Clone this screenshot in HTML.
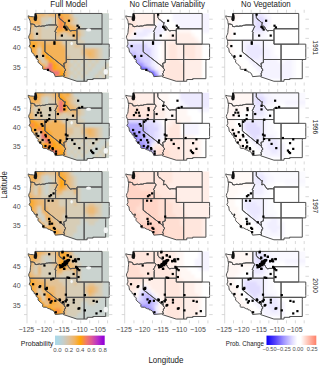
<!DOCTYPE html><html><head><meta charset="utf-8"><style>html,body{margin:0;padding:0;background:#fff;width:320px;height:367px;overflow:hidden;font-family:"Liberation Sans",sans-serif}</style></head><body><svg width="320" height="367" viewBox="0 0 320 367" style="position:absolute;left:0;top:0">
<defs><clipPath id="cp00"><path d="M35.06 13.45 L55.51 13.45 L55.51 23.35 L55.94 24.96 L48.56 24.96 L47.42 25.23 L46.34 25.27 L44.19 26.04 L42.58 25.96 L40.61 26.42 L39.54 26.04 L38.1 26.31 L36.85 26.69 L34.99 26.42 L34.88 25.54 L34.52 24.58 L33.45 24.31 L32.37 24 L30.58 23.97 L30.3 22.66 L30.22 21.51 L29.87 20.36 L29.15 18.82 L28.25 17.29 L27.97 15.83 L30.22 16.52 L33.45 16.83 L35.06 16.71 L35.06 13.45ZM30.58 23.97 L30.58 23.97 L32.37 24 L33.45 24.31 L34.52 24.58 L34.88 25.54 L34.99 26.42 L36.85 26.69 L38.1 26.31 L39.54 26.04 L40.61 26.42 L42.58 25.96 L44.19 26.04 L46.34 25.27 L47.42 25.23 L48.56 24.96 L55.94 24.96 L56.52 25.65 L57.55 26.5 L57.27 27.03 L56.77 27.76 L56.19 28.8 L56.05 29.41 L55.3 30.72 L54.83 31.49 L55.48 31.75 L55.84 32.45 L55.55 33.4 L55.55 40.31 L29.83 40.31 L29.15 38.78 L28.61 37.24 L29.15 35.32 L29.87 34.17 L30.22 32.64 L30.4 29.95 L30.76 26.88 L30.83 24.96 L30.58 23.97ZM29.83 40.31 L44.91 40.31 L44.91 51.82 L64.15 67.17 L64.36 67.94 L65.15 69.28 L65.94 69.97 L64.86 70.7 L64.5 71.39 L64.61 72.54 L63.82 73.31 L63.89 74.65 L64.72 75.42 L63.82 75.92 L55.23 76.65 L54.76 75.23 L53.86 73.31 L52.07 72.16 L50.64 71.97 L50.28 70.89 L49.21 71.01 L47.78 70.43 L46.34 69.47 L43.3 69.28 L42.58 68.7 L42.76 66.79 L41.69 65.44 L40.25 64.48 L38.1 62.18 L37.93 61.03 L38.46 60.26 L37.75 59.69 L36.31 58.73 L35.95 57.19 L35.95 56.43 L34.16 55.66 L34.16 54.51 L31.66 52.21 L31.3 49.9 L31.12 48.37 L29.33 46.83 L29.15 46.26 L30.22 44.15 L29.87 41.46 L29.83 40.31ZM44.91 40.31 L66.26 40.31 L66.26 62.6 L65.08 62.83 L63.75 63.37 L64.04 65.25 L64.36 66.59 L64.15 67.17 L44.91 51.82ZM55.51 13.45 L59.06 13.45 L59.06 17.37 L60.13 19.02 L60.35 19.51 L61.75 20.17 L63.03 21.39 L64.43 22.47 L65.22 22.43 L64.72 24.39 L64.97 25.46 L64.4 25.85 L64.61 26.65 L66.4 26.19 L67.12 26.5 L68.37 28.57 L69.98 30.72 L70.7 30.91 L72.31 30.53 L75.46 30.53 L76.97 30.8 L76.97 40.31 L55.55 40.31 L55.55 33.4 L55.84 32.45 L55.48 31.75 L54.83 31.49 L55.3 30.72 L56.05 29.41 L56.19 28.8 L56.77 27.76 L57.27 27.03 L57.55 26.5 L56.52 25.65 L55.94 24.96 L55.51 23.35ZM59.06 13.45 L102.04 13.45 L102.04 28.8 L76.97 28.8 L76.97 30.8 L75.46 30.53 L72.31 30.53 L70.7 30.91 L69.98 30.72 L68.37 28.57 L67.12 26.5 L66.4 26.19 L64.61 26.65 L64.4 25.85 L64.97 25.46 L64.72 24.39 L65.22 22.43 L64.43 22.47 L63.03 21.39 L61.75 20.17 L60.35 19.51 L60.13 19.02 L59.06 17.37 L59.06 13.45ZM76.97 28.8 L102.04 28.8 L102.04 44.15 L76.97 44.15ZM66.26 40.31 L76.97 40.31 L76.97 44.15 L84.13 44.15 L84.13 59.5 L66.26 59.5ZM84.13 44.15 L109.21 44.15 L109.21 59.5 L84.13 59.5ZM66.26 59.5 L84.13 59.5 L84.13 81.25 L76.9 81.25 L63.5 76.8 L63.82 75.92 L64.72 75.42 L63.89 74.65 L63.82 73.31 L64.61 72.54 L64.5 71.39 L64.86 70.7 L65.94 69.97 L65.15 69.28 L64.36 67.94 L64.15 67.17 L64.36 66.59 L64.04 65.25 L63.75 63.37 L65.08 62.83 L66.22 62.6ZM84.13 59.5 L105.8 59.5 L105.66 61.41 L105.66 78.68 L92.84 78.68 L93.16 79.53 L87.14 79.53 L87.14 81.25 L84.13 81.25ZM102.04 13.45 L108.85 13.45 L108.85 44.15 L102.04 44.15ZM105.66 59.5 L108.85 59.5 L108.85 78.68 L105.66 78.68Z"/></clipPath><clipPath id="cp01"><path d="M133.02 13.45 L154.14 13.45 L154.14 23.35 L154.58 24.96 L146.96 24.96 L145.78 25.23 L144.67 25.27 L142.45 26.04 L140.79 25.96 L138.75 26.42 L137.64 26.04 L136.16 26.31 L134.87 26.69 L132.95 26.42 L132.84 25.54 L132.47 24.58 L131.36 24.31 L130.25 24 L128.4 23.97 L128.1 22.66 L128.03 21.51 L127.66 20.36 L126.92 18.82 L125.99 17.29 L125.7 15.83 L128.03 16.52 L131.36 16.83 L133.02 16.71 L133.02 13.45ZM128.4 23.97 L128.4 23.97 L130.25 24 L131.36 24.31 L132.47 24.58 L132.84 25.54 L132.95 26.42 L134.87 26.69 L136.16 26.31 L137.64 26.04 L138.75 26.42 L140.79 25.96 L142.45 26.04 L144.67 25.27 L145.78 25.23 L146.96 24.96 L154.58 24.96 L155.17 25.65 L156.24 26.5 L155.95 27.03 L155.43 27.76 L154.84 28.8 L154.69 29.41 L153.91 30.72 L153.43 31.49 L154.1 31.75 L154.47 32.45 L154.17 33.4 L154.17 40.31 L127.62 40.31 L126.92 38.78 L126.36 37.24 L126.92 35.32 L127.66 34.17 L128.03 32.64 L128.21 29.95 L128.58 26.88 L128.66 24.96 L128.4 23.97ZM127.62 40.31 L143.19 40.31 L143.19 51.82 L163.05 67.17 L163.27 67.94 L164.08 69.28 L164.9 69.97 L163.79 70.7 L163.42 71.39 L163.53 72.54 L162.72 73.31 L162.79 74.65 L163.64 75.42 L162.72 75.92 L153.84 76.65 L153.36 75.23 L152.44 73.31 L150.59 72.16 L149.11 71.97 L148.74 70.89 L147.63 71.01 L146.15 70.43 L144.67 69.47 L141.53 69.28 L140.79 68.7 L140.97 66.79 L139.86 65.44 L138.38 64.48 L136.16 62.18 L135.98 61.03 L136.53 60.26 L135.79 59.69 L134.31 58.73 L133.94 57.19 L133.94 56.43 L132.1 55.66 L132.1 54.51 L129.51 52.21 L129.14 49.9 L128.95 48.37 L127.1 46.83 L126.92 46.26 L128.03 44.15 L127.66 41.46 L127.62 40.31ZM143.19 40.31 L165.23 40.31 L165.23 62.6 L164.01 62.83 L162.64 63.37 L162.94 65.25 L163.27 66.59 L163.05 67.17 L143.19 51.82ZM154.14 13.45 L157.8 13.45 L157.8 17.37 L158.91 19.02 L159.13 19.51 L160.57 20.17 L161.9 21.39 L163.34 22.47 L164.16 22.43 L163.64 24.39 L163.9 25.46 L163.31 25.85 L163.53 26.65 L165.38 26.19 L166.12 26.5 L167.41 28.57 L169.08 30.72 L169.82 30.91 L171.48 30.53 L174.73 30.53 L176.29 30.8 L176.29 40.31 L154.17 40.31 L154.17 33.4 L154.47 32.45 L154.1 31.75 L153.43 31.49 L153.91 30.72 L154.69 29.41 L154.84 28.8 L155.43 27.76 L155.95 27.03 L156.24 26.5 L155.17 25.65 L154.58 24.96 L154.14 23.35ZM157.8 13.45 L202.17 13.45 L202.17 28.8 L176.29 28.8 L176.29 30.8 L174.73 30.53 L171.48 30.53 L169.82 30.91 L169.08 30.72 L167.41 28.57 L166.12 26.5 L165.38 26.19 L163.53 26.65 L163.31 25.85 L163.9 25.46 L163.64 24.39 L164.16 22.43 L163.34 22.47 L161.9 21.39 L160.57 20.17 L159.13 19.51 L158.91 19.02 L157.8 17.37 L157.8 13.45ZM176.29 28.8 L202.17 28.8 L202.17 44.15 L176.29 44.15ZM165.23 40.31 L176.29 40.31 L176.29 44.15 L183.68 44.15 L183.68 59.5 L165.23 59.5ZM183.68 44.15 L209.57 44.15 L209.57 59.5 L183.68 59.5ZM165.23 59.5 L183.68 59.5 L183.68 81.25 L176.21 81.25 L162.38 76.8 L162.72 75.92 L163.64 75.42 L162.79 74.65 L162.72 73.31 L163.53 72.54 L163.42 71.39 L163.79 70.7 L164.9 69.97 L164.08 69.28 L163.27 67.94 L163.05 67.17 L163.27 66.59 L162.94 65.25 L162.64 63.37 L164.01 62.83 L165.19 62.6ZM183.68 59.5 L206.06 59.5 L205.91 61.41 L205.91 78.68 L192.67 78.68 L193 79.53 L186.79 79.53 L186.79 81.25 L183.68 81.25ZM202.17 13.45 L209.2 13.45 L209.2 44.15 L202.17 44.15Z"/></clipPath><clipPath id="cp02"><path d="M232.65 13.45 L252.82 13.45 L252.82 23.35 L253.25 24.96 L245.97 24.96 L244.84 25.23 L243.78 25.27 L241.66 26.04 L240.07 25.96 L238.13 26.42 L237.07 26.04 L235.65 26.31 L234.42 26.69 L232.58 26.42 L232.47 25.54 L232.12 24.58 L231.06 24.31 L230 24 L228.23 23.97 L227.95 22.66 L227.88 21.51 L227.53 20.36 L226.82 18.82 L225.94 17.29 L225.65 15.83 L227.88 16.52 L231.06 16.83 L232.65 16.71 L232.65 13.45ZM228.23 23.97 L228.23 23.97 L230 24 L231.06 24.31 L232.12 24.58 L232.47 25.54 L232.58 26.42 L234.42 26.69 L235.65 26.31 L237.07 26.04 L238.13 26.42 L240.07 25.96 L241.66 26.04 L243.78 25.27 L244.84 25.23 L245.97 24.96 L253.25 24.96 L253.81 25.65 L254.84 26.5 L254.55 27.03 L254.06 27.76 L253.49 28.8 L253.35 29.41 L252.61 30.72 L252.15 31.49 L252.79 31.75 L253.14 32.45 L252.86 33.4 L252.86 40.31 L227.49 40.31 L226.82 38.78 L226.29 37.24 L226.82 35.32 L227.53 34.17 L227.88 32.64 L228.06 29.95 L228.41 26.88 L228.48 24.96 L228.23 23.97ZM227.49 40.31 L242.36 40.31 L242.36 51.82 L261.34 67.17 L261.55 67.94 L262.33 69.28 L263.1 69.97 L262.04 70.7 L261.69 71.39 L261.8 72.54 L261.02 73.31 L261.09 74.65 L261.9 75.42 L261.02 75.92 L252.54 76.65 L252.08 75.23 L251.2 73.31 L249.43 72.16 L248.02 71.97 L247.66 70.89 L246.6 71.01 L245.19 70.43 L243.78 69.47 L240.78 69.28 L240.07 68.7 L240.25 66.79 L239.19 65.44 L237.77 64.48 L235.65 62.18 L235.48 61.03 L236.01 60.26 L235.3 59.69 L233.89 58.73 L233.53 57.19 L233.53 56.43 L231.77 55.66 L231.77 54.51 L229.29 52.21 L228.94 49.9 L228.76 48.37 L227 46.83 L226.82 46.26 L227.88 44.15 L227.53 41.46 L227.49 40.31ZM242.36 40.31 L263.42 40.31 L263.42 62.6 L262.26 62.83 L260.95 63.37 L261.23 65.25 L261.55 66.59 L261.34 67.17 L242.36 51.82ZM252.82 13.45 L256.32 13.45 L256.32 17.37 L257.38 19.02 L257.59 19.51 L258.97 20.17 L260.24 21.39 L261.62 22.47 L262.4 22.43 L261.9 24.39 L262.15 25.46 L261.58 25.85 L261.8 26.65 L263.56 26.19 L264.27 26.5 L265.51 28.57 L267.1 30.72 L267.8 30.91 L269.39 30.53 L272.5 30.53 L273.99 30.8 L273.99 40.31 L252.86 40.31 L252.86 33.4 L253.14 32.45 L252.79 31.75 L252.15 31.49 L252.61 30.72 L253.35 29.41 L253.49 28.8 L254.06 27.76 L254.55 27.03 L254.84 26.5 L253.81 25.65 L253.25 24.96 L252.82 23.35ZM256.32 13.45 L298.72 13.45 L298.72 28.8 L273.99 28.8 L273.99 30.8 L272.5 30.53 L269.39 30.53 L267.8 30.91 L267.1 30.72 L265.51 28.57 L264.27 26.5 L263.56 26.19 L261.8 26.65 L261.58 25.85 L262.15 25.46 L261.9 24.39 L262.4 22.43 L261.62 22.47 L260.24 21.39 L258.97 20.17 L257.59 19.51 L257.38 19.02 L256.32 17.37 L256.32 13.45ZM273.99 28.8 L298.72 28.8 L298.72 44.15 L273.99 44.15ZM263.42 40.31 L273.99 40.31 L273.99 44.15 L281.05 44.15 L281.05 59.5 L263.42 59.5ZM281.05 44.15 L305.78 44.15 L305.78 59.5 L281.05 59.5ZM263.42 59.5 L281.05 59.5 L281.05 81.25 L273.91 81.25 L260.7 76.8 L261.02 75.92 L261.9 75.42 L261.09 74.65 L261.02 73.31 L261.8 72.54 L261.69 71.39 L262.04 70.7 L263.1 69.97 L262.33 69.28 L261.55 67.94 L261.34 67.17 L261.55 66.59 L261.23 65.25 L260.95 63.37 L262.26 62.83 L263.39 62.6ZM281.05 59.5 L302.43 59.5 L302.28 61.41 L302.28 78.68 L289.64 78.68 L289.95 79.53 L284.02 79.53 L284.02 81.25 L281.05 81.25ZM298.72 13.45 L305.43 13.45 L305.43 44.15 L298.72 44.15Z"/></clipPath><clipPath id="cp10"><path d="M35.06 92.86 L55.51 92.86 L55.51 102.69 L55.94 104.29 L48.56 104.29 L47.42 104.56 L46.34 104.59 L44.19 105.36 L42.58 105.28 L40.61 105.74 L39.54 105.36 L38.1 105.62 L36.85 106 L34.99 105.74 L34.88 104.86 L34.52 103.91 L33.45 103.64 L32.37 103.34 L30.58 103.3 L30.3 102 L30.22 100.86 L29.87 99.72 L29.15 98.19 L28.25 96.67 L27.97 95.22 L30.22 95.91 L33.45 96.21 L35.06 96.1 L35.06 92.86ZM30.58 103.3 L30.58 103.3 L32.37 103.34 L33.45 103.64 L34.52 103.91 L34.88 104.86 L34.99 105.74 L36.85 106 L38.1 105.62 L39.54 105.36 L40.61 105.74 L42.58 105.28 L44.19 105.36 L46.34 104.59 L47.42 104.56 L48.56 104.29 L55.94 104.29 L56.52 104.98 L57.55 105.81 L57.27 106.35 L56.77 107.07 L56.19 108.1 L56.05 108.71 L55.3 110 L54.83 110.77 L55.48 111.03 L55.84 111.72 L55.55 112.67 L55.55 119.53 L29.83 119.53 L29.15 118.01 L28.61 116.48 L29.15 114.58 L29.87 113.43 L30.22 111.91 L30.4 109.24 L30.76 106.19 L30.83 104.29 L30.58 103.3ZM29.83 119.53 L44.91 119.53 L44.91 130.96 L64.15 146.2 L64.36 146.96 L65.15 148.3 L65.94 148.98 L64.86 149.71 L64.5 150.39 L64.61 151.53 L63.82 152.3 L63.89 153.63 L64.72 154.39 L63.82 154.89 L55.23 155.61 L54.76 154.2 L53.86 152.3 L52.07 151.15 L50.64 150.96 L50.28 149.9 L49.21 150.01 L47.78 149.44 L46.34 148.49 L43.3 148.3 L42.58 147.72 L42.76 145.82 L41.69 144.49 L40.25 143.53 L38.1 141.25 L37.93 140.1 L38.46 139.34 L37.75 138.77 L36.31 137.82 L35.95 136.29 L35.95 135.53 L34.16 134.77 L34.16 133.63 L31.66 131.34 L31.3 129.06 L31.12 127.53 L29.33 126.01 L29.15 125.44 L30.22 123.34 L29.87 120.67 L29.83 119.53ZM44.91 119.53 L66.26 119.53 L66.26 141.67 L65.08 141.89 L63.75 142.43 L64.04 144.29 L64.36 145.63 L64.15 146.2 L44.91 130.96ZM55.51 92.86 L59.06 92.86 L59.06 96.75 L60.13 98.38 L60.35 98.88 L61.75 99.53 L63.03 100.75 L64.43 101.81 L65.22 101.78 L64.72 103.72 L64.97 104.79 L64.4 105.17 L64.61 105.97 L66.4 105.51 L67.12 105.81 L68.37 107.87 L69.98 110 L70.7 110.2 L72.31 109.81 L75.46 109.81 L76.97 110.08 L76.97 119.53 L55.55 119.53 L55.55 112.67 L55.84 111.72 L55.48 111.03 L54.83 110.77 L55.3 110 L56.05 108.71 L56.19 108.1 L56.77 107.07 L57.27 106.35 L57.55 105.81 L56.52 104.98 L55.94 104.29 L55.51 102.69ZM59.06 92.86 L102.04 92.86 L102.04 108.1 L76.97 108.1 L76.97 110.08 L75.46 109.81 L72.31 109.81 L70.7 110.2 L69.98 110 L68.37 107.87 L67.12 105.81 L66.4 105.51 L64.61 105.97 L64.4 105.17 L64.97 104.79 L64.72 103.72 L65.22 101.78 L64.43 101.81 L63.03 100.75 L61.75 99.53 L60.35 98.88 L60.13 98.38 L59.06 96.75 L59.06 92.86ZM76.97 108.1 L102.04 108.1 L102.04 123.34 L76.97 123.34ZM66.26 119.53 L76.97 119.53 L76.97 123.34 L84.13 123.34 L84.13 138.58 L66.26 138.58ZM84.13 123.34 L109.21 123.34 L109.21 138.58 L84.13 138.58ZM66.26 138.58 L84.13 138.58 L84.13 160.18 L76.9 160.18 L63.5 155.76 L63.82 154.89 L64.72 154.39 L63.89 153.63 L63.82 152.3 L64.61 151.53 L64.5 150.39 L64.86 149.71 L65.94 148.98 L65.15 148.3 L64.36 146.96 L64.15 146.2 L64.36 145.63 L64.04 144.29 L63.75 142.43 L65.08 141.89 L66.22 141.67ZM84.13 138.58 L105.8 138.58 L105.66 140.48 L105.66 157.63 L92.84 157.63 L93.16 158.47 L87.14 158.47 L87.14 160.18 L84.13 160.18ZM102.04 92.86 L108.85 92.86 L108.85 123.34 L102.04 123.34ZM105.66 138.58 L108.85 138.58 L108.85 157.63 L105.66 157.63Z"/></clipPath><clipPath id="cp11"><path d="M133.02 92.86 L154.14 92.86 L154.14 102.69 L154.58 104.29 L146.96 104.29 L145.78 104.56 L144.67 104.59 L142.45 105.36 L140.79 105.28 L138.75 105.74 L137.64 105.36 L136.16 105.62 L134.87 106 L132.95 105.74 L132.84 104.86 L132.47 103.91 L131.36 103.64 L130.25 103.34 L128.4 103.3 L128.1 102 L128.03 100.86 L127.66 99.72 L126.92 98.19 L125.99 96.67 L125.7 95.22 L128.03 95.91 L131.36 96.21 L133.02 96.1 L133.02 92.86ZM128.4 103.3 L128.4 103.3 L130.25 103.34 L131.36 103.64 L132.47 103.91 L132.84 104.86 L132.95 105.74 L134.87 106 L136.16 105.62 L137.64 105.36 L138.75 105.74 L140.79 105.28 L142.45 105.36 L144.67 104.59 L145.78 104.56 L146.96 104.29 L154.58 104.29 L155.17 104.98 L156.24 105.81 L155.95 106.35 L155.43 107.07 L154.84 108.1 L154.69 108.71 L153.91 110 L153.43 110.77 L154.1 111.03 L154.47 111.72 L154.17 112.67 L154.17 119.53 L127.62 119.53 L126.92 118.01 L126.36 116.48 L126.92 114.58 L127.66 113.43 L128.03 111.91 L128.21 109.24 L128.58 106.19 L128.66 104.29 L128.4 103.3ZM127.62 119.53 L143.19 119.53 L143.19 130.96 L163.05 146.2 L163.27 146.96 L164.08 148.3 L164.9 148.98 L163.79 149.71 L163.42 150.39 L163.53 151.53 L162.72 152.3 L162.79 153.63 L163.64 154.39 L162.72 154.89 L153.84 155.61 L153.36 154.2 L152.44 152.3 L150.59 151.15 L149.11 150.96 L148.74 149.9 L147.63 150.01 L146.15 149.44 L144.67 148.49 L141.53 148.3 L140.79 147.72 L140.97 145.82 L139.86 144.49 L138.38 143.53 L136.16 141.25 L135.98 140.1 L136.53 139.34 L135.79 138.77 L134.31 137.82 L133.94 136.29 L133.94 135.53 L132.1 134.77 L132.1 133.63 L129.51 131.34 L129.14 129.06 L128.95 127.53 L127.1 126.01 L126.92 125.44 L128.03 123.34 L127.66 120.67 L127.62 119.53ZM143.19 119.53 L165.23 119.53 L165.23 141.67 L164.01 141.89 L162.64 142.43 L162.94 144.29 L163.27 145.63 L163.05 146.2 L143.19 130.96ZM154.14 92.86 L157.8 92.86 L157.8 96.75 L158.91 98.38 L159.13 98.88 L160.57 99.53 L161.9 100.75 L163.34 101.81 L164.16 101.78 L163.64 103.72 L163.9 104.79 L163.31 105.17 L163.53 105.97 L165.38 105.51 L166.12 105.81 L167.41 107.87 L169.08 110 L169.82 110.2 L171.48 109.81 L174.73 109.81 L176.29 110.08 L176.29 119.53 L154.17 119.53 L154.17 112.67 L154.47 111.72 L154.1 111.03 L153.43 110.77 L153.91 110 L154.69 108.71 L154.84 108.1 L155.43 107.07 L155.95 106.35 L156.24 105.81 L155.17 104.98 L154.58 104.29 L154.14 102.69ZM157.8 92.86 L202.17 92.86 L202.17 108.1 L176.29 108.1 L176.29 110.08 L174.73 109.81 L171.48 109.81 L169.82 110.2 L169.08 110 L167.41 107.87 L166.12 105.81 L165.38 105.51 L163.53 105.97 L163.31 105.17 L163.9 104.79 L163.64 103.72 L164.16 101.78 L163.34 101.81 L161.9 100.75 L160.57 99.53 L159.13 98.88 L158.91 98.38 L157.8 96.75 L157.8 92.86ZM176.29 108.1 L202.17 108.1 L202.17 123.34 L176.29 123.34ZM165.23 119.53 L176.29 119.53 L176.29 123.34 L183.68 123.34 L183.68 138.58 L165.23 138.58ZM183.68 123.34 L209.57 123.34 L209.57 138.58 L183.68 138.58ZM165.23 138.58 L183.68 138.58 L183.68 160.18 L176.21 160.18 L162.38 155.76 L162.72 154.89 L163.64 154.39 L162.79 153.63 L162.72 152.3 L163.53 151.53 L163.42 150.39 L163.79 149.71 L164.9 148.98 L164.08 148.3 L163.27 146.96 L163.05 146.2 L163.27 145.63 L162.94 144.29 L162.64 142.43 L164.01 141.89 L165.19 141.67ZM183.68 138.58 L206.06 138.58 L205.91 140.48 L205.91 157.63 L192.67 157.63 L193 158.47 L186.79 158.47 L186.79 160.18 L183.68 160.18ZM202.17 92.86 L209.2 92.86 L209.2 123.34 L202.17 123.34Z"/></clipPath><clipPath id="cp12"><path d="M232.65 92.86 L252.82 92.86 L252.82 102.69 L253.25 104.29 L245.97 104.29 L244.84 104.56 L243.78 104.59 L241.66 105.36 L240.07 105.28 L238.13 105.74 L237.07 105.36 L235.65 105.62 L234.42 106 L232.58 105.74 L232.47 104.86 L232.12 103.91 L231.06 103.64 L230 103.34 L228.23 103.3 L227.95 102 L227.88 100.86 L227.53 99.72 L226.82 98.19 L225.94 96.67 L225.65 95.22 L227.88 95.91 L231.06 96.21 L232.65 96.1 L232.65 92.86ZM228.23 103.3 L228.23 103.3 L230 103.34 L231.06 103.64 L232.12 103.91 L232.47 104.86 L232.58 105.74 L234.42 106 L235.65 105.62 L237.07 105.36 L238.13 105.74 L240.07 105.28 L241.66 105.36 L243.78 104.59 L244.84 104.56 L245.97 104.29 L253.25 104.29 L253.81 104.98 L254.84 105.81 L254.55 106.35 L254.06 107.07 L253.49 108.1 L253.35 108.71 L252.61 110 L252.15 110.77 L252.79 111.03 L253.14 111.72 L252.86 112.67 L252.86 119.53 L227.49 119.53 L226.82 118.01 L226.29 116.48 L226.82 114.58 L227.53 113.43 L227.88 111.91 L228.06 109.24 L228.41 106.19 L228.48 104.29 L228.23 103.3ZM227.49 119.53 L242.36 119.53 L242.36 130.96 L261.34 146.2 L261.55 146.96 L262.33 148.3 L263.1 148.98 L262.04 149.71 L261.69 150.39 L261.8 151.53 L261.02 152.3 L261.09 153.63 L261.9 154.39 L261.02 154.89 L252.54 155.61 L252.08 154.2 L251.2 152.3 L249.43 151.15 L248.02 150.96 L247.66 149.9 L246.6 150.01 L245.19 149.44 L243.78 148.49 L240.78 148.3 L240.07 147.72 L240.25 145.82 L239.19 144.49 L237.77 143.53 L235.65 141.25 L235.48 140.1 L236.01 139.34 L235.3 138.77 L233.89 137.82 L233.53 136.29 L233.53 135.53 L231.77 134.77 L231.77 133.63 L229.29 131.34 L228.94 129.06 L228.76 127.53 L227 126.01 L226.82 125.44 L227.88 123.34 L227.53 120.67 L227.49 119.53ZM242.36 119.53 L263.42 119.53 L263.42 141.67 L262.26 141.89 L260.95 142.43 L261.23 144.29 L261.55 145.63 L261.34 146.2 L242.36 130.96ZM252.82 92.86 L256.32 92.86 L256.32 96.75 L257.38 98.38 L257.59 98.88 L258.97 99.53 L260.24 100.75 L261.62 101.81 L262.4 101.78 L261.9 103.72 L262.15 104.79 L261.58 105.17 L261.8 105.97 L263.56 105.51 L264.27 105.81 L265.51 107.87 L267.1 110 L267.8 110.2 L269.39 109.81 L272.5 109.81 L273.99 110.08 L273.99 119.53 L252.86 119.53 L252.86 112.67 L253.14 111.72 L252.79 111.03 L252.15 110.77 L252.61 110 L253.35 108.71 L253.49 108.1 L254.06 107.07 L254.55 106.35 L254.84 105.81 L253.81 104.98 L253.25 104.29 L252.82 102.69ZM256.32 92.86 L298.72 92.86 L298.72 108.1 L273.99 108.1 L273.99 110.08 L272.5 109.81 L269.39 109.81 L267.8 110.2 L267.1 110 L265.51 107.87 L264.27 105.81 L263.56 105.51 L261.8 105.97 L261.58 105.17 L262.15 104.79 L261.9 103.72 L262.4 101.78 L261.62 101.81 L260.24 100.75 L258.97 99.53 L257.59 98.88 L257.38 98.38 L256.32 96.75 L256.32 92.86ZM273.99 108.1 L298.72 108.1 L298.72 123.34 L273.99 123.34ZM263.42 119.53 L273.99 119.53 L273.99 123.34 L281.05 123.34 L281.05 138.58 L263.42 138.58ZM281.05 123.34 L305.78 123.34 L305.78 138.58 L281.05 138.58ZM263.42 138.58 L281.05 138.58 L281.05 160.18 L273.91 160.18 L260.7 155.76 L261.02 154.89 L261.9 154.39 L261.09 153.63 L261.02 152.3 L261.8 151.53 L261.69 150.39 L262.04 149.71 L263.1 148.98 L262.33 148.3 L261.55 146.96 L261.34 146.2 L261.55 145.63 L261.23 144.29 L260.95 142.43 L262.26 141.89 L263.39 141.67ZM281.05 138.58 L302.43 138.58 L302.28 140.48 L302.28 157.63 L289.64 157.63 L289.95 158.47 L284.02 158.47 L284.02 160.18 L281.05 160.18ZM298.72 92.86 L305.43 92.86 L305.43 123.34 L298.72 123.34Z"/></clipPath><clipPath id="cp20"><path d="M35.06 171.56 L55.51 171.56 L55.51 181.52 L55.94 183.14 L48.56 183.14 L47.42 183.41 L46.34 183.45 L44.19 184.22 L42.58 184.14 L40.61 184.61 L39.54 184.22 L38.1 184.49 L36.85 184.88 L34.99 184.61 L34.88 183.72 L34.52 182.75 L33.45 182.48 L32.37 182.18 L30.58 182.14 L30.3 180.82 L30.22 179.67 L29.87 178.51 L29.15 176.96 L28.25 175.42 L27.97 173.95 L30.22 174.65 L33.45 174.96 L35.06 174.84 L35.06 171.56ZM30.58 182.14 L30.58 182.14 L32.37 182.18 L33.45 182.48 L34.52 182.75 L34.88 183.72 L34.99 184.61 L36.85 184.88 L38.1 184.49 L39.54 184.22 L40.61 184.61 L42.58 184.14 L44.19 184.22 L46.34 183.45 L47.42 183.41 L48.56 183.14 L55.94 183.14 L56.52 183.83 L57.55 184.68 L57.27 185.22 L56.77 185.96 L56.19 187 L56.05 187.62 L55.3 188.93 L54.83 189.7 L55.48 189.97 L55.84 190.67 L55.55 191.63 L55.55 198.58 L29.83 198.58 L29.15 197.04 L28.61 195.49 L29.15 193.56 L29.87 192.4 L30.22 190.86 L30.4 188.16 L30.76 185.07 L30.83 183.14 L30.58 182.14ZM29.83 198.58 L44.91 198.58 L44.91 210.16 L64.15 225.6 L64.36 226.37 L65.15 227.72 L65.94 228.42 L64.86 229.15 L64.5 229.85 L64.61 231 L63.82 231.78 L63.89 233.13 L64.72 233.9 L63.82 234.4 L55.23 235.13 L54.76 233.71 L53.86 231.78 L52.07 230.62 L50.64 230.43 L50.28 229.34 L49.21 229.46 L47.78 228.88 L46.34 227.92 L43.3 227.72 L42.58 227.14 L42.76 225.21 L41.69 223.86 L40.25 222.9 L38.1 220.58 L37.93 219.42 L38.46 218.65 L37.75 218.07 L36.31 217.11 L35.95 215.56 L35.95 214.79 L34.16 214.02 L34.16 212.86 L31.66 210.55 L31.3 208.23 L31.12 206.69 L29.33 205.14 L29.15 204.56 L30.22 202.44 L29.87 199.74 L29.83 198.58ZM44.91 198.58 L66.26 198.58 L66.26 221.01 L65.08 221.24 L63.75 221.78 L64.04 223.67 L64.36 225.02 L64.15 225.6 L44.91 210.16ZM55.51 171.56 L59.06 171.56 L59.06 175.5 L60.13 177.16 L60.35 177.66 L61.75 178.31 L63.03 179.55 L64.43 180.63 L65.22 180.59 L64.72 182.56 L64.97 183.64 L64.4 184.03 L64.61 184.84 L66.4 184.38 L67.12 184.68 L68.37 186.77 L69.98 188.93 L70.7 189.12 L72.31 188.74 L75.46 188.74 L76.97 189.01 L76.97 198.58 L55.55 198.58 L55.55 191.63 L55.84 190.67 L55.48 189.97 L54.83 189.7 L55.3 188.93 L56.05 187.62 L56.19 187 L56.77 185.96 L57.27 185.22 L57.55 184.68 L56.52 183.83 L55.94 183.14 L55.51 181.52ZM59.06 171.56 L102.04 171.56 L102.04 187 L76.97 187 L76.97 189.01 L75.46 188.74 L72.31 188.74 L70.7 189.12 L69.98 188.93 L68.37 186.77 L67.12 184.68 L66.4 184.38 L64.61 184.84 L64.4 184.03 L64.97 183.64 L64.72 182.56 L65.22 180.59 L64.43 180.63 L63.03 179.55 L61.75 178.31 L60.35 177.66 L60.13 177.16 L59.06 175.5 L59.06 171.56ZM76.97 187 L102.04 187 L102.04 202.44 L76.97 202.44ZM66.26 198.58 L76.97 198.58 L76.97 202.44 L84.13 202.44 L84.13 217.88 L66.26 217.88ZM84.13 202.44 L109.21 202.44 L109.21 217.88 L84.13 217.88ZM66.26 217.88 L84.13 217.88 L84.13 239.77 L76.9 239.77 L63.5 235.29 L63.82 234.4 L64.72 233.9 L63.89 233.13 L63.82 231.78 L64.61 231 L64.5 229.85 L64.86 229.15 L65.94 228.42 L65.15 227.72 L64.36 226.37 L64.15 225.6 L64.36 225.02 L64.04 223.67 L63.75 221.78 L65.08 221.24 L66.22 221.01ZM84.13 217.88 L105.8 217.88 L105.66 219.81 L105.66 237.18 L92.84 237.18 L93.16 238.03 L87.14 238.03 L87.14 239.77 L84.13 239.77ZM102.04 171.56 L108.85 171.56 L108.85 202.44 L102.04 202.44ZM105.66 217.88 L108.85 217.88 L108.85 237.18 L105.66 237.18Z"/></clipPath><clipPath id="cp21"><path d="M133.02 171.56 L154.14 171.56 L154.14 181.52 L154.58 183.14 L146.96 183.14 L145.78 183.41 L144.67 183.45 L142.45 184.22 L140.79 184.14 L138.75 184.61 L137.64 184.22 L136.16 184.49 L134.87 184.88 L132.95 184.61 L132.84 183.72 L132.47 182.75 L131.36 182.48 L130.25 182.18 L128.4 182.14 L128.1 180.82 L128.03 179.67 L127.66 178.51 L126.92 176.96 L125.99 175.42 L125.7 173.95 L128.03 174.65 L131.36 174.96 L133.02 174.84 L133.02 171.56ZM128.4 182.14 L128.4 182.14 L130.25 182.18 L131.36 182.48 L132.47 182.75 L132.84 183.72 L132.95 184.61 L134.87 184.88 L136.16 184.49 L137.64 184.22 L138.75 184.61 L140.79 184.14 L142.45 184.22 L144.67 183.45 L145.78 183.41 L146.96 183.14 L154.58 183.14 L155.17 183.83 L156.24 184.68 L155.95 185.22 L155.43 185.96 L154.84 187 L154.69 187.62 L153.91 188.93 L153.43 189.7 L154.1 189.97 L154.47 190.67 L154.17 191.63 L154.17 198.58 L127.62 198.58 L126.92 197.04 L126.36 195.49 L126.92 193.56 L127.66 192.4 L128.03 190.86 L128.21 188.16 L128.58 185.07 L128.66 183.14 L128.4 182.14ZM127.62 198.58 L143.19 198.58 L143.19 210.16 L163.05 225.6 L163.27 226.37 L164.08 227.72 L164.9 228.42 L163.79 229.15 L163.42 229.85 L163.53 231 L162.72 231.78 L162.79 233.13 L163.64 233.9 L162.72 234.4 L153.84 235.13 L153.36 233.71 L152.44 231.78 L150.59 230.62 L149.11 230.43 L148.74 229.34 L147.63 229.46 L146.15 228.88 L144.67 227.92 L141.53 227.72 L140.79 227.14 L140.97 225.21 L139.86 223.86 L138.38 222.9 L136.16 220.58 L135.98 219.42 L136.53 218.65 L135.79 218.07 L134.31 217.11 L133.94 215.56 L133.94 214.79 L132.1 214.02 L132.1 212.86 L129.51 210.55 L129.14 208.23 L128.95 206.69 L127.1 205.14 L126.92 204.56 L128.03 202.44 L127.66 199.74 L127.62 198.58ZM143.19 198.58 L165.23 198.58 L165.23 221.01 L164.01 221.24 L162.64 221.78 L162.94 223.67 L163.27 225.02 L163.05 225.6 L143.19 210.16ZM154.14 171.56 L157.8 171.56 L157.8 175.5 L158.91 177.16 L159.13 177.66 L160.57 178.31 L161.9 179.55 L163.34 180.63 L164.16 180.59 L163.64 182.56 L163.9 183.64 L163.31 184.03 L163.53 184.84 L165.38 184.38 L166.12 184.68 L167.41 186.77 L169.08 188.93 L169.82 189.12 L171.48 188.74 L174.73 188.74 L176.29 189.01 L176.29 198.58 L154.17 198.58 L154.17 191.63 L154.47 190.67 L154.1 189.97 L153.43 189.7 L153.91 188.93 L154.69 187.62 L154.84 187 L155.43 185.96 L155.95 185.22 L156.24 184.68 L155.17 183.83 L154.58 183.14 L154.14 181.52ZM157.8 171.56 L202.17 171.56 L202.17 187 L176.29 187 L176.29 189.01 L174.73 188.74 L171.48 188.74 L169.82 189.12 L169.08 188.93 L167.41 186.77 L166.12 184.68 L165.38 184.38 L163.53 184.84 L163.31 184.03 L163.9 183.64 L163.64 182.56 L164.16 180.59 L163.34 180.63 L161.9 179.55 L160.57 178.31 L159.13 177.66 L158.91 177.16 L157.8 175.5 L157.8 171.56ZM176.29 187 L202.17 187 L202.17 202.44 L176.29 202.44ZM165.23 198.58 L176.29 198.58 L176.29 202.44 L183.68 202.44 L183.68 217.88 L165.23 217.88ZM183.68 202.44 L209.57 202.44 L209.57 217.88 L183.68 217.88ZM165.23 217.88 L183.68 217.88 L183.68 239.77 L176.21 239.77 L162.38 235.29 L162.72 234.4 L163.64 233.9 L162.79 233.13 L162.72 231.78 L163.53 231 L163.42 229.85 L163.79 229.15 L164.9 228.42 L164.08 227.72 L163.27 226.37 L163.05 225.6 L163.27 225.02 L162.94 223.67 L162.64 221.78 L164.01 221.24 L165.19 221.01ZM183.68 217.88 L206.06 217.88 L205.91 219.81 L205.91 237.18 L192.67 237.18 L193 238.03 L186.79 238.03 L186.79 239.77 L183.68 239.77ZM202.17 171.56 L209.2 171.56 L209.2 202.44 L202.17 202.44Z"/></clipPath><clipPath id="cp22"><path d="M232.65 171.56 L252.82 171.56 L252.82 181.52 L253.25 183.14 L245.97 183.14 L244.84 183.41 L243.78 183.45 L241.66 184.22 L240.07 184.14 L238.13 184.61 L237.07 184.22 L235.65 184.49 L234.42 184.88 L232.58 184.61 L232.47 183.72 L232.12 182.75 L231.06 182.48 L230 182.18 L228.23 182.14 L227.95 180.82 L227.88 179.67 L227.53 178.51 L226.82 176.96 L225.94 175.42 L225.65 173.95 L227.88 174.65 L231.06 174.96 L232.65 174.84 L232.65 171.56ZM228.23 182.14 L228.23 182.14 L230 182.18 L231.06 182.48 L232.12 182.75 L232.47 183.72 L232.58 184.61 L234.42 184.88 L235.65 184.49 L237.07 184.22 L238.13 184.61 L240.07 184.14 L241.66 184.22 L243.78 183.45 L244.84 183.41 L245.97 183.14 L253.25 183.14 L253.81 183.83 L254.84 184.68 L254.55 185.22 L254.06 185.96 L253.49 187 L253.35 187.62 L252.61 188.93 L252.15 189.7 L252.79 189.97 L253.14 190.67 L252.86 191.63 L252.86 198.58 L227.49 198.58 L226.82 197.04 L226.29 195.49 L226.82 193.56 L227.53 192.4 L227.88 190.86 L228.06 188.16 L228.41 185.07 L228.48 183.14 L228.23 182.14ZM227.49 198.58 L242.36 198.58 L242.36 210.16 L261.34 225.6 L261.55 226.37 L262.33 227.72 L263.1 228.42 L262.04 229.15 L261.69 229.85 L261.8 231 L261.02 231.78 L261.09 233.13 L261.9 233.9 L261.02 234.4 L252.54 235.13 L252.08 233.71 L251.2 231.78 L249.43 230.62 L248.02 230.43 L247.66 229.34 L246.6 229.46 L245.19 228.88 L243.78 227.92 L240.78 227.72 L240.07 227.14 L240.25 225.21 L239.19 223.86 L237.77 222.9 L235.65 220.58 L235.48 219.42 L236.01 218.65 L235.3 218.07 L233.89 217.11 L233.53 215.56 L233.53 214.79 L231.77 214.02 L231.77 212.86 L229.29 210.55 L228.94 208.23 L228.76 206.69 L227 205.14 L226.82 204.56 L227.88 202.44 L227.53 199.74 L227.49 198.58ZM242.36 198.58 L263.42 198.58 L263.42 221.01 L262.26 221.24 L260.95 221.78 L261.23 223.67 L261.55 225.02 L261.34 225.6 L242.36 210.16ZM252.82 171.56 L256.32 171.56 L256.32 175.5 L257.38 177.16 L257.59 177.66 L258.97 178.31 L260.24 179.55 L261.62 180.63 L262.4 180.59 L261.9 182.56 L262.15 183.64 L261.58 184.03 L261.8 184.84 L263.56 184.38 L264.27 184.68 L265.51 186.77 L267.1 188.93 L267.8 189.12 L269.39 188.74 L272.5 188.74 L273.99 189.01 L273.99 198.58 L252.86 198.58 L252.86 191.63 L253.14 190.67 L252.79 189.97 L252.15 189.7 L252.61 188.93 L253.35 187.62 L253.49 187 L254.06 185.96 L254.55 185.22 L254.84 184.68 L253.81 183.83 L253.25 183.14 L252.82 181.52ZM256.32 171.56 L298.72 171.56 L298.72 187 L273.99 187 L273.99 189.01 L272.5 188.74 L269.39 188.74 L267.8 189.12 L267.1 188.93 L265.51 186.77 L264.27 184.68 L263.56 184.38 L261.8 184.84 L261.58 184.03 L262.15 183.64 L261.9 182.56 L262.4 180.59 L261.62 180.63 L260.24 179.55 L258.97 178.31 L257.59 177.66 L257.38 177.16 L256.32 175.5 L256.32 171.56ZM273.99 187 L298.72 187 L298.72 202.44 L273.99 202.44ZM263.42 198.58 L273.99 198.58 L273.99 202.44 L281.05 202.44 L281.05 217.88 L263.42 217.88ZM281.05 202.44 L305.78 202.44 L305.78 217.88 L281.05 217.88ZM263.42 217.88 L281.05 217.88 L281.05 239.77 L273.91 239.77 L260.7 235.29 L261.02 234.4 L261.9 233.9 L261.09 233.13 L261.02 231.78 L261.8 231 L261.69 229.85 L262.04 229.15 L263.1 228.42 L262.33 227.72 L261.55 226.37 L261.34 225.6 L261.55 225.02 L261.23 223.67 L260.95 221.78 L262.26 221.24 L263.39 221.01ZM281.05 217.88 L302.43 217.88 L302.28 219.81 L302.28 237.18 L289.64 237.18 L289.95 238.03 L284.02 238.03 L284.02 239.77 L281.05 239.77ZM298.72 171.56 L305.43 171.56 L305.43 202.44 L298.72 202.44Z"/></clipPath><clipPath id="cp30"><path d="M35.06 251.38 L55.51 251.38 L55.51 261.26 L55.94 262.87 L48.56 262.87 L47.42 263.14 L46.34 263.18 L44.19 263.94 L42.58 263.87 L40.61 264.33 L39.54 263.94 L38.1 264.21 L36.85 264.59 L34.99 264.33 L34.88 263.44 L34.52 262.49 L33.45 262.22 L32.37 261.91 L30.58 261.87 L30.3 260.57 L30.22 259.42 L29.87 258.27 L29.15 256.74 L28.25 255.21 L27.97 253.75 L30.22 254.44 L33.45 254.75 L35.06 254.64 L35.06 251.38ZM30.58 261.87 L30.58 261.87 L32.37 261.91 L33.45 262.22 L34.52 262.49 L34.88 263.44 L34.99 264.33 L36.85 264.59 L38.1 264.21 L39.54 263.94 L40.61 264.33 L42.58 263.87 L44.19 263.94 L46.34 263.18 L47.42 263.14 L48.56 262.87 L55.94 262.87 L56.52 263.56 L57.55 264.4 L57.27 264.94 L56.77 265.67 L56.19 266.7 L56.05 267.31 L55.3 268.62 L54.83 269.38 L55.48 269.65 L55.84 270.34 L55.55 271.3 L55.55 278.19 L29.83 278.19 L29.15 276.66 L28.61 275.13 L29.15 273.21 L29.87 272.06 L30.22 270.53 L30.4 267.85 L30.76 264.78 L30.83 262.87 L30.58 261.87ZM29.83 278.19 L44.91 278.19 L44.91 289.68 L64.15 305 L64.36 305.77 L65.15 307.11 L65.94 307.8 L64.86 308.52 L64.5 309.21 L64.61 310.36 L63.82 311.13 L63.89 312.47 L64.72 313.23 L63.82 313.73 L55.23 314.46 L54.76 313.04 L53.86 311.13 L52.07 309.98 L50.64 309.79 L50.28 308.72 L49.21 308.83 L47.78 308.26 L46.34 307.3 L43.3 307.11 L42.58 306.53 L42.76 304.62 L41.69 303.28 L40.25 302.32 L38.1 300.02 L37.93 298.87 L38.46 298.11 L37.75 297.53 L36.31 296.57 L35.95 295.04 L35.95 294.28 L34.16 293.51 L34.16 292.36 L31.66 290.06 L31.3 287.76 L31.12 286.23 L29.33 284.7 L29.15 284.13 L30.22 282.02 L29.87 279.34 L29.83 278.19ZM44.91 278.19 L66.26 278.19 L66.26 300.44 L65.08 300.67 L63.75 301.21 L64.04 303.08 L64.36 304.43 L64.15 305 L44.91 289.68ZM55.51 251.38 L59.06 251.38 L59.06 255.29 L60.13 256.93 L60.35 257.43 L61.75 258.08 L63.03 259.31 L64.43 260.38 L65.22 260.34 L64.72 262.3 L64.97 263.37 L64.4 263.75 L64.61 264.56 L66.4 264.1 L67.12 264.4 L68.37 266.47 L69.98 268.62 L70.7 268.81 L72.31 268.42 L75.46 268.42 L76.97 268.69 L76.97 278.19 L55.55 278.19 L55.55 271.3 L55.84 270.34 L55.48 269.65 L54.83 269.38 L55.3 268.62 L56.05 267.31 L56.19 266.7 L56.77 265.67 L57.27 264.94 L57.55 264.4 L56.52 263.56 L55.94 262.87 L55.51 261.26ZM59.06 251.38 L102.04 251.38 L102.04 266.7 L76.97 266.7 L76.97 268.69 L75.46 268.42 L72.31 268.42 L70.7 268.81 L69.98 268.62 L68.37 266.47 L67.12 264.4 L66.4 264.1 L64.61 264.56 L64.4 263.75 L64.97 263.37 L64.72 262.3 L65.22 260.34 L64.43 260.38 L63.03 259.31 L61.75 258.08 L60.35 257.43 L60.13 256.93 L59.06 255.29 L59.06 251.38ZM76.97 266.7 L102.04 266.7 L102.04 282.02 L76.97 282.02ZM66.26 278.19 L76.97 278.19 L76.97 282.02 L84.13 282.02 L84.13 297.34 L66.26 297.34ZM84.13 282.02 L109.21 282.02 L109.21 297.34 L84.13 297.34ZM66.26 297.34 L84.13 297.34 L84.13 319.06 L76.9 319.06 L63.5 314.61 L63.82 313.73 L64.72 313.23 L63.89 312.47 L63.82 311.13 L64.61 310.36 L64.5 309.21 L64.86 308.52 L65.94 307.8 L65.15 307.11 L64.36 305.77 L64.15 305 L64.36 304.43 L64.04 303.08 L63.75 301.21 L65.08 300.67 L66.22 300.44ZM84.13 297.34 L105.8 297.34 L105.66 299.25 L105.66 316.49 L92.84 316.49 L93.16 317.33 L87.14 317.33 L87.14 319.06 L84.13 319.06ZM102.04 251.38 L108.85 251.38 L108.85 282.02 L102.04 282.02ZM105.66 297.34 L108.85 297.34 L108.85 316.49 L105.66 316.49Z"/></clipPath><clipPath id="cp31"><path d="M133.02 251.38 L154.14 251.38 L154.14 261.26 L154.58 262.87 L146.96 262.87 L145.78 263.14 L144.67 263.18 L142.45 263.94 L140.79 263.87 L138.75 264.33 L137.64 263.94 L136.16 264.21 L134.87 264.59 L132.95 264.33 L132.84 263.44 L132.47 262.49 L131.36 262.22 L130.25 261.91 L128.4 261.87 L128.1 260.57 L128.03 259.42 L127.66 258.27 L126.92 256.74 L125.99 255.21 L125.7 253.75 L128.03 254.44 L131.36 254.75 L133.02 254.64 L133.02 251.38ZM128.4 261.87 L128.4 261.87 L130.25 261.91 L131.36 262.22 L132.47 262.49 L132.84 263.44 L132.95 264.33 L134.87 264.59 L136.16 264.21 L137.64 263.94 L138.75 264.33 L140.79 263.87 L142.45 263.94 L144.67 263.18 L145.78 263.14 L146.96 262.87 L154.58 262.87 L155.17 263.56 L156.24 264.4 L155.95 264.94 L155.43 265.67 L154.84 266.7 L154.69 267.31 L153.91 268.62 L153.43 269.38 L154.1 269.65 L154.47 270.34 L154.17 271.3 L154.17 278.19 L127.62 278.19 L126.92 276.66 L126.36 275.13 L126.92 273.21 L127.66 272.06 L128.03 270.53 L128.21 267.85 L128.58 264.78 L128.66 262.87 L128.4 261.87ZM127.62 278.19 L143.19 278.19 L143.19 289.68 L163.05 305 L163.27 305.77 L164.08 307.11 L164.9 307.8 L163.79 308.52 L163.42 309.21 L163.53 310.36 L162.72 311.13 L162.79 312.47 L163.64 313.23 L162.72 313.73 L153.84 314.46 L153.36 313.04 L152.44 311.13 L150.59 309.98 L149.11 309.79 L148.74 308.72 L147.63 308.83 L146.15 308.26 L144.67 307.3 L141.53 307.11 L140.79 306.53 L140.97 304.62 L139.86 303.28 L138.38 302.32 L136.16 300.02 L135.98 298.87 L136.53 298.11 L135.79 297.53 L134.31 296.57 L133.94 295.04 L133.94 294.28 L132.1 293.51 L132.1 292.36 L129.51 290.06 L129.14 287.76 L128.95 286.23 L127.1 284.7 L126.92 284.13 L128.03 282.02 L127.66 279.34 L127.62 278.19ZM143.19 278.19 L165.23 278.19 L165.23 300.44 L164.01 300.67 L162.64 301.21 L162.94 303.08 L163.27 304.43 L163.05 305 L143.19 289.68ZM154.14 251.38 L157.8 251.38 L157.8 255.29 L158.91 256.93 L159.13 257.43 L160.57 258.08 L161.9 259.31 L163.34 260.38 L164.16 260.34 L163.64 262.3 L163.9 263.37 L163.31 263.75 L163.53 264.56 L165.38 264.1 L166.12 264.4 L167.41 266.47 L169.08 268.62 L169.82 268.81 L171.48 268.42 L174.73 268.42 L176.29 268.69 L176.29 278.19 L154.17 278.19 L154.17 271.3 L154.47 270.34 L154.1 269.65 L153.43 269.38 L153.91 268.62 L154.69 267.31 L154.84 266.7 L155.43 265.67 L155.95 264.94 L156.24 264.4 L155.17 263.56 L154.58 262.87 L154.14 261.26ZM157.8 251.38 L202.17 251.38 L202.17 266.7 L176.29 266.7 L176.29 268.69 L174.73 268.42 L171.48 268.42 L169.82 268.81 L169.08 268.62 L167.41 266.47 L166.12 264.4 L165.38 264.1 L163.53 264.56 L163.31 263.75 L163.9 263.37 L163.64 262.3 L164.16 260.34 L163.34 260.38 L161.9 259.31 L160.57 258.08 L159.13 257.43 L158.91 256.93 L157.8 255.29 L157.8 251.38ZM176.29 266.7 L202.17 266.7 L202.17 282.02 L176.29 282.02ZM165.23 278.19 L176.29 278.19 L176.29 282.02 L183.68 282.02 L183.68 297.34 L165.23 297.34ZM183.68 282.02 L209.57 282.02 L209.57 297.34 L183.68 297.34ZM165.23 297.34 L183.68 297.34 L183.68 319.06 L176.21 319.06 L162.38 314.61 L162.72 313.73 L163.64 313.23 L162.79 312.47 L162.72 311.13 L163.53 310.36 L163.42 309.21 L163.79 308.52 L164.9 307.8 L164.08 307.11 L163.27 305.77 L163.05 305 L163.27 304.43 L162.94 303.08 L162.64 301.21 L164.01 300.67 L165.19 300.44ZM183.68 297.34 L206.06 297.34 L205.91 299.25 L205.91 316.49 L192.67 316.49 L193 317.33 L186.79 317.33 L186.79 319.06 L183.68 319.06ZM202.17 251.38 L209.2 251.38 L209.2 282.02 L202.17 282.02Z"/></clipPath><clipPath id="cp32"><path d="M232.65 251.38 L252.82 251.38 L252.82 261.26 L253.25 262.87 L245.97 262.87 L244.84 263.14 L243.78 263.18 L241.66 263.94 L240.07 263.87 L238.13 264.33 L237.07 263.94 L235.65 264.21 L234.42 264.59 L232.58 264.33 L232.47 263.44 L232.12 262.49 L231.06 262.22 L230 261.91 L228.23 261.87 L227.95 260.57 L227.88 259.42 L227.53 258.27 L226.82 256.74 L225.94 255.21 L225.65 253.75 L227.88 254.44 L231.06 254.75 L232.65 254.64 L232.65 251.38ZM228.23 261.87 L228.23 261.87 L230 261.91 L231.06 262.22 L232.12 262.49 L232.47 263.44 L232.58 264.33 L234.42 264.59 L235.65 264.21 L237.07 263.94 L238.13 264.33 L240.07 263.87 L241.66 263.94 L243.78 263.18 L244.84 263.14 L245.97 262.87 L253.25 262.87 L253.81 263.56 L254.84 264.4 L254.55 264.94 L254.06 265.67 L253.49 266.7 L253.35 267.31 L252.61 268.62 L252.15 269.38 L252.79 269.65 L253.14 270.34 L252.86 271.3 L252.86 278.19 L227.49 278.19 L226.82 276.66 L226.29 275.13 L226.82 273.21 L227.53 272.06 L227.88 270.53 L228.06 267.85 L228.41 264.78 L228.48 262.87 L228.23 261.87ZM227.49 278.19 L242.36 278.19 L242.36 289.68 L261.34 305 L261.55 305.77 L262.33 307.11 L263.1 307.8 L262.04 308.52 L261.69 309.21 L261.8 310.36 L261.02 311.13 L261.09 312.47 L261.9 313.23 L261.02 313.73 L252.54 314.46 L252.08 313.04 L251.2 311.13 L249.43 309.98 L248.02 309.79 L247.66 308.72 L246.6 308.83 L245.19 308.26 L243.78 307.3 L240.78 307.11 L240.07 306.53 L240.25 304.62 L239.19 303.28 L237.77 302.32 L235.65 300.02 L235.48 298.87 L236.01 298.11 L235.3 297.53 L233.89 296.57 L233.53 295.04 L233.53 294.28 L231.77 293.51 L231.77 292.36 L229.29 290.06 L228.94 287.76 L228.76 286.23 L227 284.7 L226.82 284.13 L227.88 282.02 L227.53 279.34 L227.49 278.19ZM242.36 278.19 L263.42 278.19 L263.42 300.44 L262.26 300.67 L260.95 301.21 L261.23 303.08 L261.55 304.43 L261.34 305 L242.36 289.68ZM252.82 251.38 L256.32 251.38 L256.32 255.29 L257.38 256.93 L257.59 257.43 L258.97 258.08 L260.24 259.31 L261.62 260.38 L262.4 260.34 L261.9 262.3 L262.15 263.37 L261.58 263.75 L261.8 264.56 L263.56 264.1 L264.27 264.4 L265.51 266.47 L267.1 268.62 L267.8 268.81 L269.39 268.42 L272.5 268.42 L273.99 268.69 L273.99 278.19 L252.86 278.19 L252.86 271.3 L253.14 270.34 L252.79 269.65 L252.15 269.38 L252.61 268.62 L253.35 267.31 L253.49 266.7 L254.06 265.67 L254.55 264.94 L254.84 264.4 L253.81 263.56 L253.25 262.87 L252.82 261.26ZM256.32 251.38 L298.72 251.38 L298.72 266.7 L273.99 266.7 L273.99 268.69 L272.5 268.42 L269.39 268.42 L267.8 268.81 L267.1 268.62 L265.51 266.47 L264.27 264.4 L263.56 264.1 L261.8 264.56 L261.58 263.75 L262.15 263.37 L261.9 262.3 L262.4 260.34 L261.62 260.38 L260.24 259.31 L258.97 258.08 L257.59 257.43 L257.38 256.93 L256.32 255.29 L256.32 251.38ZM273.99 266.7 L298.72 266.7 L298.72 282.02 L273.99 282.02ZM263.42 278.19 L273.99 278.19 L273.99 282.02 L281.05 282.02 L281.05 297.34 L263.42 297.34ZM281.05 282.02 L305.78 282.02 L305.78 297.34 L281.05 297.34ZM263.42 297.34 L281.05 297.34 L281.05 319.06 L273.91 319.06 L260.7 314.61 L261.02 313.73 L261.9 313.23 L261.09 312.47 L261.02 311.13 L261.8 310.36 L261.69 309.21 L262.04 308.52 L263.1 307.8 L262.33 307.11 L261.55 305.77 L261.34 305 L261.55 304.43 L261.23 303.08 L260.95 301.21 L262.26 300.67 L263.39 300.44ZM281.05 297.34 L302.43 297.34 L302.28 299.25 L302.28 316.49 L289.64 316.49 L289.95 317.33 L284.02 317.33 L284.02 319.06 L281.05 319.06ZM298.72 251.38 L305.43 251.38 L305.43 282.02 L298.72 282.02Z"/></clipPath><linearGradient id="gp" x1="0" x2="1" y1="0" y2="0"><stop offset="0.000" stop-color="#add8e6"/><stop offset="0.051" stop-color="#add8e6"/><stop offset="0.166" stop-color="#c4cecc"/><stop offset="0.280" stop-color="#dcc2a0"/><stop offset="0.394" stop-color="#f0b464"/><stop offset="0.509" stop-color="#ffa505"/><stop offset="0.623" stop-color="#f27d64"/><stop offset="0.737" stop-color="#de5a96"/><stop offset="0.851" stop-color="#ba32c8"/><stop offset="0.966" stop-color="#9606d7"/><stop offset="1.000" stop-color="#9202d5"/></linearGradient><linearGradient id="gc" x1="0" x2="1" y1="0" y2="0"><stop offset="0.000" stop-color="#0a00f5"/><stop offset="0.174" stop-color="#5541fa"/><stop offset="0.345" stop-color="#a094ff"/><stop offset="0.517" stop-color="#e1dcff"/><stop offset="0.619" stop-color="#ffffff"/><stop offset="0.688" stop-color="#ffffff"/><stop offset="0.802" stop-color="#ffd0c4"/><stop offset="1.000" stop-color="#ff8068"/></linearGradient><filter id="blur" x="-5%" y="-5%" width="110%" height="110%"><feGaussianBlur stdDeviation="1.1"/></filter></defs>
<rect width="320" height="367" fill="#fff"/>
<g clip-path="url(#cp00)">
<rect x="27" y="12.3" width="81.85" height="70.22" fill="#c4cbb4"/>
<g filter="url(#blur)">
<path fill="#faab32" d="M23.7 11.2h10.8v6.4h-10.8zM58.9 11.2h4.2v6.4h-4.2zM23.7 17.0h7.2v4.4h-7.2zM62.5 20.8h4.2v4.4h-4.2zM66.1 24.7h4.2v4.4h-4.2zM55.4 28.5h7.8v4.4h-7.8zM73.3 28.5h4.2v4.4h-4.2zM23.7 40.0h14.3v4.4h-14.3zM23.7 43.8h14.3v4.4h-14.3zM41.0 43.8h4.2v4.4h-4.2zM23.7 47.7h10.8v4.4h-10.8zM41.0 47.7h4.2v4.4h-4.2zM23.7 51.5h10.8v4.4h-10.8zM41.0 51.5h7.8v4.4h-7.8zM23.7 55.4h14.3v4.4h-14.3zM48.2 55.4h4.2v4.4h-4.2zM23.7 59.2h14.3v4.4h-14.3zM51.8 59.2h4.2v4.4h-4.2zM23.7 63.0h17.9v4.4h-17.9zM55.4 63.0h4.2v4.4h-4.2zM55.4 66.9h7.8v4.4h-7.8zM62.5 70.7h4.2v4.4h-4.2zM62.5 74.5h4.2v4.4h-4.2z"/>
<path fill="#f4b258" d="M33.9 11.2h4.2v6.4h-4.2zM62.5 11.2h7.8v6.4h-7.8zM30.3 17.0h7.8v4.4h-7.8zM55.4 17.0h4.2v4.4h-4.2zM62.5 17.0h7.8v4.4h-7.8zM23.7 20.8h17.9v4.4h-17.9zM66.1 20.8h4.2v4.4h-4.2zM23.7 24.7h7.2v4.4h-7.2zM55.4 24.7h4.2v4.4h-4.2zM62.5 24.7h4.2v4.4h-4.2zM69.7 24.7h4.2v4.4h-4.2zM23.7 28.5h7.2v4.4h-7.2zM62.5 28.5h11.3v4.4h-11.3zM23.7 32.3h7.2v4.4h-7.2zM73.3 32.3h4.2v4.4h-4.2zM23.7 36.2h7.2v4.4h-7.2zM37.4 40.0h7.8v4.4h-7.8zM51.8 40.0h7.8v4.4h-7.8zM44.6 43.8h18.5v4.4h-18.5zM33.9 47.7h4.2v4.4h-4.2zM44.6 47.7h22.1v4.4h-22.1zM33.9 51.5h4.2v4.4h-4.2zM48.2 51.5h18.5v4.4h-18.5zM87.6 51.5h4.2v4.4h-4.2zM51.8 55.4h14.9v4.4h-14.9zM37.4 59.2h4.2v4.4h-4.2zM55.4 59.2h11.3v4.4h-11.3zM41.0 63.0h4.2v4.4h-4.2zM58.9 63.0h7.8v4.4h-7.8zM62.5 66.9h4.2v4.4h-4.2z"/>
<path fill="#ecba76" d="M37.4 11.2h7.8v6.4h-7.8zM48.2 11.2h11.3v6.4h-11.3zM37.4 17.0h4.2v4.4h-4.2zM69.7 17.0h4.2v4.4h-4.2zM55.4 20.8h4.2v4.4h-4.2zM30.3 24.7h4.2v4.4h-4.2zM73.3 24.7h4.2v4.4h-4.2zM30.3 32.3h4.2v4.4h-4.2zM55.4 32.3h4.2v4.4h-4.2zM69.7 32.3h4.2v4.4h-4.2zM76.8 32.3h4.2v4.4h-4.2zM30.3 36.2h4.2v4.4h-4.2zM73.3 36.2h4.2v4.4h-4.2zM44.6 40.0h7.8v4.4h-7.8zM58.9 40.0h4.2v4.4h-4.2zM37.4 43.8h4.2v4.4h-4.2zM62.5 43.8h4.2v4.4h-4.2zM84.0 47.7h11.3v4.4h-11.3zM84.0 51.5h4.2v4.4h-4.2zM91.2 51.5h4.2v4.4h-4.2zM87.6 55.4h7.8v4.4h-7.8z"/>
<path fill="#e2c296" d="M44.6 11.2h4.2v6.4h-4.2zM69.7 11.2h4.2v6.4h-4.2zM69.7 20.8h4.2v4.4h-4.2zM37.4 24.7h4.2v4.4h-4.2zM30.3 28.5h4.2v4.4h-4.2zM37.4 28.5h4.2v4.4h-4.2zM76.8 28.5h4.2v4.4h-4.2zM37.4 32.3h4.2v4.4h-4.2zM58.9 32.3h4.2v4.4h-4.2zM66.1 32.3h4.2v4.4h-4.2zM37.4 36.2h4.2v4.4h-4.2zM55.4 36.2h4.2v4.4h-4.2zM76.8 36.2h4.2v4.4h-4.2zM73.3 43.8h7.8v4.4h-7.8zM80.4 47.7h4.2v4.4h-4.2zM94.8 47.7h4.2v4.4h-4.2zM80.4 51.5h4.2v4.4h-4.2zM94.8 51.5h4.2v4.4h-4.2zM66.1 55.4h4.2v4.4h-4.2zM84.0 55.4h4.2v4.4h-4.2zM94.8 55.4h4.2v4.4h-4.2zM44.6 59.2h4.2v4.4h-4.2zM66.1 59.2h4.2v4.4h-4.2zM44.6 63.0h4.2v4.4h-4.2zM66.1 63.0h4.2v4.4h-4.2zM66.1 66.9h4.2v4.4h-4.2zM66.1 70.7h4.2v4.4h-4.2zM66.1 74.5h4.2v4.4h-4.2z"/>
<path fill="#cad3cf" d="M73.3 11.2h37.4v6.4h-37.4zM48.2 17.0h4.2v4.4h-4.2zM76.8 17.0h33.8v4.4h-33.8zM44.6 20.8h7.8v4.4h-7.8zM76.8 20.8h33.8v4.4h-33.8zM44.6 24.7h4.2v4.4h-4.2zM80.4 24.7h30.3v4.4h-30.3zM84.0 28.5h26.7v4.4h-26.7zM84.0 32.3h26.7v4.4h-26.7zM80.4 36.2h30.3v4.4h-30.3zM84.0 40.0h26.7v4.4h-26.7zM84.0 43.8h26.7v4.4h-26.7zM101.9 47.7h8.8v4.4h-8.8zM101.9 51.5h8.8v4.4h-8.8zM101.9 55.4h8.8v4.4h-8.8zM69.7 59.2h4.2v4.4h-4.2zM76.8 59.2h4.2v4.4h-4.2zM84.0 59.2h4.2v4.4h-4.2zM91.2 59.2h4.2v4.4h-4.2zM98.3 59.2h12.3v4.4h-12.3zM73.3 63.0h4.2v4.4h-4.2zM80.4 63.0h4.2v4.4h-4.2zM87.6 63.0h4.2v4.4h-4.2zM94.8 63.0h11.3v4.4h-11.3zM69.7 66.9h4.2v4.4h-4.2zM76.8 66.9h4.2v4.4h-4.2zM84.0 66.9h4.2v4.4h-4.2zM91.2 66.9h11.3v4.4h-11.3zM105.5 66.9h5.2v4.4h-5.2zM73.3 70.7h4.2v4.4h-4.2zM80.4 70.7h4.2v4.4h-4.2zM87.6 70.7h11.3v4.4h-11.3zM101.9 70.7h4.2v4.4h-4.2zM69.7 74.5h4.2v4.4h-4.2zM76.8 74.5h4.2v4.4h-4.2zM84.0 74.5h11.3v4.4h-11.3zM98.3 74.5h4.2v4.4h-4.2zM105.5 74.5h5.2v4.4h-5.2zM23.7 78.4h87.0v6.4h-87.0z"/>
<path fill="#d7cdb6" d="M41.0 17.0h7.8v4.4h-7.8zM51.8 17.0h4.2v4.4h-4.2zM73.3 17.0h4.2v4.4h-4.2zM41.0 20.8h4.2v4.4h-4.2zM51.8 20.8h4.2v4.4h-4.2zM73.3 20.8h4.2v4.4h-4.2zM33.9 24.7h4.2v4.4h-4.2zM41.0 24.7h4.2v4.4h-4.2zM48.2 24.7h7.8v4.4h-7.8zM76.8 24.7h4.2v4.4h-4.2zM33.9 28.5h4.2v4.4h-4.2zM41.0 28.5h14.9v4.4h-14.9zM80.4 28.5h4.2v4.4h-4.2zM33.9 32.3h4.2v4.4h-4.2zM41.0 32.3h14.9v4.4h-14.9zM62.5 32.3h4.2v4.4h-4.2zM80.4 32.3h4.2v4.4h-4.2zM33.9 36.2h4.2v4.4h-4.2zM41.0 36.2h14.9v4.4h-14.9zM58.9 36.2h14.9v4.4h-14.9zM62.5 40.0h22.1v4.4h-22.1zM66.1 43.8h7.8v4.4h-7.8zM80.4 43.8h4.2v4.4h-4.2zM37.4 47.7h4.2v4.4h-4.2zM66.1 47.7h14.9v4.4h-14.9zM98.3 47.7h4.2v4.4h-4.2zM37.4 51.5h4.2v4.4h-4.2zM66.1 51.5h14.9v4.4h-14.9zM98.3 51.5h4.2v4.4h-4.2zM37.4 55.4h7.8v4.4h-7.8zM69.7 55.4h14.9v4.4h-14.9zM98.3 55.4h4.2v4.4h-4.2zM41.0 59.2h4.2v4.4h-4.2zM73.3 59.2h4.2v4.4h-4.2zM80.4 59.2h4.2v4.4h-4.2zM87.6 59.2h4.2v4.4h-4.2zM94.8 59.2h4.2v4.4h-4.2zM69.7 63.0h4.2v4.4h-4.2zM76.8 63.0h4.2v4.4h-4.2zM84.0 63.0h4.2v4.4h-4.2zM91.2 63.0h4.2v4.4h-4.2zM105.5 63.0h5.2v4.4h-5.2zM73.3 66.9h4.2v4.4h-4.2zM80.4 66.9h4.2v4.4h-4.2zM87.6 66.9h4.2v4.4h-4.2zM101.9 66.9h4.2v4.4h-4.2zM69.7 70.7h4.2v4.4h-4.2zM76.8 70.7h4.2v4.4h-4.2zM84.0 70.7h4.2v4.4h-4.2zM98.3 70.7h4.2v4.4h-4.2zM105.5 70.7h5.2v4.4h-5.2zM73.3 74.5h4.2v4.4h-4.2zM80.4 74.5h4.2v4.4h-4.2zM94.8 74.5h4.2v4.4h-4.2zM101.9 74.5h4.2v4.4h-4.2z"/>
<path fill="#f88c4b" d="M58.9 17.0h4.2v4.4h-4.2zM58.9 20.8h4.2v4.4h-4.2zM58.9 24.7h4.2v4.4h-4.2zM23.7 70.7h25.1v4.4h-25.1zM23.7 74.5h35.8v4.4h-35.8z"/>
<path fill="#ffa50a" d="M44.6 55.4h4.2v4.4h-4.2zM48.2 59.2h4.2v4.4h-4.2zM51.8 63.0h4.2v4.4h-4.2zM23.7 66.9h21.5v4.4h-21.5zM51.8 66.9h4.2v4.4h-4.2zM58.9 70.7h4.2v4.4h-4.2zM58.9 74.5h4.2v4.4h-4.2z"/>
<path fill="#ee737a" d="M48.2 63.0h4.2v4.4h-4.2zM44.6 66.9h7.8v4.4h-7.8zM48.2 70.7h11.3v4.4h-11.3z"/>
</g>
</g>
<path d="M35.06 13.45 L55.51 13.45 L55.51 23.35 L55.94 24.96 L48.56 24.96 L47.42 25.23 L46.34 25.27 L44.19 26.04 L42.58 25.96 L40.61 26.42 L39.54 26.04 L38.1 26.31 L36.85 26.69 L34.99 26.42 L34.88 25.54 L34.52 24.58 L33.45 24.31 L32.37 24 L30.58 23.97 L30.3 22.66 L30.22 21.51 L29.87 20.36 L29.15 18.82 L28.25 17.29 L27.97 15.83 L30.22 16.52 L33.45 16.83 L35.06 16.71 L35.06 13.45ZM30.58 23.97 L30.58 23.97 L32.37 24 L33.45 24.31 L34.52 24.58 L34.88 25.54 L34.99 26.42 L36.85 26.69 L38.1 26.31 L39.54 26.04 L40.61 26.42 L42.58 25.96 L44.19 26.04 L46.34 25.27 L47.42 25.23 L48.56 24.96 L55.94 24.96 L56.52 25.65 L57.55 26.5 L57.27 27.03 L56.77 27.76 L56.19 28.8 L56.05 29.41 L55.3 30.72 L54.83 31.49 L55.48 31.75 L55.84 32.45 L55.55 33.4 L55.55 40.31 L29.83 40.31 L29.15 38.78 L28.61 37.24 L29.15 35.32 L29.87 34.17 L30.22 32.64 L30.4 29.95 L30.76 26.88 L30.83 24.96 L30.58 23.97ZM29.83 40.31 L44.91 40.31 L44.91 51.82 L64.15 67.17 L64.36 67.94 L65.15 69.28 L65.94 69.97 L64.86 70.7 L64.5 71.39 L64.61 72.54 L63.82 73.31 L63.89 74.65 L64.72 75.42 L63.82 75.92 L55.23 76.65 L54.76 75.23 L53.86 73.31 L52.07 72.16 L50.64 71.97 L50.28 70.89 L49.21 71.01 L47.78 70.43 L46.34 69.47 L43.3 69.28 L42.58 68.7 L42.76 66.79 L41.69 65.44 L40.25 64.48 L38.1 62.18 L37.93 61.03 L38.46 60.26 L37.75 59.69 L36.31 58.73 L35.95 57.19 L35.95 56.43 L34.16 55.66 L34.16 54.51 L31.66 52.21 L31.3 49.9 L31.12 48.37 L29.33 46.83 L29.15 46.26 L30.22 44.15 L29.87 41.46 L29.83 40.31ZM44.91 40.31 L66.26 40.31 L66.26 62.6 L65.08 62.83 L63.75 63.37 L64.04 65.25 L64.36 66.59 L64.15 67.17 L44.91 51.82ZM55.51 13.45 L59.06 13.45 L59.06 17.37 L60.13 19.02 L60.35 19.51 L61.75 20.17 L63.03 21.39 L64.43 22.47 L65.22 22.43 L64.72 24.39 L64.97 25.46 L64.4 25.85 L64.61 26.65 L66.4 26.19 L67.12 26.5 L68.37 28.57 L69.98 30.72 L70.7 30.91 L72.31 30.53 L75.46 30.53 L76.97 30.8 L76.97 40.31 L55.55 40.31 L55.55 33.4 L55.84 32.45 L55.48 31.75 L54.83 31.49 L55.3 30.72 L56.05 29.41 L56.19 28.8 L56.77 27.76 L57.27 27.03 L57.55 26.5 L56.52 25.65 L55.94 24.96 L55.51 23.35ZM59.06 13.45 L102.04 13.45 L102.04 28.8 L76.97 28.8 L76.97 30.8 L75.46 30.53 L72.31 30.53 L70.7 30.91 L69.98 30.72 L68.37 28.57 L67.12 26.5 L66.4 26.19 L64.61 26.65 L64.4 25.85 L64.97 25.46 L64.72 24.39 L65.22 22.43 L64.43 22.47 L63.03 21.39 L61.75 20.17 L60.35 19.51 L60.13 19.02 L59.06 17.37 L59.06 13.45ZM76.97 28.8 L102.04 28.8 L102.04 44.15 L76.97 44.15ZM66.26 40.31 L76.97 40.31 L76.97 44.15 L84.13 44.15 L84.13 59.5 L66.26 59.5ZM84.13 44.15 L109.21 44.15 L109.21 59.5 L84.13 59.5ZM66.26 59.5 L84.13 59.5 L84.13 81.25 L76.9 81.25 L63.5 76.8 L63.82 75.92 L64.72 75.42 L63.89 74.65 L63.82 73.31 L64.61 72.54 L64.5 71.39 L64.86 70.7 L65.94 69.97 L65.15 69.28 L64.36 67.94 L64.15 67.17 L64.36 66.59 L64.04 65.25 L63.75 63.37 L65.08 62.83 L66.22 62.6ZM84.13 59.5 L105.8 59.5 L105.66 61.41 L105.66 78.68 L92.84 78.68 L93.16 79.53 L87.14 79.53 L87.14 81.25 L84.13 81.25Z" fill="none" stroke="#505050" stroke-width="1" stroke-linejoin="round"/>
<path d="M34.7 13.45 L36.31 13.45 L37.03 15.75 L37.21 18.06 L36.67 20.74 L34.88 21.13 L33.63 19.59 L33.81 17.67 L34.52 16.14Z" fill="#111"/>
<path d="M36.13 55.28 L37.21 55.08 L37.75 56.04 L37.39 57.77 L36.67 57.77 L36.31 56.43Z" fill="#222"/>
<ellipse cx="88.61" cy="29.95" rx="2.61" ry="1.61" fill="#f4f6f6"/>
<ellipse cx="71.6" cy="43.57" rx="1.25" ry="1.73" fill="#f4f6f6"/>
<ellipse cx="105.8" cy="71.77" rx="2.15" ry="2.88" fill="#f4f6f6"/>
<path d="M27 9.76 V85.52 M35.95 9.76 V12.76 M35.95 82.52 V85.52 M44.91 9.76 V12.76 M44.91 82.52 V85.52 M53.86 9.76 V12.76 M53.86 82.52 V85.52 M62.82 9.76 V12.76 M62.82 82.52 V85.52 M71.78 9.76 V12.76 M71.78 82.52 V85.52 M80.73 9.76 V12.76 M80.73 82.52 V85.52 M89.69 9.76 V12.76 M89.69 82.52 V85.52 M98.64 9.76 V12.76 M98.64 82.52 V85.52 M107.59 9.76 V12.76 M107.59 82.52 V85.52 M24 76.76 H27 M108.85 76.76 H112.35 M24 67.17 H27 M108.85 67.17 H112.35 M24 57.58 H27 M108.85 57.58 H112.35 M24 47.98 H27 M108.85 47.98 H112.35 M24 38.39 H27 M108.85 38.39 H112.35 M24 28.8 H27 M108.85 28.8 H112.35 M24 19.21 H27 M108.85 19.21 H112.35" stroke="#cfcfcf" stroke-width="0.8" fill="none"/>
<rect x="58.28" y="13.5" width="2.2" height="2.2" fill="#000"/>
<rect x="67.88" y="19.64" width="2.2" height="2.2" fill="#000"/>
<rect x="63.15" y="25.78" width="2.2" height="2.2" fill="#000"/>
<rect x="64.33" y="27.01" width="2.2" height="2.2" fill="#000"/>
<rect x="65.45" y="28.47" width="2.2" height="2.2" fill="#000"/>
<rect x="76.41" y="24.63" width="2.2" height="2.2" fill="#000"/>
<rect x="77.84" y="26.32" width="2.2" height="2.2" fill="#000"/>
<rect x="60.79" y="34.49" width="2.2" height="2.2" fill="#000"/>
<rect x="72.54" y="34.49" width="2.2" height="2.2" fill="#000"/>
<rect x="53.34" y="41.13" width="2.2" height="2.2" fill="#000"/>
<rect x="53.34" y="42.66" width="2.2" height="2.2" fill="#000"/>
<rect x="35.93" y="32.69" width="2.2" height="2.2" fill="#000"/>
<rect x="32.63" y="44.97" width="2.2" height="2.2" fill="#000"/>
<rect x="35.82" y="55.52" width="2.2" height="2.2" fill="#000"/>
<rect x="42.02" y="54.79" width="2.2" height="2.2" fill="#000"/>
<rect x="46.89" y="68.76" width="2.2" height="2.2" fill="#000"/>
<g clip-path="url(#cp01)">
<rect x="124.7" y="12.3" width="84.5" height="70.22" fill="#ffffff"/>
<g filter="url(#blur)">
<path fill="#ffeee8" d="M121.4 11.2h36.9v6.4h-36.9zM121.4 17.0h36.9v4.4h-36.9zM135.5 20.8h19.1v4.4h-19.1zM135.5 24.7h19.1v4.4h-19.1zM131.8 28.5h4.3v4.4h-4.3zM128.1 32.3h4.3v4.4h-4.3zM168.8 32.3h22.8v4.4h-22.8zM121.4 36.2h7.3v4.4h-7.3zM168.8 36.2h26.5v4.4h-26.5zM165.1 40.0h33.9v4.4h-33.9zM165.1 43.8h4.3v4.4h-4.3zM176.2 43.8h8.0v4.4h-8.0zM194.7 43.8h8.0v4.4h-8.0zM165.1 47.7h4.3v4.4h-4.3zM176.2 47.7h8.0v4.4h-8.0zM194.7 47.7h8.0v4.4h-8.0zM165.1 51.5h4.3v4.4h-4.3zM176.2 51.5h8.0v4.4h-8.0zM194.7 51.5h8.0v4.4h-8.0zM165.1 55.4h4.3v4.4h-4.3zM176.2 55.4h11.7v4.4h-11.7zM194.7 55.4h8.0v4.4h-8.0zM165.1 59.2h4.3v4.4h-4.3zM179.9 59.2h22.8v4.4h-22.8zM161.4 63.0h4.3v4.4h-4.3zM183.6 63.0h19.1v4.4h-19.1zM161.4 66.9h4.3v4.4h-4.3zM183.6 66.9h19.1v4.4h-19.1zM161.4 70.7h4.3v4.4h-4.3zM183.6 70.7h19.1v4.4h-19.1zM161.4 74.5h4.3v4.4h-4.3zM183.6 74.5h19.1v4.4h-19.1zM121.4 78.4h44.3v6.4h-44.3zM179.9 78.4h22.8v6.4h-22.8z"/>
<path fill="#fff7f4" d="M157.7 11.2h4.3v6.4h-4.3zM157.7 17.0h4.3v4.4h-4.3zM154.0 20.8h4.3v4.4h-4.3zM165.1 28.5h26.5v4.4h-26.5zM131.8 32.3h4.3v4.4h-4.3zM165.1 32.3h4.3v4.4h-4.3zM191.0 32.3h4.3v4.4h-4.3zM128.1 36.2h4.3v4.4h-4.3zM161.4 36.2h8.0v4.4h-8.0zM194.7 36.2h4.3v4.4h-4.3zM161.4 40.0h4.3v4.4h-4.3zM198.4 40.0h4.3v4.4h-4.3zM161.4 43.8h4.3v4.4h-4.3zM161.4 47.7h4.3v4.4h-4.3zM161.4 51.5h4.3v4.4h-4.3zM161.4 55.4h4.3v4.4h-4.3zM157.7 59.2h8.0v4.4h-8.0zM157.7 63.0h4.3v4.4h-4.3zM157.7 66.9h4.3v4.4h-4.3z"/>
<path fill="#ffffff" d="M161.4 11.2h11.7v6.4h-11.7zM161.4 17.0h11.7v4.4h-11.7zM165.1 20.8h11.7v4.4h-11.7zM165.1 24.7h15.4v4.4h-15.4zM191.0 28.5h11.7v4.4h-11.7zM150.3 32.3h4.3v4.4h-4.3zM161.4 32.3h4.3v4.4h-4.3zM194.7 32.3h16.4v4.4h-16.4zM142.9 36.2h11.7v4.4h-11.7zM157.7 36.2h4.3v4.4h-4.3zM198.4 36.2h12.7v4.4h-12.7zM202.1 40.0h9.0v4.4h-9.0zM157.7 43.8h4.3v4.4h-4.3zM202.1 43.8h9.0v4.4h-9.0zM157.7 47.7h4.3v4.4h-4.3zM202.1 47.7h9.0v4.4h-9.0zM157.7 51.5h4.3v4.4h-4.3zM202.1 51.5h9.0v4.4h-9.0zM157.7 55.4h4.3v4.4h-4.3zM202.1 55.4h9.0v4.4h-9.0zM202.1 59.2h9.0v4.4h-9.0zM202.1 63.0h9.0v4.4h-9.0zM202.1 66.9h9.0v4.4h-9.0zM202.1 70.7h9.0v4.4h-9.0zM202.1 74.5h9.0v4.4h-9.0zM202.1 78.4h9.0v6.4h-9.0z"/>
<path fill="#f6f4ff" d="M172.5 11.2h38.6v6.4h-38.6zM172.5 17.0h38.6v4.4h-38.6zM157.7 20.8h8.0v4.4h-8.0zM176.2 20.8h34.9v4.4h-34.9zM154.0 24.7h4.3v4.4h-4.3zM161.4 24.7h4.3v4.4h-4.3zM179.9 24.7h31.2v4.4h-31.2zM135.5 28.5h8.0v4.4h-8.0zM150.3 28.5h4.3v4.4h-4.3zM161.4 28.5h4.3v4.4h-4.3zM202.1 28.5h9.0v4.4h-9.0zM146.6 32.3h4.3v4.4h-4.3zM157.7 32.3h4.3v4.4h-4.3zM131.8 36.2h11.7v4.4h-11.7zM154.0 36.2h4.3v4.4h-4.3zM121.4 40.0h7.3v4.4h-7.3zM150.3 40.0h11.7v4.4h-11.7zM154.0 43.8h4.3v4.4h-4.3zM154.0 47.7h4.3v4.4h-4.3zM154.0 51.5h4.3v4.4h-4.3zM154.0 55.4h4.3v4.4h-4.3zM154.0 59.2h4.3v4.4h-4.3zM154.0 63.0h4.3v4.4h-4.3zM154.0 66.9h4.3v4.4h-4.3zM157.7 70.7h4.3v4.4h-4.3z"/>
<path fill="#ffe6dd" d="M121.4 20.8h14.7v4.4h-14.7zM121.4 24.7h14.7v4.4h-14.7zM121.4 28.5h11.0v4.4h-11.0zM121.4 32.3h7.3v4.4h-7.3zM168.8 43.8h8.0v4.4h-8.0zM183.6 43.8h11.7v4.4h-11.7zM168.8 47.7h8.0v4.4h-8.0zM183.6 47.7h11.7v4.4h-11.7zM168.8 51.5h8.0v4.4h-8.0zM183.6 51.5h11.7v4.4h-11.7zM168.8 55.4h8.0v4.4h-8.0zM187.3 55.4h8.0v4.4h-8.0zM168.8 59.2h11.7v4.4h-11.7zM165.1 63.0h19.1v4.4h-19.1zM165.1 66.9h19.1v4.4h-19.1zM165.1 70.7h19.1v4.4h-19.1zM165.1 74.5h19.1v4.4h-19.1zM165.1 78.4h15.4v6.4h-15.4z"/>
<path fill="#edeaff" d="M157.7 24.7h4.3v4.4h-4.3zM142.9 28.5h8.0v4.4h-8.0zM154.0 28.5h8.0v4.4h-8.0zM135.5 32.3h11.7v4.4h-11.7zM154.0 32.3h4.3v4.4h-4.3zM128.1 40.0h22.8v4.4h-22.8zM146.6 43.8h8.0v4.4h-8.0zM150.3 47.7h4.3v4.4h-4.3zM150.3 51.5h4.3v4.4h-4.3zM150.3 55.4h4.3v4.4h-4.3zM150.3 59.2h4.3v4.4h-4.3zM150.3 63.0h4.3v4.4h-4.3zM157.7 74.5h4.3v4.4h-4.3z"/>
<path fill="#dad5ff" d="M121.4 43.8h25.8v4.4h-25.8zM121.4 47.7h29.5v4.4h-29.5zM135.5 51.5h15.4v4.4h-15.4zM139.2 55.4h11.7v4.4h-11.7zM142.9 59.2h8.0v4.4h-8.0zM146.6 63.0h4.3v4.4h-4.3zM150.3 66.9h4.3v4.4h-4.3z"/>
<path fill="#c8c0ff" d="M121.4 51.5h14.7v4.4h-14.7zM135.5 55.4h4.3v4.4h-4.3zM139.2 59.2h4.3v4.4h-4.3zM142.9 63.0h4.3v4.4h-4.3zM154.0 70.7h4.3v4.4h-4.3z"/>
<path fill="#b4aaff" d="M121.4 55.4h14.7v4.4h-14.7zM135.5 59.2h4.3v4.4h-4.3zM146.6 66.9h4.3v4.4h-4.3z"/>
<path fill="#a093ff" d="M121.4 59.2h14.7v4.4h-14.7zM139.2 63.0h4.3v4.4h-4.3z"/>
<path fill="#8c7dff" d="M121.4 63.0h18.4v4.4h-18.4zM154.0 74.5h4.3v4.4h-4.3z"/>
<path fill="#7064ff" d="M121.4 66.9h25.8v4.4h-25.8zM150.3 70.7h4.3v4.4h-4.3z"/>
<path fill="#544bff" d="M121.4 70.7h29.5v4.4h-29.5zM121.4 74.5h33.2v4.4h-33.2z"/>
</g>
</g>
<path d="M133.02 13.45 L154.14 13.45 L154.14 23.35 L154.58 24.96 L146.96 24.96 L145.78 25.23 L144.67 25.27 L142.45 26.04 L140.79 25.96 L138.75 26.42 L137.64 26.04 L136.16 26.31 L134.87 26.69 L132.95 26.42 L132.84 25.54 L132.47 24.58 L131.36 24.31 L130.25 24 L128.4 23.97 L128.1 22.66 L128.03 21.51 L127.66 20.36 L126.92 18.82 L125.99 17.29 L125.7 15.83 L128.03 16.52 L131.36 16.83 L133.02 16.71 L133.02 13.45ZM128.4 23.97 L128.4 23.97 L130.25 24 L131.36 24.31 L132.47 24.58 L132.84 25.54 L132.95 26.42 L134.87 26.69 L136.16 26.31 L137.64 26.04 L138.75 26.42 L140.79 25.96 L142.45 26.04 L144.67 25.27 L145.78 25.23 L146.96 24.96 L154.58 24.96 L155.17 25.65 L156.24 26.5 L155.95 27.03 L155.43 27.76 L154.84 28.8 L154.69 29.41 L153.91 30.72 L153.43 31.49 L154.1 31.75 L154.47 32.45 L154.17 33.4 L154.17 40.31 L127.62 40.31 L126.92 38.78 L126.36 37.24 L126.92 35.32 L127.66 34.17 L128.03 32.64 L128.21 29.95 L128.58 26.88 L128.66 24.96 L128.4 23.97ZM127.62 40.31 L143.19 40.31 L143.19 51.82 L163.05 67.17 L163.27 67.94 L164.08 69.28 L164.9 69.97 L163.79 70.7 L163.42 71.39 L163.53 72.54 L162.72 73.31 L162.79 74.65 L163.64 75.42 L162.72 75.92 L153.84 76.65 L153.36 75.23 L152.44 73.31 L150.59 72.16 L149.11 71.97 L148.74 70.89 L147.63 71.01 L146.15 70.43 L144.67 69.47 L141.53 69.28 L140.79 68.7 L140.97 66.79 L139.86 65.44 L138.38 64.48 L136.16 62.18 L135.98 61.03 L136.53 60.26 L135.79 59.69 L134.31 58.73 L133.94 57.19 L133.94 56.43 L132.1 55.66 L132.1 54.51 L129.51 52.21 L129.14 49.9 L128.95 48.37 L127.1 46.83 L126.92 46.26 L128.03 44.15 L127.66 41.46 L127.62 40.31ZM143.19 40.31 L165.23 40.31 L165.23 62.6 L164.01 62.83 L162.64 63.37 L162.94 65.25 L163.27 66.59 L163.05 67.17 L143.19 51.82ZM154.14 13.45 L157.8 13.45 L157.8 17.37 L158.91 19.02 L159.13 19.51 L160.57 20.17 L161.9 21.39 L163.34 22.47 L164.16 22.43 L163.64 24.39 L163.9 25.46 L163.31 25.85 L163.53 26.65 L165.38 26.19 L166.12 26.5 L167.41 28.57 L169.08 30.72 L169.82 30.91 L171.48 30.53 L174.73 30.53 L176.29 30.8 L176.29 40.31 L154.17 40.31 L154.17 33.4 L154.47 32.45 L154.1 31.75 L153.43 31.49 L153.91 30.72 L154.69 29.41 L154.84 28.8 L155.43 27.76 L155.95 27.03 L156.24 26.5 L155.17 25.65 L154.58 24.96 L154.14 23.35ZM157.8 13.45 L202.17 13.45 L202.17 28.8 L176.29 28.8 L176.29 30.8 L174.73 30.53 L171.48 30.53 L169.82 30.91 L169.08 30.72 L167.41 28.57 L166.12 26.5 L165.38 26.19 L163.53 26.65 L163.31 25.85 L163.9 25.46 L163.64 24.39 L164.16 22.43 L163.34 22.47 L161.9 21.39 L160.57 20.17 L159.13 19.51 L158.91 19.02 L157.8 17.37 L157.8 13.45ZM176.29 28.8 L202.17 28.8 L202.17 44.15 L176.29 44.15ZM165.23 40.31 L176.29 40.31 L176.29 44.15 L183.68 44.15 L183.68 59.5 L165.23 59.5ZM183.68 44.15 L209.57 44.15 L209.57 59.5 L183.68 59.5ZM165.23 59.5 L183.68 59.5 L183.68 81.25 L176.21 81.25 L162.38 76.8 L162.72 75.92 L163.64 75.42 L162.79 74.65 L162.72 73.31 L163.53 72.54 L163.42 71.39 L163.79 70.7 L164.9 69.97 L164.08 69.28 L163.27 67.94 L163.05 67.17 L163.27 66.59 L162.94 65.25 L162.64 63.37 L164.01 62.83 L165.19 62.6ZM183.68 59.5 L206.06 59.5 L205.91 61.41 L205.91 78.68 L192.67 78.68 L193 79.53 L186.79 79.53 L186.79 81.25 L183.68 81.25Z" fill="none" stroke="#505050" stroke-width="1" stroke-linejoin="round"/>
<path d="M132.65 13.45 L134.31 13.45 L135.05 15.75 L135.24 18.06 L134.68 20.74 L132.84 21.13 L131.54 19.59 L131.73 17.67 L132.47 16.14Z" fill="#111"/>
<path d="M134.13 55.28 L135.24 55.08 L135.79 56.04 L135.42 57.77 L134.68 57.77 L134.31 56.43Z" fill="#222"/>
<path d="M124.7 9.76 V85.52 M133.94 9.76 V12.76 M133.94 82.52 V85.52 M143.19 9.76 V12.76 M143.19 82.52 V85.52 M152.44 9.76 V12.76 M152.44 82.52 V85.52 M161.68 9.76 V12.76 M161.68 82.52 V85.52 M170.93 9.76 V12.76 M170.93 82.52 V85.52 M180.17 9.76 V12.76 M180.17 82.52 V85.52 M189.42 9.76 V12.76 M189.42 82.52 V85.52 M198.66 9.76 V12.76 M198.66 82.52 V85.52 M207.91 9.76 V12.76 M207.91 82.52 V85.52 M121.7 76.76 H124.7 M209.2 76.76 H212.7 M121.7 67.17 H124.7 M209.2 67.17 H212.7 M121.7 57.58 H124.7 M209.2 57.58 H212.7 M121.7 47.98 H124.7 M209.2 47.98 H212.7 M121.7 38.39 H124.7 M209.2 38.39 H212.7 M121.7 28.8 H124.7 M209.2 28.8 H212.7 M121.7 19.21 H124.7 M209.2 19.21 H212.7" stroke="#cfcfcf" stroke-width="0.8" fill="none"/>
<rect x="157.03" y="13.5" width="2.2" height="2.2" fill="#000"/>
<rect x="166.94" y="19.64" width="2.2" height="2.2" fill="#000"/>
<rect x="162.06" y="25.78" width="2.2" height="2.2" fill="#000"/>
<rect x="163.28" y="27.01" width="2.2" height="2.2" fill="#000"/>
<rect x="164.43" y="28.47" width="2.2" height="2.2" fill="#000"/>
<rect x="175.74" y="24.63" width="2.2" height="2.2" fill="#000"/>
<rect x="177.22" y="26.32" width="2.2" height="2.2" fill="#000"/>
<rect x="159.62" y="34.49" width="2.2" height="2.2" fill="#000"/>
<rect x="171.75" y="34.49" width="2.2" height="2.2" fill="#000"/>
<rect x="151.93" y="41.13" width="2.2" height="2.2" fill="#000"/>
<rect x="151.93" y="42.66" width="2.2" height="2.2" fill="#000"/>
<rect x="133.95" y="32.69" width="2.2" height="2.2" fill="#000"/>
<rect x="130.55" y="44.97" width="2.2" height="2.2" fill="#000"/>
<rect x="133.84" y="55.52" width="2.2" height="2.2" fill="#000"/>
<rect x="140.24" y="54.79" width="2.2" height="2.2" fill="#000"/>
<rect x="145.27" y="68.76" width="2.2" height="2.2" fill="#000"/>
<g clip-path="url(#cp02)">
<rect x="224.7" y="12.3" width="80.73" height="70.22" fill="#ffffff"/>
<g filter="url(#blur)">
<path fill="#fff6f3" d="M221.4 11.2h17.7v6.4h-17.7zM221.4 17.0h14.2v4.4h-14.2zM221.4 20.8h10.7v4.4h-10.7zM221.4 24.7h10.7v4.4h-10.7zM221.4 28.5h10.7v4.4h-10.7zM221.4 32.3h10.7v4.4h-10.7zM221.4 36.2h10.7v4.4h-10.7zM221.4 40.0h10.7v4.4h-10.7zM221.4 43.8h10.7v4.4h-10.7zM221.4 47.7h10.7v4.4h-10.7zM221.4 51.5h10.7v4.4h-10.7zM221.4 55.4h10.7v4.4h-10.7zM221.4 59.2h14.2v4.4h-14.2zM221.4 63.0h14.2v4.4h-14.2zM221.4 66.9h17.7v4.4h-17.7zM221.4 70.7h17.7v4.4h-17.7zM221.4 74.5h17.7v4.4h-17.7z"/>
<path fill="#fffaf9" d="M238.5 11.2h4.1v6.4h-4.1zM235.0 17.0h4.1v4.4h-4.1zM231.5 20.8h7.7v4.4h-7.7zM231.5 24.7h4.1v4.4h-4.1zM231.5 28.5h4.1v4.4h-4.1zM231.5 32.3h4.1v4.4h-4.1zM231.5 47.7h4.1v4.4h-4.1zM231.5 51.5h4.1v4.4h-4.1zM231.5 55.4h7.7v4.4h-7.7zM235.0 59.2h4.1v4.4h-4.1zM235.0 63.0h7.7v4.4h-7.7zM238.5 66.9h7.7v4.4h-7.7zM238.5 70.7h11.2v4.4h-11.2zM238.5 74.5h11.2v4.4h-11.2z"/>
<path fill="#ffffff" d="M242.1 11.2h11.2v6.4h-11.2zM270.3 11.2h36.9v6.4h-36.9zM238.5 17.0h14.7v4.4h-14.7zM270.3 17.0h36.9v4.4h-36.9zM238.5 20.8h14.7v4.4h-14.7zM270.3 20.8h36.9v4.4h-36.9zM235.0 24.7h18.3v4.4h-18.3zM270.3 24.7h36.9v4.4h-36.9zM235.0 28.5h18.3v4.4h-18.3zM266.8 28.5h40.5v4.4h-40.5zM235.0 32.3h18.3v4.4h-18.3zM266.8 32.3h40.5v4.4h-40.5zM231.5 36.2h21.8v4.4h-21.8zM266.8 36.2h40.5v4.4h-40.5zM231.5 40.0h11.2v4.4h-11.2zM270.3 40.0h36.9v4.4h-36.9zM231.5 43.8h11.2v4.4h-11.2zM273.9 43.8h33.4v4.4h-33.4zM235.0 47.7h7.7v4.4h-7.7zM273.9 47.7h33.4v4.4h-33.4zM235.0 51.5h11.2v4.4h-11.2zM273.9 51.5h33.4v4.4h-33.4zM238.5 55.4h7.7v4.4h-7.7zM277.4 55.4h29.9v4.4h-29.9zM238.5 59.2h11.2v4.4h-11.2zM295.1 59.2h12.2v4.4h-12.2zM242.1 63.0h11.2v4.4h-11.2zM295.1 63.0h12.2v4.4h-12.2zM245.6 66.9h11.2v4.4h-11.2zM295.1 66.9h12.2v4.4h-12.2zM249.1 70.7h11.2v4.4h-11.2zM295.1 70.7h12.2v4.4h-12.2zM249.1 74.5h11.2v4.4h-11.2zM295.1 74.5h12.2v4.4h-12.2zM221.4 78.4h85.9v6.4h-85.9z"/>
<path fill="#ebe8ff" d="M252.7 11.2h11.2v6.4h-11.2zM252.7 17.0h4.1v4.4h-4.1zM263.3 17.0h4.1v4.4h-4.1zM252.7 20.8h4.1v4.4h-4.1zM263.3 20.8h4.1v4.4h-4.1zM252.7 24.7h4.1v4.4h-4.1zM263.3 24.7h4.1v4.4h-4.1zM252.7 28.5h11.2v4.4h-11.2zM245.6 43.8h14.7v4.4h-14.7zM245.6 47.7h18.3v4.4h-18.3zM245.6 51.5h18.3v4.4h-18.3zM249.1 55.4h11.2v4.4h-11.2z"/>
<path fill="#f5f3ff" d="M263.3 11.2h4.1v6.4h-4.1zM266.8 17.0h4.1v4.4h-4.1zM266.8 20.8h4.1v4.4h-4.1zM263.3 28.5h4.1v4.4h-4.1zM252.7 32.3h11.2v4.4h-11.2zM242.1 40.0h21.8v4.4h-21.8zM242.1 43.8h4.1v4.4h-4.1zM259.7 43.8h7.7v4.4h-7.7zM242.1 47.7h4.1v4.4h-4.1zM263.3 47.7h7.7v4.4h-7.7zM263.3 51.5h7.7v4.4h-7.7zM245.6 55.4h4.1v4.4h-4.1zM259.7 55.4h11.2v4.4h-11.2zM249.1 59.2h28.9v4.4h-28.9zM284.5 59.2h7.7v4.4h-7.7zM252.7 63.0h39.5v4.4h-39.5zM256.2 66.9h35.9v4.4h-35.9zM259.7 70.7h32.4v4.4h-32.4zM259.7 74.5h32.4v4.4h-32.4z"/>
<path fill="#faf9ff" d="M266.8 11.2h4.1v6.4h-4.1zM266.8 24.7h4.1v4.4h-4.1zM263.3 32.3h4.1v4.4h-4.1zM252.7 36.2h14.7v4.4h-14.7zM263.3 40.0h7.7v4.4h-7.7zM266.8 43.8h7.7v4.4h-7.7zM270.3 47.7h4.1v4.4h-4.1zM270.3 51.5h4.1v4.4h-4.1zM270.3 55.4h7.7v4.4h-7.7zM277.4 59.2h7.7v4.4h-7.7zM291.5 59.2h4.1v4.4h-4.1zM291.5 63.0h4.1v4.4h-4.1zM291.5 66.9h4.1v4.4h-4.1zM291.5 70.7h4.1v4.4h-4.1zM291.5 74.5h4.1v4.4h-4.1z"/>
<path fill="#e1dcff" d="M256.2 17.0h7.7v4.4h-7.7zM256.2 20.8h7.7v4.4h-7.7zM256.2 24.7h7.7v4.4h-7.7z"/>
</g>
</g>
<path d="M232.65 13.45 L252.82 13.45 L252.82 23.35 L253.25 24.96 L245.97 24.96 L244.84 25.23 L243.78 25.27 L241.66 26.04 L240.07 25.96 L238.13 26.42 L237.07 26.04 L235.65 26.31 L234.42 26.69 L232.58 26.42 L232.47 25.54 L232.12 24.58 L231.06 24.31 L230 24 L228.23 23.97 L227.95 22.66 L227.88 21.51 L227.53 20.36 L226.82 18.82 L225.94 17.29 L225.65 15.83 L227.88 16.52 L231.06 16.83 L232.65 16.71 L232.65 13.45ZM228.23 23.97 L228.23 23.97 L230 24 L231.06 24.31 L232.12 24.58 L232.47 25.54 L232.58 26.42 L234.42 26.69 L235.65 26.31 L237.07 26.04 L238.13 26.42 L240.07 25.96 L241.66 26.04 L243.78 25.27 L244.84 25.23 L245.97 24.96 L253.25 24.96 L253.81 25.65 L254.84 26.5 L254.55 27.03 L254.06 27.76 L253.49 28.8 L253.35 29.41 L252.61 30.72 L252.15 31.49 L252.79 31.75 L253.14 32.45 L252.86 33.4 L252.86 40.31 L227.49 40.31 L226.82 38.78 L226.29 37.24 L226.82 35.32 L227.53 34.17 L227.88 32.64 L228.06 29.95 L228.41 26.88 L228.48 24.96 L228.23 23.97ZM227.49 40.31 L242.36 40.31 L242.36 51.82 L261.34 67.17 L261.55 67.94 L262.33 69.28 L263.1 69.97 L262.04 70.7 L261.69 71.39 L261.8 72.54 L261.02 73.31 L261.09 74.65 L261.9 75.42 L261.02 75.92 L252.54 76.65 L252.08 75.23 L251.2 73.31 L249.43 72.16 L248.02 71.97 L247.66 70.89 L246.6 71.01 L245.19 70.43 L243.78 69.47 L240.78 69.28 L240.07 68.7 L240.25 66.79 L239.19 65.44 L237.77 64.48 L235.65 62.18 L235.48 61.03 L236.01 60.26 L235.3 59.69 L233.89 58.73 L233.53 57.19 L233.53 56.43 L231.77 55.66 L231.77 54.51 L229.29 52.21 L228.94 49.9 L228.76 48.37 L227 46.83 L226.82 46.26 L227.88 44.15 L227.53 41.46 L227.49 40.31ZM242.36 40.31 L263.42 40.31 L263.42 62.6 L262.26 62.83 L260.95 63.37 L261.23 65.25 L261.55 66.59 L261.34 67.17 L242.36 51.82ZM252.82 13.45 L256.32 13.45 L256.32 17.37 L257.38 19.02 L257.59 19.51 L258.97 20.17 L260.24 21.39 L261.62 22.47 L262.4 22.43 L261.9 24.39 L262.15 25.46 L261.58 25.85 L261.8 26.65 L263.56 26.19 L264.27 26.5 L265.51 28.57 L267.1 30.72 L267.8 30.91 L269.39 30.53 L272.5 30.53 L273.99 30.8 L273.99 40.31 L252.86 40.31 L252.86 33.4 L253.14 32.45 L252.79 31.75 L252.15 31.49 L252.61 30.72 L253.35 29.41 L253.49 28.8 L254.06 27.76 L254.55 27.03 L254.84 26.5 L253.81 25.65 L253.25 24.96 L252.82 23.35ZM256.32 13.45 L298.72 13.45 L298.72 28.8 L273.99 28.8 L273.99 30.8 L272.5 30.53 L269.39 30.53 L267.8 30.91 L267.1 30.72 L265.51 28.57 L264.27 26.5 L263.56 26.19 L261.8 26.65 L261.58 25.85 L262.15 25.46 L261.9 24.39 L262.4 22.43 L261.62 22.47 L260.24 21.39 L258.97 20.17 L257.59 19.51 L257.38 19.02 L256.32 17.37 L256.32 13.45ZM273.99 28.8 L298.72 28.8 L298.72 44.15 L273.99 44.15ZM263.42 40.31 L273.99 40.31 L273.99 44.15 L281.05 44.15 L281.05 59.5 L263.42 59.5ZM281.05 44.15 L305.78 44.15 L305.78 59.5 L281.05 59.5ZM263.42 59.5 L281.05 59.5 L281.05 81.25 L273.91 81.25 L260.7 76.8 L261.02 75.92 L261.9 75.42 L261.09 74.65 L261.02 73.31 L261.8 72.54 L261.69 71.39 L262.04 70.7 L263.1 69.97 L262.33 69.28 L261.55 67.94 L261.34 67.17 L261.55 66.59 L261.23 65.25 L260.95 63.37 L262.26 62.83 L263.39 62.6ZM281.05 59.5 L302.43 59.5 L302.28 61.41 L302.28 78.68 L289.64 78.68 L289.95 79.53 L284.02 79.53 L284.02 81.25 L281.05 81.25Z" fill="none" stroke="#505050" stroke-width="1" stroke-linejoin="round"/>
<path d="M232.3 13.45 L233.89 13.45 L234.59 15.75 L234.77 18.06 L234.24 20.74 L232.47 21.13 L231.24 19.59 L231.41 17.67 L232.12 16.14Z" fill="#111"/>
<path d="M233.71 55.28 L234.77 55.08 L235.3 56.04 L234.95 57.77 L234.24 57.77 L233.89 56.43Z" fill="#222"/>
<path d="M224.7 9.76 V85.52 M233.53 9.76 V12.76 M233.53 82.52 V85.52 M242.36 9.76 V12.76 M242.36 82.52 V85.52 M251.2 9.76 V12.76 M251.2 82.52 V85.52 M260.03 9.76 V12.76 M260.03 82.52 V85.52 M268.86 9.76 V12.76 M268.86 82.52 V85.52 M277.69 9.76 V12.76 M277.69 82.52 V85.52 M286.53 9.76 V12.76 M286.53 82.52 V85.52 M295.36 9.76 V12.76 M295.36 82.52 V85.52 M304.19 9.76 V12.76 M304.19 82.52 V85.52 M221.7 76.76 H224.7 M305.43 76.76 H308.93 M221.7 67.17 H224.7 M305.43 67.17 H308.93 M221.7 57.58 H224.7 M305.43 57.58 H308.93 M221.7 47.98 H224.7 M305.43 47.98 H308.93 M221.7 38.39 H224.7 M305.43 38.39 H308.93 M221.7 28.8 H224.7 M305.43 28.8 H308.93 M221.7 19.21 H224.7 M305.43 19.21 H308.93" stroke="#cfcfcf" stroke-width="0.8" fill="none"/>
<rect x="255.54" y="13.5" width="2.2" height="2.2" fill="#000"/>
<rect x="265.01" y="19.64" width="2.2" height="2.2" fill="#000"/>
<rect x="260.34" y="25.78" width="2.2" height="2.2" fill="#000"/>
<rect x="261.51" y="27.01" width="2.2" height="2.2" fill="#000"/>
<rect x="262.6" y="28.47" width="2.2" height="2.2" fill="#000"/>
<rect x="273.42" y="24.63" width="2.2" height="2.2" fill="#000"/>
<rect x="274.83" y="26.32" width="2.2" height="2.2" fill="#000"/>
<rect x="258.01" y="34.49" width="2.2" height="2.2" fill="#000"/>
<rect x="269.6" y="34.49" width="2.2" height="2.2" fill="#000"/>
<rect x="250.66" y="41.13" width="2.2" height="2.2" fill="#000"/>
<rect x="250.66" y="42.66" width="2.2" height="2.2" fill="#000"/>
<rect x="233.49" y="32.69" width="2.2" height="2.2" fill="#000"/>
<rect x="230.24" y="44.97" width="2.2" height="2.2" fill="#000"/>
<rect x="233.39" y="55.52" width="2.2" height="2.2" fill="#000"/>
<rect x="239.5" y="54.79" width="2.2" height="2.2" fill="#000"/>
<rect x="244.3" y="68.76" width="2.2" height="2.2" fill="#000"/>
<g clip-path="url(#cp10)">
<rect x="27" y="91.72" width="81.85" height="69.72" fill="#c4cbb4"/>
<g filter="url(#blur)">
<path fill="#faab32" d="M23.7 90.6h7.2v6.4h-7.2zM33.9 90.6h4.2v6.4h-4.2zM58.9 90.6h4.2v6.4h-4.2zM66.1 90.6h4.2v6.4h-4.2zM62.5 96.4h4.2v4.4h-4.2zM23.7 100.2h7.2v4.4h-7.2zM55.4 107.8h4.2v4.4h-4.2zM23.7 119.2h7.2v4.4h-7.2zM33.9 119.2h4.2v4.4h-4.2zM37.4 123.0h4.2v4.4h-4.2zM23.7 126.8h14.3v4.4h-14.3zM44.6 126.8h4.2v4.4h-4.2zM23.7 130.7h10.8v4.4h-10.8zM48.2 130.7h4.2v4.4h-4.2zM23.7 134.5h14.3v4.4h-14.3zM48.2 134.5h4.2v4.4h-4.2zM23.7 138.3h14.3v4.4h-14.3zM51.8 138.3h4.2v4.4h-4.2zM23.7 142.1h21.5v4.4h-21.5zM55.4 142.1h7.8v4.4h-7.8zM55.4 145.9h7.8v4.4h-7.8zM62.5 149.7h4.2v4.4h-4.2zM62.5 153.5h4.2v4.4h-4.2z"/>
<path fill="#f4b258" d="M30.3 90.6h4.2v6.4h-4.2zM37.4 90.6h4.2v6.4h-4.2zM55.4 90.6h4.2v6.4h-4.2zM62.5 90.6h4.2v6.4h-4.2zM23.7 96.4h17.9v4.4h-17.9zM55.4 96.4h4.2v4.4h-4.2zM30.3 100.2h7.8v4.4h-7.8zM66.1 100.2h4.2v4.4h-4.2zM23.7 104.0h7.2v4.4h-7.2zM55.4 104.0h4.2v4.4h-4.2zM66.1 104.0h4.2v4.4h-4.2zM23.7 107.8h7.2v4.4h-7.2zM69.7 107.8h7.8v4.4h-7.8zM23.7 111.6h7.2v4.4h-7.2zM55.4 111.6h4.2v4.4h-4.2zM23.7 115.4h7.2v4.4h-7.2zM37.4 119.2h11.3v4.4h-11.3zM51.8 119.2h7.8v4.4h-7.8zM41.0 123.0h25.7v4.4h-25.7zM48.2 126.8h18.5v4.4h-18.5zM87.6 126.8h4.2v4.4h-4.2zM51.8 130.7h14.9v4.4h-14.9zM87.6 130.7h4.2v4.4h-4.2zM51.8 134.5h14.9v4.4h-14.9zM55.4 138.3h11.3v4.4h-11.3zM62.5 142.1h4.2v4.4h-4.2zM62.5 145.9h4.2v4.4h-4.2z"/>
<path fill="#ecba76" d="M41.0 90.6h4.2v6.4h-4.2zM51.8 90.6h4.2v6.4h-4.2zM66.1 96.4h4.2v4.4h-4.2zM37.4 100.2h4.2v4.4h-4.2zM55.4 100.2h4.2v4.4h-4.2zM30.3 104.0h4.2v4.4h-4.2zM69.7 104.0h4.2v4.4h-4.2zM66.1 107.8h4.2v4.4h-4.2zM30.3 111.6h4.2v4.4h-4.2zM73.3 111.6h4.2v4.4h-4.2zM30.3 115.4h4.2v4.4h-4.2zM48.2 119.2h4.2v4.4h-4.2zM58.9 119.2h4.2v4.4h-4.2zM84.0 126.8h4.2v4.4h-4.2zM91.2 126.8h4.2v4.4h-4.2zM33.9 130.7h4.2v4.4h-4.2zM84.0 130.7h4.2v4.4h-4.2zM91.2 130.7h4.2v4.4h-4.2zM87.6 134.5h7.8v4.4h-7.8zM37.4 138.3h4.2v4.4h-4.2z"/>
<path fill="#e2c296" d="M44.6 90.6h7.8v6.4h-7.8zM69.7 90.6h4.2v6.4h-4.2zM51.8 96.4h4.2v4.4h-4.2zM69.7 96.4h4.2v4.4h-4.2zM69.7 100.2h4.2v4.4h-4.2zM37.4 104.0h4.2v4.4h-4.2zM73.3 104.0h4.2v4.4h-4.2zM30.3 107.8h4.2v4.4h-4.2zM37.4 107.8h4.2v4.4h-4.2zM76.8 107.8h4.2v4.4h-4.2zM37.4 111.6h4.2v4.4h-4.2zM58.9 111.6h4.2v4.4h-4.2zM66.1 111.6h7.8v4.4h-7.8zM76.8 111.6h4.2v4.4h-4.2zM37.4 115.4h4.2v4.4h-4.2zM55.4 115.4h4.2v4.4h-4.2zM73.3 115.4h4.2v4.4h-4.2zM73.3 123.0h7.8v4.4h-7.8zM66.1 126.8h7.8v4.4h-7.8zM80.4 126.8h4.2v4.4h-4.2zM94.8 126.8h4.2v4.4h-4.2zM66.1 130.7h7.8v4.4h-7.8zM80.4 130.7h4.2v4.4h-4.2zM94.8 130.7h4.2v4.4h-4.2zM66.1 134.5h4.2v4.4h-4.2zM84.0 134.5h4.2v4.4h-4.2zM94.8 134.5h4.2v4.4h-4.2zM41.0 138.3h4.2v4.4h-4.2z"/>
<path fill="#cad3cf" d="M73.3 90.6h37.4v6.4h-37.4zM44.6 96.4h4.2v4.4h-4.2zM76.8 96.4h33.8v4.4h-33.8zM44.6 100.2h4.2v4.4h-4.2zM76.8 100.2h33.8v4.4h-33.8zM80.4 104.0h30.3v4.4h-30.3zM84.0 107.8h26.7v4.4h-26.7zM84.0 111.6h26.7v4.4h-26.7zM80.4 115.4h30.3v4.4h-30.3zM84.0 119.2h26.7v4.4h-26.7zM84.0 123.0h26.7v4.4h-26.7zM101.9 126.8h8.8v4.4h-8.8zM101.9 130.7h8.8v4.4h-8.8zM101.9 134.5h8.8v4.4h-8.8zM69.7 138.3h4.2v4.4h-4.2zM76.8 138.3h4.2v4.4h-4.2zM84.0 138.3h4.2v4.4h-4.2zM91.2 138.3h4.2v4.4h-4.2zM98.3 138.3h12.3v4.4h-12.3zM66.1 142.1h4.2v4.4h-4.2zM73.3 142.1h4.2v4.4h-4.2zM80.4 142.1h4.2v4.4h-4.2zM87.6 142.1h4.2v4.4h-4.2zM94.8 142.1h11.3v4.4h-11.3zM69.7 145.9h4.2v4.4h-4.2zM76.8 145.9h4.2v4.4h-4.2zM84.0 145.9h4.2v4.4h-4.2zM91.2 145.9h11.3v4.4h-11.3zM105.5 145.9h5.2v4.4h-5.2zM66.1 149.7h4.2v4.4h-4.2zM73.3 149.7h4.2v4.4h-4.2zM80.4 149.7h4.2v4.4h-4.2zM87.6 149.7h11.3v4.4h-11.3zM101.9 149.7h4.2v4.4h-4.2zM69.7 153.5h4.2v4.4h-4.2zM76.8 153.5h4.2v4.4h-4.2zM84.0 153.5h11.3v4.4h-11.3zM98.3 153.5h4.2v4.4h-4.2zM105.5 153.5h5.2v4.4h-5.2zM23.7 157.3h87.0v6.4h-87.0z"/>
<path fill="#d7cdb6" d="M41.0 96.4h4.2v4.4h-4.2zM48.2 96.4h4.2v4.4h-4.2zM73.3 96.4h4.2v4.4h-4.2zM41.0 100.2h4.2v4.4h-4.2zM48.2 100.2h7.8v4.4h-7.8zM73.3 100.2h4.2v4.4h-4.2zM33.9 104.0h4.2v4.4h-4.2zM41.0 104.0h14.9v4.4h-14.9zM76.8 104.0h4.2v4.4h-4.2zM33.9 107.8h4.2v4.4h-4.2zM41.0 107.8h14.9v4.4h-14.9zM80.4 107.8h4.2v4.4h-4.2zM33.9 111.6h4.2v4.4h-4.2zM41.0 111.6h14.9v4.4h-14.9zM62.5 111.6h4.2v4.4h-4.2zM80.4 111.6h4.2v4.4h-4.2zM33.9 115.4h4.2v4.4h-4.2zM41.0 115.4h14.9v4.4h-14.9zM58.9 115.4h14.9v4.4h-14.9zM76.8 115.4h4.2v4.4h-4.2zM62.5 119.2h22.1v4.4h-22.1zM66.1 123.0h7.8v4.4h-7.8zM80.4 123.0h4.2v4.4h-4.2zM73.3 126.8h7.8v4.4h-7.8zM98.3 126.8h4.2v4.4h-4.2zM37.4 130.7h4.2v4.4h-4.2zM73.3 130.7h7.8v4.4h-7.8zM98.3 130.7h4.2v4.4h-4.2zM37.4 134.5h4.2v4.4h-4.2zM69.7 134.5h14.9v4.4h-14.9zM98.3 134.5h4.2v4.4h-4.2zM66.1 138.3h4.2v4.4h-4.2zM73.3 138.3h4.2v4.4h-4.2zM80.4 138.3h4.2v4.4h-4.2zM87.6 138.3h4.2v4.4h-4.2zM94.8 138.3h4.2v4.4h-4.2zM69.7 142.1h4.2v4.4h-4.2zM76.8 142.1h4.2v4.4h-4.2zM84.0 142.1h4.2v4.4h-4.2zM91.2 142.1h4.2v4.4h-4.2zM105.5 142.1h5.2v4.4h-5.2zM66.1 145.9h4.2v4.4h-4.2zM73.3 145.9h4.2v4.4h-4.2zM80.4 145.9h4.2v4.4h-4.2zM87.6 145.9h4.2v4.4h-4.2zM101.9 145.9h4.2v4.4h-4.2zM69.7 149.7h4.2v4.4h-4.2zM76.8 149.7h4.2v4.4h-4.2zM84.0 149.7h4.2v4.4h-4.2zM98.3 149.7h4.2v4.4h-4.2zM105.5 149.7h5.2v4.4h-5.2zM66.1 153.5h4.2v4.4h-4.2zM73.3 153.5h4.2v4.4h-4.2zM80.4 153.5h4.2v4.4h-4.2zM94.8 153.5h4.2v4.4h-4.2zM101.9 153.5h4.2v4.4h-4.2z"/>
<path fill="#ffa50a" d="M58.9 96.4h4.2v4.4h-4.2zM62.5 100.2h4.2v4.4h-4.2zM62.5 104.0h4.2v4.4h-4.2zM62.5 107.8h4.2v4.4h-4.2zM30.3 119.2h4.2v4.4h-4.2zM23.7 123.0h7.2v4.4h-7.2zM33.9 123.0h4.2v4.4h-4.2zM41.0 126.8h4.2v4.4h-4.2zM44.6 130.7h4.2v4.4h-4.2zM48.2 138.3h4.2v4.4h-4.2zM44.6 142.1h4.2v4.4h-4.2zM51.8 142.1h4.2v4.4h-4.2zM23.7 145.9h21.5v4.4h-21.5zM48.2 145.9h7.8v4.4h-7.8zM58.9 149.7h4.2v4.4h-4.2zM23.7 153.5h39.4v4.4h-39.4z"/>
<path fill="#ee737a" d="M58.9 100.2h4.2v4.4h-4.2zM58.9 104.0h4.2v4.4h-4.2zM58.9 107.8h4.2v4.4h-4.2zM41.0 134.5h4.2v4.4h-4.2zM44.6 138.3h4.2v4.4h-4.2zM48.2 149.7h7.8v4.4h-7.8z"/>
<path fill="#f88c4b" d="M30.3 123.0h4.2v4.4h-4.2zM37.4 126.8h4.2v4.4h-4.2zM41.0 130.7h4.2v4.4h-4.2zM44.6 134.5h4.2v4.4h-4.2zM48.2 142.1h4.2v4.4h-4.2zM44.6 145.9h4.2v4.4h-4.2zM23.7 149.7h25.1v4.4h-25.1zM55.4 149.7h4.2v4.4h-4.2z"/>
</g>
</g>
<path d="M35.06 92.86 L55.51 92.86 L55.51 102.69 L55.94 104.29 L48.56 104.29 L47.42 104.56 L46.34 104.59 L44.19 105.36 L42.58 105.28 L40.61 105.74 L39.54 105.36 L38.1 105.62 L36.85 106 L34.99 105.74 L34.88 104.86 L34.52 103.91 L33.45 103.64 L32.37 103.34 L30.58 103.3 L30.3 102 L30.22 100.86 L29.87 99.72 L29.15 98.19 L28.25 96.67 L27.97 95.22 L30.22 95.91 L33.45 96.21 L35.06 96.1 L35.06 92.86ZM30.58 103.3 L30.58 103.3 L32.37 103.34 L33.45 103.64 L34.52 103.91 L34.88 104.86 L34.99 105.74 L36.85 106 L38.1 105.62 L39.54 105.36 L40.61 105.74 L42.58 105.28 L44.19 105.36 L46.34 104.59 L47.42 104.56 L48.56 104.29 L55.94 104.29 L56.52 104.98 L57.55 105.81 L57.27 106.35 L56.77 107.07 L56.19 108.1 L56.05 108.71 L55.3 110 L54.83 110.77 L55.48 111.03 L55.84 111.72 L55.55 112.67 L55.55 119.53 L29.83 119.53 L29.15 118.01 L28.61 116.48 L29.15 114.58 L29.87 113.43 L30.22 111.91 L30.4 109.24 L30.76 106.19 L30.83 104.29 L30.58 103.3ZM29.83 119.53 L44.91 119.53 L44.91 130.96 L64.15 146.2 L64.36 146.96 L65.15 148.3 L65.94 148.98 L64.86 149.71 L64.5 150.39 L64.61 151.53 L63.82 152.3 L63.89 153.63 L64.72 154.39 L63.82 154.89 L55.23 155.61 L54.76 154.2 L53.86 152.3 L52.07 151.15 L50.64 150.96 L50.28 149.9 L49.21 150.01 L47.78 149.44 L46.34 148.49 L43.3 148.3 L42.58 147.72 L42.76 145.82 L41.69 144.49 L40.25 143.53 L38.1 141.25 L37.93 140.1 L38.46 139.34 L37.75 138.77 L36.31 137.82 L35.95 136.29 L35.95 135.53 L34.16 134.77 L34.16 133.63 L31.66 131.34 L31.3 129.06 L31.12 127.53 L29.33 126.01 L29.15 125.44 L30.22 123.34 L29.87 120.67 L29.83 119.53ZM44.91 119.53 L66.26 119.53 L66.26 141.67 L65.08 141.89 L63.75 142.43 L64.04 144.29 L64.36 145.63 L64.15 146.2 L44.91 130.96ZM55.51 92.86 L59.06 92.86 L59.06 96.75 L60.13 98.38 L60.35 98.88 L61.75 99.53 L63.03 100.75 L64.43 101.81 L65.22 101.78 L64.72 103.72 L64.97 104.79 L64.4 105.17 L64.61 105.97 L66.4 105.51 L67.12 105.81 L68.37 107.87 L69.98 110 L70.7 110.2 L72.31 109.81 L75.46 109.81 L76.97 110.08 L76.97 119.53 L55.55 119.53 L55.55 112.67 L55.84 111.72 L55.48 111.03 L54.83 110.77 L55.3 110 L56.05 108.71 L56.19 108.1 L56.77 107.07 L57.27 106.35 L57.55 105.81 L56.52 104.98 L55.94 104.29 L55.51 102.69ZM59.06 92.86 L102.04 92.86 L102.04 108.1 L76.97 108.1 L76.97 110.08 L75.46 109.81 L72.31 109.81 L70.7 110.2 L69.98 110 L68.37 107.87 L67.12 105.81 L66.4 105.51 L64.61 105.97 L64.4 105.17 L64.97 104.79 L64.72 103.72 L65.22 101.78 L64.43 101.81 L63.03 100.75 L61.75 99.53 L60.35 98.88 L60.13 98.38 L59.06 96.75 L59.06 92.86ZM76.97 108.1 L102.04 108.1 L102.04 123.34 L76.97 123.34ZM66.26 119.53 L76.97 119.53 L76.97 123.34 L84.13 123.34 L84.13 138.58 L66.26 138.58ZM84.13 123.34 L109.21 123.34 L109.21 138.58 L84.13 138.58ZM66.26 138.58 L84.13 138.58 L84.13 160.18 L76.9 160.18 L63.5 155.76 L63.82 154.89 L64.72 154.39 L63.89 153.63 L63.82 152.3 L64.61 151.53 L64.5 150.39 L64.86 149.71 L65.94 148.98 L65.15 148.3 L64.36 146.96 L64.15 146.2 L64.36 145.63 L64.04 144.29 L63.75 142.43 L65.08 141.89 L66.22 141.67ZM84.13 138.58 L105.8 138.58 L105.66 140.48 L105.66 157.63 L92.84 157.63 L93.16 158.47 L87.14 158.47 L87.14 160.18 L84.13 160.18Z" fill="none" stroke="#505050" stroke-width="1" stroke-linejoin="round"/>
<path d="M34.7 92.86 L36.31 92.86 L37.03 95.15 L37.21 97.43 L36.67 100.1 L34.88 100.48 L33.63 98.96 L33.81 97.05 L34.52 95.53Z" fill="#111"/>
<path d="M36.13 134.39 L37.21 134.2 L37.75 135.15 L37.39 136.87 L36.67 136.87 L36.31 135.53Z" fill="#222"/>
<ellipse cx="88.61" cy="109.24" rx="2.61" ry="1.6" fill="#f4f6f6"/>
<ellipse cx="71.6" cy="122.77" rx="1.25" ry="1.71" fill="#f4f6f6"/>
<ellipse cx="105.8" cy="150.77" rx="2.15" ry="2.86" fill="#f4f6f6"/>
<path d="M27 89.17 V164.44 M35.95 89.17 V92.17 M35.95 161.44 V164.44 M44.91 89.17 V92.17 M44.91 161.44 V164.44 M53.86 89.17 V92.17 M53.86 161.44 V164.44 M62.82 89.17 V92.17 M62.82 161.44 V164.44 M71.78 89.17 V92.17 M71.78 161.44 V164.44 M80.73 89.17 V92.17 M80.73 161.44 V164.44 M89.69 89.17 V92.17 M89.69 161.44 V164.44 M98.64 89.17 V92.17 M98.64 161.44 V164.44 M107.59 89.17 V92.17 M107.59 161.44 V164.44 M24 155.72 H27 M108.85 155.72 H112.35 M24 146.2 H27 M108.85 146.2 H112.35 M24 136.67 H27 M108.85 136.67 H112.35 M24 127.15 H27 M108.85 127.15 H112.35 M24 117.62 H27 M108.85 117.62 H112.35 M24 108.1 H27 M108.85 108.1 H112.35 M24 98.57 H27 M108.85 98.57 H112.35" stroke="#cfcfcf" stroke-width="0.8" fill="none"/>
<rect x="37.86" y="108.71" width="2.2" height="2.2" fill="#000"/>
<rect x="36.75" y="111.57" width="2.2" height="2.2" fill="#000"/>
<rect x="39.58" y="111.57" width="2.2" height="2.2" fill="#000"/>
<rect x="34.85" y="114.05" width="2.2" height="2.2" fill="#000"/>
<rect x="40.3" y="114.66" width="2.2" height="2.2" fill="#000"/>
<rect x="48.93" y="107.11" width="2.2" height="2.2" fill="#000"/>
<rect x="49.18" y="109.02" width="2.2" height="2.2" fill="#000"/>
<rect x="48.32" y="114.05" width="2.2" height="2.2" fill="#000"/>
<rect x="48.11" y="117.9" width="2.2" height="2.2" fill="#000"/>
<rect x="46.17" y="119.31" width="2.2" height="2.2" fill="#000"/>
<rect x="44.74" y="120.72" width="2.2" height="2.2" fill="#000"/>
<rect x="40.51" y="123.04" width="2.2" height="2.2" fill="#000"/>
<rect x="41.52" y="124.72" width="2.2" height="2.2" fill="#000"/>
<rect x="54.31" y="120.22" width="2.2" height="2.2" fill="#000"/>
<rect x="56.81" y="112.91" width="2.2" height="2.2" fill="#000"/>
<rect x="34.07" y="128.87" width="2.2" height="2.2" fill="#000"/>
<rect x="40.05" y="131.12" width="2.2" height="2.2" fill="#000"/>
<rect x="35.32" y="132.53" width="2.2" height="2.2" fill="#000"/>
<rect x="37.18" y="134.89" width="2.2" height="2.2" fill="#000"/>
<rect x="44.35" y="133.86" width="2.2" height="2.2" fill="#000"/>
<rect x="44.78" y="135.31" width="2.2" height="2.2" fill="#000"/>
<rect x="41.52" y="138.89" width="2.2" height="2.2" fill="#000"/>
<rect x="47.64" y="139.08" width="2.2" height="2.2" fill="#000"/>
<rect x="48.61" y="141.37" width="2.2" height="2.2" fill="#000"/>
<rect x="39.15" y="141.37" width="2.2" height="2.2" fill="#000"/>
<rect x="44.35" y="144.91" width="2.2" height="2.2" fill="#000"/>
<rect x="48.61" y="145.25" width="2.2" height="2.2" fill="#000"/>
<rect x="51.44" y="147" width="2.2" height="2.2" fill="#000"/>
<rect x="47.75" y="146.62" width="2.2" height="2.2" fill="#000"/>
<rect x="51.69" y="148.15" width="2.2" height="2.2" fill="#000"/>
<rect x="54.91" y="150.43" width="2.2" height="2.2" fill="#000"/>
<rect x="54.91" y="152.72" width="2.2" height="2.2" fill="#000"/>
<rect x="59.21" y="139.38" width="2.2" height="2.2" fill="#000"/>
<rect x="65.84" y="137.86" width="2.2" height="2.2" fill="#000"/>
<rect x="77.02" y="99.61" width="2.2" height="2.2" fill="#000"/>
<rect x="63.22" y="104.71" width="2.2" height="2.2" fill="#000"/>
<rect x="63.22" y="108.3" width="2.2" height="2.2" fill="#000"/>
<rect x="78.2" y="106.81" width="2.2" height="2.2" fill="#000"/>
<rect x="81.06" y="105.86" width="2.2" height="2.2" fill="#000"/>
<rect x="71.93" y="114.62" width="2.2" height="2.2" fill="#000"/>
<rect x="66.02" y="118.62" width="2.2" height="2.2" fill="#000"/>
<rect x="64.73" y="133.48" width="2.2" height="2.2" fill="#000"/>
<rect x="66.38" y="134.43" width="2.2" height="2.2" fill="#000"/>
<rect x="71.1" y="139" width="2.2" height="2.2" fill="#000"/>
<rect x="58.85" y="141.29" width="2.2" height="2.2" fill="#000"/>
<rect x="73.43" y="142.81" width="2.2" height="2.2" fill="#000"/>
<rect x="78.2" y="147" width="2.2" height="2.2" fill="#000"/>
<rect x="84.9" y="136.91" width="2.2" height="2.2" fill="#000"/>
<rect x="95.39" y="138.24" width="2.2" height="2.2" fill="#000"/>
<rect x="92.17" y="142.05" width="2.2" height="2.2" fill="#000"/>
<rect x="95.39" y="147.77" width="2.2" height="2.2" fill="#000"/>
<rect x="90.02" y="149.48" width="2.2" height="2.2" fill="#000"/>
<rect x="91.09" y="151.01" width="2.2" height="2.2" fill="#000"/>
<rect x="92.17" y="151.96" width="2.2" height="2.2" fill="#000"/>
<g clip-path="url(#cp11)">
<rect x="124.7" y="91.72" width="84.5" height="69.72" fill="#ffffff"/>
<g filter="url(#blur)">
<path fill="#ffeee8" d="M121.4 90.6h36.9v6.4h-36.9zM121.4 96.4h11.0v4.4h-11.0zM135.5 96.4h22.8v4.4h-22.8zM135.5 100.2h22.8v4.4h-22.8zM154.0 104.0h8.0v4.4h-8.0zM154.0 107.8h11.7v4.4h-11.7zM154.0 111.6h11.7v4.4h-11.7zM154.0 115.4h11.7v4.4h-11.7zM168.8 119.2h11.7v4.4h-11.7zM165.1 123.0h8.0v4.4h-8.0zM165.1 126.8h4.3v4.4h-4.3zM165.1 130.7h4.3v4.4h-4.3zM165.1 134.5h4.3v4.4h-4.3zM165.1 138.3h4.3v4.4h-4.3zM179.9 138.3h19.1v4.4h-19.1zM154.0 142.1h11.7v4.4h-11.7zM179.9 142.1h19.1v4.4h-19.1zM179.9 145.9h19.1v4.4h-19.1zM179.9 149.7h19.1v4.4h-19.1zM179.9 153.5h19.1v4.4h-19.1zM121.4 157.3h33.2v6.4h-33.2zM179.9 157.3h19.1v6.4h-19.1z"/>
<path fill="#fff7f4" d="M157.7 90.6h11.7v6.4h-11.7zM157.7 96.4h11.7v4.4h-11.7zM157.7 100.2h11.7v4.4h-11.7zM161.4 104.0h8.0v4.4h-8.0zM165.1 107.8h22.8v4.4h-22.8zM165.1 111.6h22.8v4.4h-22.8zM165.1 115.4h26.5v4.4h-26.5zM165.1 119.2h4.3v4.4h-4.3zM179.9 119.2h11.7v4.4h-11.7zM179.9 134.5h15.4v4.4h-15.4zM161.4 138.3h4.3v4.4h-4.3zM198.4 138.3h4.3v4.4h-4.3zM198.4 142.1h4.3v4.4h-4.3zM150.3 145.9h4.3v4.4h-4.3zM198.4 145.9h4.3v4.4h-4.3zM198.4 149.7h4.3v4.4h-4.3zM198.4 153.5h4.3v4.4h-4.3zM198.4 157.3h4.3v6.4h-4.3z"/>
<path fill="#ffffff" d="M168.8 90.6h11.7v6.4h-11.7zM168.8 96.4h11.7v4.4h-11.7zM168.8 100.2h11.7v4.4h-11.7zM168.8 104.0h11.7v4.4h-11.7zM187.3 107.8h11.7v4.4h-11.7zM187.3 111.6h23.8v4.4h-23.8zM191.0 115.4h20.1v4.4h-20.1zM161.4 119.2h4.3v4.4h-4.3zM191.0 119.2h20.1v4.4h-20.1zM161.4 123.0h4.3v4.4h-4.3zM179.9 123.0h4.3v4.4h-4.3zM198.4 123.0h12.7v4.4h-12.7zM179.9 126.8h4.3v4.4h-4.3zM198.4 126.8h12.7v4.4h-12.7zM179.9 130.7h4.3v4.4h-4.3zM198.4 130.7h12.7v4.4h-12.7zM194.7 134.5h16.4v4.4h-16.4zM202.1 138.3h9.0v4.4h-9.0zM202.1 142.1h9.0v4.4h-9.0zM202.1 145.9h9.0v4.4h-9.0zM202.1 149.7h9.0v4.4h-9.0zM202.1 153.5h9.0v4.4h-9.0zM202.1 157.3h9.0v6.4h-9.0z"/>
<path fill="#edeaff" d="M179.9 90.6h31.2v6.4h-31.2zM179.9 96.4h31.2v4.4h-31.2zM183.6 100.2h27.5v4.4h-27.5zM187.3 104.0h23.8v4.4h-23.8zM154.0 119.2h4.3v4.4h-4.3zM157.7 123.0h4.3v4.4h-4.3zM157.7 126.8h4.3v4.4h-4.3zM157.7 130.7h4.3v4.4h-4.3zM157.7 134.5h4.3v4.4h-4.3zM154.0 138.3h4.3v4.4h-4.3zM150.3 142.1h4.3v4.4h-4.3z"/>
<path fill="#ffe6dd" d="M131.8 96.4h4.3v4.4h-4.3zM121.4 100.2h14.7v4.4h-14.7zM131.8 104.0h22.8v4.4h-22.8zM139.2 107.8h15.4v4.4h-15.4zM139.2 111.6h15.4v4.4h-15.4zM139.2 115.4h15.4v4.4h-15.4zM172.5 123.0h8.0v4.4h-8.0zM168.8 126.8h11.7v4.4h-11.7zM168.8 130.7h11.7v4.4h-11.7zM168.8 134.5h11.7v4.4h-11.7zM168.8 138.3h11.7v4.4h-11.7zM165.1 142.1h15.4v4.4h-15.4zM154.0 145.9h26.5v4.4h-26.5zM154.0 149.7h4.3v4.4h-4.3zM168.8 149.7h11.7v4.4h-11.7zM154.0 153.5h4.3v4.4h-4.3zM168.8 153.5h11.7v4.4h-11.7zM154.0 157.3h4.3v6.4h-4.3zM168.8 157.3h11.7v6.4h-11.7z"/>
<path fill="#f6f4ff" d="M179.9 100.2h4.3v4.4h-4.3zM179.9 104.0h8.0v4.4h-8.0zM198.4 107.8h12.7v4.4h-12.7zM157.7 119.2h4.3v4.4h-4.3zM183.6 123.0h15.4v4.4h-15.4zM161.4 126.8h4.3v4.4h-4.3zM183.6 126.8h15.4v4.4h-15.4zM161.4 130.7h4.3v4.4h-4.3zM183.6 130.7h15.4v4.4h-15.4zM161.4 134.5h4.3v4.4h-4.3zM157.7 138.3h4.3v4.4h-4.3z"/>
<path fill="#ffded2" d="M121.4 104.0h11.0v4.4h-11.0zM121.4 107.8h18.4v4.4h-18.4zM121.4 111.6h18.4v4.4h-18.4zM121.4 115.4h18.4v4.4h-18.4zM157.7 149.7h11.7v4.4h-11.7zM157.7 153.5h11.7v4.4h-11.7zM157.7 157.3h11.7v6.4h-11.7z"/>
<path fill="#dad5ff" d="M121.4 119.2h25.8v4.4h-25.8zM142.9 123.0h11.7v4.4h-11.7zM146.6 126.8h11.7v4.4h-11.7zM146.6 130.7h8.0v4.4h-8.0zM146.6 134.5h8.0v4.4h-8.0zM150.3 138.3h4.3v4.4h-4.3z"/>
<path fill="#e4e0ff" d="M146.6 119.2h8.0v4.4h-8.0zM154.0 123.0h4.3v4.4h-4.3zM154.0 130.7h4.3v4.4h-4.3zM154.0 134.5h4.3v4.4h-4.3z"/>
<path fill="#b4aaff" d="M121.4 123.0h18.4v4.4h-18.4zM121.4 126.8h22.1v4.4h-22.1zM135.5 130.7h8.0v4.4h-8.0zM139.2 134.5h4.3v4.4h-4.3zM139.2 138.3h8.0v4.4h-8.0zM142.9 142.1h4.3v4.4h-4.3zM146.6 145.9h4.3v4.4h-4.3z"/>
<path fill="#c8c0ff" d="M139.2 123.0h4.3v4.4h-4.3zM142.9 126.8h4.3v4.4h-4.3zM142.9 130.7h4.3v4.4h-4.3zM142.9 134.5h4.3v4.4h-4.3zM146.6 138.3h4.3v4.4h-4.3zM146.6 142.1h4.3v4.4h-4.3zM150.3 149.7h4.3v4.4h-4.3z"/>
<path fill="#a093ff" d="M121.4 130.7h14.7v4.4h-14.7zM121.4 134.5h18.4v4.4h-18.4zM121.4 138.3h18.4v4.4h-18.4zM121.4 142.1h22.1v4.4h-22.1zM142.9 145.9h4.3v4.4h-4.3z"/>
<path fill="#8c7dff" d="M121.4 145.9h22.1v4.4h-22.1zM121.4 149.7h29.5v4.4h-29.5zM121.4 153.5h33.2v4.4h-33.2z"/>
</g>
</g>
<path d="M133.02 92.86 L154.14 92.86 L154.14 102.69 L154.58 104.29 L146.96 104.29 L145.78 104.56 L144.67 104.59 L142.45 105.36 L140.79 105.28 L138.75 105.74 L137.64 105.36 L136.16 105.62 L134.87 106 L132.95 105.74 L132.84 104.86 L132.47 103.91 L131.36 103.64 L130.25 103.34 L128.4 103.3 L128.1 102 L128.03 100.86 L127.66 99.72 L126.92 98.19 L125.99 96.67 L125.7 95.22 L128.03 95.91 L131.36 96.21 L133.02 96.1 L133.02 92.86ZM128.4 103.3 L128.4 103.3 L130.25 103.34 L131.36 103.64 L132.47 103.91 L132.84 104.86 L132.95 105.74 L134.87 106 L136.16 105.62 L137.64 105.36 L138.75 105.74 L140.79 105.28 L142.45 105.36 L144.67 104.59 L145.78 104.56 L146.96 104.29 L154.58 104.29 L155.17 104.98 L156.24 105.81 L155.95 106.35 L155.43 107.07 L154.84 108.1 L154.69 108.71 L153.91 110 L153.43 110.77 L154.1 111.03 L154.47 111.72 L154.17 112.67 L154.17 119.53 L127.62 119.53 L126.92 118.01 L126.36 116.48 L126.92 114.58 L127.66 113.43 L128.03 111.91 L128.21 109.24 L128.58 106.19 L128.66 104.29 L128.4 103.3ZM127.62 119.53 L143.19 119.53 L143.19 130.96 L163.05 146.2 L163.27 146.96 L164.08 148.3 L164.9 148.98 L163.79 149.71 L163.42 150.39 L163.53 151.53 L162.72 152.3 L162.79 153.63 L163.64 154.39 L162.72 154.89 L153.84 155.61 L153.36 154.2 L152.44 152.3 L150.59 151.15 L149.11 150.96 L148.74 149.9 L147.63 150.01 L146.15 149.44 L144.67 148.49 L141.53 148.3 L140.79 147.72 L140.97 145.82 L139.86 144.49 L138.38 143.53 L136.16 141.25 L135.98 140.1 L136.53 139.34 L135.79 138.77 L134.31 137.82 L133.94 136.29 L133.94 135.53 L132.1 134.77 L132.1 133.63 L129.51 131.34 L129.14 129.06 L128.95 127.53 L127.1 126.01 L126.92 125.44 L128.03 123.34 L127.66 120.67 L127.62 119.53ZM143.19 119.53 L165.23 119.53 L165.23 141.67 L164.01 141.89 L162.64 142.43 L162.94 144.29 L163.27 145.63 L163.05 146.2 L143.19 130.96ZM154.14 92.86 L157.8 92.86 L157.8 96.75 L158.91 98.38 L159.13 98.88 L160.57 99.53 L161.9 100.75 L163.34 101.81 L164.16 101.78 L163.64 103.72 L163.9 104.79 L163.31 105.17 L163.53 105.97 L165.38 105.51 L166.12 105.81 L167.41 107.87 L169.08 110 L169.82 110.2 L171.48 109.81 L174.73 109.81 L176.29 110.08 L176.29 119.53 L154.17 119.53 L154.17 112.67 L154.47 111.72 L154.1 111.03 L153.43 110.77 L153.91 110 L154.69 108.71 L154.84 108.1 L155.43 107.07 L155.95 106.35 L156.24 105.81 L155.17 104.98 L154.58 104.29 L154.14 102.69ZM157.8 92.86 L202.17 92.86 L202.17 108.1 L176.29 108.1 L176.29 110.08 L174.73 109.81 L171.48 109.81 L169.82 110.2 L169.08 110 L167.41 107.87 L166.12 105.81 L165.38 105.51 L163.53 105.97 L163.31 105.17 L163.9 104.79 L163.64 103.72 L164.16 101.78 L163.34 101.81 L161.9 100.75 L160.57 99.53 L159.13 98.88 L158.91 98.38 L157.8 96.75 L157.8 92.86ZM176.29 108.1 L202.17 108.1 L202.17 123.34 L176.29 123.34ZM165.23 119.53 L176.29 119.53 L176.29 123.34 L183.68 123.34 L183.68 138.58 L165.23 138.58ZM183.68 123.34 L209.57 123.34 L209.57 138.58 L183.68 138.58ZM165.23 138.58 L183.68 138.58 L183.68 160.18 L176.21 160.18 L162.38 155.76 L162.72 154.89 L163.64 154.39 L162.79 153.63 L162.72 152.3 L163.53 151.53 L163.42 150.39 L163.79 149.71 L164.9 148.98 L164.08 148.3 L163.27 146.96 L163.05 146.2 L163.27 145.63 L162.94 144.29 L162.64 142.43 L164.01 141.89 L165.19 141.67ZM183.68 138.58 L206.06 138.58 L205.91 140.48 L205.91 157.63 L192.67 157.63 L193 158.47 L186.79 158.47 L186.79 160.18 L183.68 160.18Z" fill="none" stroke="#505050" stroke-width="1" stroke-linejoin="round"/>
<path d="M132.65 92.86 L134.31 92.86 L135.05 95.15 L135.24 97.43 L134.68 100.1 L132.84 100.48 L131.54 98.96 L131.73 97.05 L132.47 95.53Z" fill="#111"/>
<path d="M134.13 134.39 L135.24 134.2 L135.79 135.15 L135.42 136.87 L134.68 136.87 L134.31 135.53Z" fill="#222"/>
<path d="M124.7 89.17 V164.44 M133.94 89.17 V92.17 M133.94 161.44 V164.44 M143.19 89.17 V92.17 M143.19 161.44 V164.44 M152.44 89.17 V92.17 M152.44 161.44 V164.44 M161.68 89.17 V92.17 M161.68 161.44 V164.44 M170.93 89.17 V92.17 M170.93 161.44 V164.44 M180.17 89.17 V92.17 M180.17 161.44 V164.44 M189.42 89.17 V92.17 M189.42 161.44 V164.44 M198.66 89.17 V92.17 M198.66 161.44 V164.44 M207.91 89.17 V92.17 M207.91 161.44 V164.44 M121.7 155.72 H124.7 M209.2 155.72 H212.7 M121.7 146.2 H124.7 M209.2 146.2 H212.7 M121.7 136.67 H124.7 M209.2 136.67 H212.7 M121.7 127.15 H124.7 M209.2 127.15 H212.7 M121.7 117.62 H124.7 M209.2 117.62 H212.7 M121.7 108.1 H124.7 M209.2 108.1 H212.7 M121.7 98.57 H124.7 M209.2 98.57 H212.7" stroke="#cfcfcf" stroke-width="0.8" fill="none"/>
<rect x="135.95" y="108.71" width="2.2" height="2.2" fill="#000"/>
<rect x="134.8" y="111.57" width="2.2" height="2.2" fill="#000"/>
<rect x="137.73" y="111.57" width="2.2" height="2.2" fill="#000"/>
<rect x="132.84" y="114.05" width="2.2" height="2.2" fill="#000"/>
<rect x="138.47" y="114.66" width="2.2" height="2.2" fill="#000"/>
<rect x="147.38" y="107.11" width="2.2" height="2.2" fill="#000"/>
<rect x="147.64" y="109.02" width="2.2" height="2.2" fill="#000"/>
<rect x="146.75" y="114.05" width="2.2" height="2.2" fill="#000"/>
<rect x="146.53" y="117.9" width="2.2" height="2.2" fill="#000"/>
<rect x="144.53" y="119.31" width="2.2" height="2.2" fill="#000"/>
<rect x="143.05" y="120.72" width="2.2" height="2.2" fill="#000"/>
<rect x="138.69" y="123.04" width="2.2" height="2.2" fill="#000"/>
<rect x="139.72" y="124.72" width="2.2" height="2.2" fill="#000"/>
<rect x="152.93" y="120.22" width="2.2" height="2.2" fill="#000"/>
<rect x="155.51" y="112.91" width="2.2" height="2.2" fill="#000"/>
<rect x="132.03" y="128.87" width="2.2" height="2.2" fill="#000"/>
<rect x="138.21" y="131.12" width="2.2" height="2.2" fill="#000"/>
<rect x="133.33" y="132.53" width="2.2" height="2.2" fill="#000"/>
<rect x="135.25" y="134.89" width="2.2" height="2.2" fill="#000"/>
<rect x="142.64" y="133.86" width="2.2" height="2.2" fill="#000"/>
<rect x="143.09" y="135.31" width="2.2" height="2.2" fill="#000"/>
<rect x="139.72" y="138.89" width="2.2" height="2.2" fill="#000"/>
<rect x="146.05" y="139.08" width="2.2" height="2.2" fill="#000"/>
<rect x="147.05" y="141.37" width="2.2" height="2.2" fill="#000"/>
<rect x="137.28" y="141.37" width="2.2" height="2.2" fill="#000"/>
<rect x="142.64" y="144.91" width="2.2" height="2.2" fill="#000"/>
<rect x="147.05" y="145.25" width="2.2" height="2.2" fill="#000"/>
<rect x="149.97" y="147" width="2.2" height="2.2" fill="#000"/>
<rect x="146.16" y="146.62" width="2.2" height="2.2" fill="#000"/>
<rect x="150.23" y="148.15" width="2.2" height="2.2" fill="#000"/>
<rect x="153.55" y="150.43" width="2.2" height="2.2" fill="#000"/>
<rect x="153.55" y="152.72" width="2.2" height="2.2" fill="#000"/>
<rect x="157.99" y="139.38" width="2.2" height="2.2" fill="#000"/>
<rect x="164.83" y="137.86" width="2.2" height="2.2" fill="#000"/>
<rect x="176.37" y="99.61" width="2.2" height="2.2" fill="#000"/>
<rect x="162.13" y="104.71" width="2.2" height="2.2" fill="#000"/>
<rect x="162.13" y="108.3" width="2.2" height="2.2" fill="#000"/>
<rect x="177.59" y="106.81" width="2.2" height="2.2" fill="#000"/>
<rect x="180.55" y="105.86" width="2.2" height="2.2" fill="#000"/>
<rect x="171.12" y="114.62" width="2.2" height="2.2" fill="#000"/>
<rect x="165.02" y="118.62" width="2.2" height="2.2" fill="#000"/>
<rect x="163.69" y="133.48" width="2.2" height="2.2" fill="#000"/>
<rect x="165.39" y="134.43" width="2.2" height="2.2" fill="#000"/>
<rect x="170.27" y="139" width="2.2" height="2.2" fill="#000"/>
<rect x="157.62" y="141.29" width="2.2" height="2.2" fill="#000"/>
<rect x="172.67" y="142.81" width="2.2" height="2.2" fill="#000"/>
<rect x="177.59" y="147" width="2.2" height="2.2" fill="#000"/>
<rect x="184.51" y="136.91" width="2.2" height="2.2" fill="#000"/>
<rect x="195.34" y="138.24" width="2.2" height="2.2" fill="#000"/>
<rect x="192.01" y="142.05" width="2.2" height="2.2" fill="#000"/>
<rect x="195.34" y="147.77" width="2.2" height="2.2" fill="#000"/>
<rect x="189.79" y="149.48" width="2.2" height="2.2" fill="#000"/>
<rect x="190.9" y="151.01" width="2.2" height="2.2" fill="#000"/>
<rect x="192.01" y="151.96" width="2.2" height="2.2" fill="#000"/>
<g clip-path="url(#cp12)">
<rect x="224.7" y="91.72" width="80.73" height="69.72" fill="#ffffff"/>
<g filter="url(#blur)">
<path fill="#fff6f3" d="M221.4 90.6h31.9v6.4h-31.9zM221.4 96.4h31.9v4.4h-31.9zM221.4 100.2h31.9v4.4h-31.9zM221.4 104.0h31.9v4.4h-31.9zM221.4 107.8h17.7v4.4h-17.7zM221.4 111.6h17.7v4.4h-17.7zM221.4 115.4h14.2v4.4h-14.2zM221.4 119.2h14.2v4.4h-14.2zM221.4 123.0h14.2v4.4h-14.2zM221.4 126.8h17.7v4.4h-17.7zM221.4 130.7h17.7v4.4h-17.7zM221.4 134.5h21.3v4.4h-21.3zM221.4 138.3h21.3v4.4h-21.3zM221.4 142.1h24.8v4.4h-24.8zM221.4 145.9h28.3v4.4h-28.3zM221.4 149.7h31.9v4.4h-31.9zM221.4 153.5h31.9v4.4h-31.9z"/>
<path fill="#ebe8ff" d="M252.7 90.6h11.2v6.4h-11.2zM252.7 96.4h4.1v4.4h-4.1zM263.3 96.4h4.1v4.4h-4.1zM252.7 100.2h4.1v4.4h-4.1zM263.3 100.2h4.1v4.4h-4.1zM252.7 104.0h11.2v4.4h-11.2zM252.7 107.8h11.2v4.4h-11.2zM252.7 111.6h11.2v4.4h-11.2zM242.1 119.2h21.8v4.4h-21.8zM242.1 123.0h4.1v4.4h-4.1zM256.2 123.0h7.7v4.4h-7.7zM242.1 126.8h4.1v4.4h-4.1zM259.7 126.8h4.1v4.4h-4.1zM245.6 130.7h4.1v4.4h-4.1zM259.7 130.7h4.1v4.4h-4.1zM249.1 134.5h4.1v4.4h-4.1zM256.2 134.5h7.7v4.4h-7.7zM252.7 138.3h7.7v4.4h-7.7zM270.3 138.3h7.7v4.4h-7.7zM266.8 142.1h11.2v4.4h-11.2zM266.8 145.9h14.7v4.4h-14.7zM270.3 149.7h7.7v4.4h-7.7z"/>
<path fill="#f5f3ff" d="M263.3 90.6h7.7v6.4h-7.7zM266.8 96.4h7.7v4.4h-7.7zM266.8 100.2h7.7v4.4h-7.7zM284.5 100.2h22.8v4.4h-22.8zM263.3 104.0h4.1v4.4h-4.1zM263.3 107.8h4.1v4.4h-4.1zM263.3 111.6h4.1v4.4h-4.1zM252.7 115.4h11.2v4.4h-11.2zM263.3 119.2h4.1v4.4h-4.1zM263.3 123.0h4.1v4.4h-4.1zM263.3 126.8h4.1v4.4h-4.1zM263.3 130.7h4.1v4.4h-4.1zM245.6 134.5h4.1v4.4h-4.1zM263.3 134.5h11.2v4.4h-11.2zM249.1 138.3h4.1v4.4h-4.1zM259.7 138.3h11.2v4.4h-11.2zM277.4 138.3h4.1v4.4h-4.1zM252.7 142.1h14.7v4.4h-14.7zM277.4 142.1h7.7v4.4h-7.7zM256.2 145.9h11.2v4.4h-11.2zM280.9 145.9h4.1v4.4h-4.1zM259.7 149.7h11.2v4.4h-11.2zM277.4 149.7h7.7v4.4h-7.7zM263.3 153.5h21.8v4.4h-21.8z"/>
<path fill="#faf9ff" d="M270.3 90.6h36.9v6.4h-36.9zM273.9 96.4h33.4v4.4h-33.4zM273.9 100.2h11.2v4.4h-11.2zM266.8 104.0h7.7v4.4h-7.7zM284.5 104.0h22.8v4.4h-22.8zM266.8 107.8h4.1v4.4h-4.1zM249.1 111.6h4.1v4.4h-4.1zM266.8 111.6h4.1v4.4h-4.1zM249.1 115.4h4.1v4.4h-4.1zM263.3 115.4h7.7v4.4h-7.7zM266.8 119.2h4.1v4.4h-4.1zM266.8 123.0h7.7v4.4h-7.7zM266.8 126.8h7.7v4.4h-7.7zM266.8 130.7h11.2v4.4h-11.2zM273.9 134.5h4.1v4.4h-4.1z"/>
<path fill="#e1dcff" d="M256.2 96.4h7.7v4.4h-7.7zM256.2 100.2h7.7v4.4h-7.7zM245.6 123.0h11.2v4.4h-11.2zM245.6 126.8h14.7v4.4h-14.7zM249.1 130.7h11.2v4.4h-11.2zM252.7 134.5h4.1v4.4h-4.1z"/>
<path fill="#ffffff" d="M273.9 104.0h11.2v4.4h-11.2zM249.1 107.8h4.1v4.4h-4.1zM270.3 107.8h36.9v4.4h-36.9zM242.1 111.6h7.7v4.4h-7.7zM270.3 111.6h36.9v4.4h-36.9zM238.5 115.4h11.2v4.4h-11.2zM270.3 115.4h36.9v4.4h-36.9zM235.0 119.2h7.7v4.4h-7.7zM270.3 119.2h36.9v4.4h-36.9zM235.0 123.0h7.7v4.4h-7.7zM273.9 123.0h33.4v4.4h-33.4zM238.5 126.8h4.1v4.4h-4.1zM273.9 126.8h33.4v4.4h-33.4zM238.5 130.7h7.7v4.4h-7.7zM277.4 130.7h29.9v4.4h-29.9zM242.1 134.5h4.1v4.4h-4.1zM277.4 134.5h29.9v4.4h-29.9zM242.1 138.3h7.7v4.4h-7.7zM280.9 138.3h26.3v4.4h-26.3zM245.6 142.1h7.7v4.4h-7.7zM284.5 142.1h22.8v4.4h-22.8zM249.1 145.9h7.7v4.4h-7.7zM284.5 145.9h22.8v4.4h-22.8zM252.7 149.7h7.7v4.4h-7.7zM284.5 149.7h22.8v4.4h-22.8zM252.7 153.5h11.2v4.4h-11.2zM284.5 153.5h22.8v4.4h-22.8zM221.4 157.3h85.9v6.4h-85.9z"/>
<path fill="#fffaf9" d="M238.5 107.8h11.2v4.4h-11.2zM238.5 111.6h4.1v4.4h-4.1zM235.0 115.4h4.1v4.4h-4.1z"/>
</g>
</g>
<path d="M232.65 92.86 L252.82 92.86 L252.82 102.69 L253.25 104.29 L245.97 104.29 L244.84 104.56 L243.78 104.59 L241.66 105.36 L240.07 105.28 L238.13 105.74 L237.07 105.36 L235.65 105.62 L234.42 106 L232.58 105.74 L232.47 104.86 L232.12 103.91 L231.06 103.64 L230 103.34 L228.23 103.3 L227.95 102 L227.88 100.86 L227.53 99.72 L226.82 98.19 L225.94 96.67 L225.65 95.22 L227.88 95.91 L231.06 96.21 L232.65 96.1 L232.65 92.86ZM228.23 103.3 L228.23 103.3 L230 103.34 L231.06 103.64 L232.12 103.91 L232.47 104.86 L232.58 105.74 L234.42 106 L235.65 105.62 L237.07 105.36 L238.13 105.74 L240.07 105.28 L241.66 105.36 L243.78 104.59 L244.84 104.56 L245.97 104.29 L253.25 104.29 L253.81 104.98 L254.84 105.81 L254.55 106.35 L254.06 107.07 L253.49 108.1 L253.35 108.71 L252.61 110 L252.15 110.77 L252.79 111.03 L253.14 111.72 L252.86 112.67 L252.86 119.53 L227.49 119.53 L226.82 118.01 L226.29 116.48 L226.82 114.58 L227.53 113.43 L227.88 111.91 L228.06 109.24 L228.41 106.19 L228.48 104.29 L228.23 103.3ZM227.49 119.53 L242.36 119.53 L242.36 130.96 L261.34 146.2 L261.55 146.96 L262.33 148.3 L263.1 148.98 L262.04 149.71 L261.69 150.39 L261.8 151.53 L261.02 152.3 L261.09 153.63 L261.9 154.39 L261.02 154.89 L252.54 155.61 L252.08 154.2 L251.2 152.3 L249.43 151.15 L248.02 150.96 L247.66 149.9 L246.6 150.01 L245.19 149.44 L243.78 148.49 L240.78 148.3 L240.07 147.72 L240.25 145.82 L239.19 144.49 L237.77 143.53 L235.65 141.25 L235.48 140.1 L236.01 139.34 L235.3 138.77 L233.89 137.82 L233.53 136.29 L233.53 135.53 L231.77 134.77 L231.77 133.63 L229.29 131.34 L228.94 129.06 L228.76 127.53 L227 126.01 L226.82 125.44 L227.88 123.34 L227.53 120.67 L227.49 119.53ZM242.36 119.53 L263.42 119.53 L263.42 141.67 L262.26 141.89 L260.95 142.43 L261.23 144.29 L261.55 145.63 L261.34 146.2 L242.36 130.96ZM252.82 92.86 L256.32 92.86 L256.32 96.75 L257.38 98.38 L257.59 98.88 L258.97 99.53 L260.24 100.75 L261.62 101.81 L262.4 101.78 L261.9 103.72 L262.15 104.79 L261.58 105.17 L261.8 105.97 L263.56 105.51 L264.27 105.81 L265.51 107.87 L267.1 110 L267.8 110.2 L269.39 109.81 L272.5 109.81 L273.99 110.08 L273.99 119.53 L252.86 119.53 L252.86 112.67 L253.14 111.72 L252.79 111.03 L252.15 110.77 L252.61 110 L253.35 108.71 L253.49 108.1 L254.06 107.07 L254.55 106.35 L254.84 105.81 L253.81 104.98 L253.25 104.29 L252.82 102.69ZM256.32 92.86 L298.72 92.86 L298.72 108.1 L273.99 108.1 L273.99 110.08 L272.5 109.81 L269.39 109.81 L267.8 110.2 L267.1 110 L265.51 107.87 L264.27 105.81 L263.56 105.51 L261.8 105.97 L261.58 105.17 L262.15 104.79 L261.9 103.72 L262.4 101.78 L261.62 101.81 L260.24 100.75 L258.97 99.53 L257.59 98.88 L257.38 98.38 L256.32 96.75 L256.32 92.86ZM273.99 108.1 L298.72 108.1 L298.72 123.34 L273.99 123.34ZM263.42 119.53 L273.99 119.53 L273.99 123.34 L281.05 123.34 L281.05 138.58 L263.42 138.58ZM281.05 123.34 L305.78 123.34 L305.78 138.58 L281.05 138.58ZM263.42 138.58 L281.05 138.58 L281.05 160.18 L273.91 160.18 L260.7 155.76 L261.02 154.89 L261.9 154.39 L261.09 153.63 L261.02 152.3 L261.8 151.53 L261.69 150.39 L262.04 149.71 L263.1 148.98 L262.33 148.3 L261.55 146.96 L261.34 146.2 L261.55 145.63 L261.23 144.29 L260.95 142.43 L262.26 141.89 L263.39 141.67ZM281.05 138.58 L302.43 138.58 L302.28 140.48 L302.28 157.63 L289.64 157.63 L289.95 158.47 L284.02 158.47 L284.02 160.18 L281.05 160.18Z" fill="none" stroke="#505050" stroke-width="1" stroke-linejoin="round"/>
<path d="M232.3 92.86 L233.89 92.86 L234.59 95.15 L234.77 97.43 L234.24 100.1 L232.47 100.48 L231.24 98.96 L231.41 97.05 L232.12 95.53Z" fill="#111"/>
<path d="M233.71 134.39 L234.77 134.2 L235.3 135.15 L234.95 136.87 L234.24 136.87 L233.89 135.53Z" fill="#222"/>
<path d="M224.7 89.17 V164.44 M233.53 89.17 V92.17 M233.53 161.44 V164.44 M242.36 89.17 V92.17 M242.36 161.44 V164.44 M251.2 89.17 V92.17 M251.2 161.44 V164.44 M260.03 89.17 V92.17 M260.03 161.44 V164.44 M268.86 89.17 V92.17 M268.86 161.44 V164.44 M277.69 89.17 V92.17 M277.69 161.44 V164.44 M286.53 89.17 V92.17 M286.53 161.44 V164.44 M295.36 89.17 V92.17 M295.36 161.44 V164.44 M304.19 89.17 V92.17 M304.19 161.44 V164.44 M221.7 155.72 H224.7 M305.43 155.72 H308.93 M221.7 146.2 H224.7 M305.43 146.2 H308.93 M221.7 136.67 H224.7 M305.43 136.67 H308.93 M221.7 127.15 H224.7 M305.43 127.15 H308.93 M221.7 117.62 H224.7 M305.43 117.62 H308.93 M221.7 108.1 H224.7 M305.43 108.1 H308.93 M221.7 98.57 H224.7 M305.43 98.57 H308.93" stroke="#cfcfcf" stroke-width="0.8" fill="none"/>
<rect x="235.4" y="108.71" width="2.2" height="2.2" fill="#000"/>
<rect x="234.3" y="111.57" width="2.2" height="2.2" fill="#000"/>
<rect x="237.1" y="111.57" width="2.2" height="2.2" fill="#000"/>
<rect x="232.43" y="114.05" width="2.2" height="2.2" fill="#000"/>
<rect x="237.8" y="114.66" width="2.2" height="2.2" fill="#000"/>
<rect x="246.32" y="107.11" width="2.2" height="2.2" fill="#000"/>
<rect x="246.56" y="109.02" width="2.2" height="2.2" fill="#000"/>
<rect x="245.72" y="114.05" width="2.2" height="2.2" fill="#000"/>
<rect x="245.5" y="117.9" width="2.2" height="2.2" fill="#000"/>
<rect x="243.6" y="119.31" width="2.2" height="2.2" fill="#000"/>
<rect x="242.18" y="120.72" width="2.2" height="2.2" fill="#000"/>
<rect x="238.01" y="123.04" width="2.2" height="2.2" fill="#000"/>
<rect x="239" y="124.72" width="2.2" height="2.2" fill="#000"/>
<rect x="251.62" y="120.22" width="2.2" height="2.2" fill="#000"/>
<rect x="254.09" y="112.91" width="2.2" height="2.2" fill="#000"/>
<rect x="231.66" y="128.87" width="2.2" height="2.2" fill="#000"/>
<rect x="237.56" y="131.12" width="2.2" height="2.2" fill="#000"/>
<rect x="232.89" y="132.53" width="2.2" height="2.2" fill="#000"/>
<rect x="234.73" y="134.89" width="2.2" height="2.2" fill="#000"/>
<rect x="241.79" y="133.86" width="2.2" height="2.2" fill="#000"/>
<rect x="242.22" y="135.31" width="2.2" height="2.2" fill="#000"/>
<rect x="239" y="138.89" width="2.2" height="2.2" fill="#000"/>
<rect x="245.05" y="139.08" width="2.2" height="2.2" fill="#000"/>
<rect x="246" y="141.37" width="2.2" height="2.2" fill="#000"/>
<rect x="236.67" y="141.37" width="2.2" height="2.2" fill="#000"/>
<rect x="241.79" y="144.91" width="2.2" height="2.2" fill="#000"/>
<rect x="246" y="145.25" width="2.2" height="2.2" fill="#000"/>
<rect x="248.79" y="147" width="2.2" height="2.2" fill="#000"/>
<rect x="245.15" y="146.62" width="2.2" height="2.2" fill="#000"/>
<rect x="249.04" y="148.15" width="2.2" height="2.2" fill="#000"/>
<rect x="252.22" y="150.43" width="2.2" height="2.2" fill="#000"/>
<rect x="252.22" y="152.72" width="2.2" height="2.2" fill="#000"/>
<rect x="256.46" y="139.38" width="2.2" height="2.2" fill="#000"/>
<rect x="262.99" y="137.86" width="2.2" height="2.2" fill="#000"/>
<rect x="274.02" y="99.61" width="2.2" height="2.2" fill="#000"/>
<rect x="260.41" y="104.71" width="2.2" height="2.2" fill="#000"/>
<rect x="260.41" y="108.3" width="2.2" height="2.2" fill="#000"/>
<rect x="275.18" y="106.81" width="2.2" height="2.2" fill="#000"/>
<rect x="278.01" y="105.86" width="2.2" height="2.2" fill="#000"/>
<rect x="269" y="114.62" width="2.2" height="2.2" fill="#000"/>
<rect x="263.17" y="118.62" width="2.2" height="2.2" fill="#000"/>
<rect x="261.9" y="133.48" width="2.2" height="2.2" fill="#000"/>
<rect x="263.52" y="134.43" width="2.2" height="2.2" fill="#000"/>
<rect x="268.19" y="139" width="2.2" height="2.2" fill="#000"/>
<rect x="256.1" y="141.29" width="2.2" height="2.2" fill="#000"/>
<rect x="270.48" y="142.81" width="2.2" height="2.2" fill="#000"/>
<rect x="275.18" y="147" width="2.2" height="2.2" fill="#000"/>
<rect x="281.79" y="136.91" width="2.2" height="2.2" fill="#000"/>
<rect x="292.14" y="138.24" width="2.2" height="2.2" fill="#000"/>
<rect x="288.96" y="142.05" width="2.2" height="2.2" fill="#000"/>
<rect x="292.14" y="147.77" width="2.2" height="2.2" fill="#000"/>
<rect x="286.84" y="149.48" width="2.2" height="2.2" fill="#000"/>
<rect x="287.9" y="151.01" width="2.2" height="2.2" fill="#000"/>
<rect x="288.96" y="151.96" width="2.2" height="2.2" fill="#000"/>
<g clip-path="url(#cp20)">
<rect x="27" y="170.4" width="81.85" height="70.64" fill="#c4cbb4"/>
<g filter="url(#blur)">
<path fill="#faab32" d="M23.7 169.3h7.2v6.5h-7.2zM58.9 169.3h4.2v6.5h-4.2zM58.9 175.1h7.8v4.5h-7.8zM62.5 179.0h4.2v4.5h-4.2zM62.5 182.8h4.2v4.5h-4.2zM58.9 186.7h4.2v4.5h-4.2zM23.7 198.3h10.8v4.5h-10.8zM23.7 202.1h10.8v4.5h-10.8zM23.7 206.0h10.8v4.5h-10.8zM23.7 209.9h7.2v4.5h-7.2zM23.7 213.7h10.8v4.5h-10.8zM23.7 217.6h14.3v4.5h-14.3zM23.7 221.4h17.9v4.5h-17.9zM23.7 225.3h21.5v4.5h-21.5zM23.7 229.2h35.8v4.5h-35.8zM23.7 233.0h32.3v4.5h-32.3z"/>
<path fill="#f4b258" d="M30.3 169.3h11.3v6.5h-11.3zM55.4 169.3h4.2v6.5h-4.2zM62.5 169.3h4.2v6.5h-4.2zM23.7 175.1h14.3v4.5h-14.3zM55.4 175.1h4.2v4.5h-4.2zM23.7 179.0h10.8v4.5h-10.8zM23.7 182.8h7.2v4.5h-7.2zM23.7 186.7h7.2v4.5h-7.2zM55.4 186.7h4.2v4.5h-4.2zM62.5 186.7h4.2v4.5h-4.2zM23.7 190.6h7.2v4.5h-7.2zM23.7 194.4h7.2v4.5h-7.2zM33.9 198.3h4.2v4.5h-4.2zM33.9 202.1h4.2v4.5h-4.2zM41.0 206.0h4.2v4.5h-4.2zM30.3 209.9h4.2v4.5h-4.2zM44.6 209.9h4.2v4.5h-4.2zM33.9 213.7h4.2v4.5h-4.2zM44.6 213.7h4.2v4.5h-4.2zM48.2 217.6h4.2v4.5h-4.2zM48.2 221.4h4.2v4.5h-4.2zM44.6 225.3h7.8v4.5h-7.8zM55.4 233.0h4.2v4.5h-4.2z"/>
<path fill="#ecba76" d="M41.0 169.3h4.2v6.5h-4.2zM66.1 169.3h4.2v6.5h-4.2zM37.4 175.1h4.2v4.5h-4.2zM66.1 175.1h4.2v4.5h-4.2zM33.9 179.0h4.2v4.5h-4.2zM55.4 179.0h4.2v4.5h-4.2zM66.1 179.0h4.2v4.5h-4.2zM30.3 182.8h4.2v4.5h-4.2zM55.4 182.8h4.2v4.5h-4.2zM66.1 182.8h4.2v4.5h-4.2zM37.4 186.7h4.2v4.5h-4.2zM73.3 186.7h4.2v4.5h-4.2zM37.4 190.6h4.2v4.5h-4.2zM55.4 190.6h7.8v4.5h-7.8zM73.3 190.6h4.2v4.5h-4.2zM30.3 194.4h4.2v4.5h-4.2zM37.4 198.3h7.8v4.5h-7.8zM37.4 202.1h7.8v4.5h-7.8zM33.9 206.0h4.2v4.5h-4.2zM44.6 206.0h4.2v4.5h-4.2zM87.6 206.0h7.8v4.5h-7.8zM33.9 209.9h4.2v4.5h-4.2zM41.0 209.9h4.2v4.5h-4.2zM87.6 209.9h7.8v4.5h-7.8zM48.2 213.7h4.2v4.5h-4.2zM37.4 217.6h4.2v4.5h-4.2zM44.6 217.6h4.2v4.5h-4.2zM41.0 221.4h4.2v4.5h-4.2zM51.8 221.4h4.2v4.5h-4.2zM51.8 225.3h4.2v4.5h-4.2zM58.9 229.2h4.2v4.5h-4.2zM58.9 233.0h4.2v4.5h-4.2z"/>
<path fill="#e2c296" d="M44.6 169.3h11.3v6.5h-11.3zM69.7 175.1h4.2v4.5h-4.2zM37.4 179.0h4.2v4.5h-4.2zM69.7 179.0h4.2v4.5h-4.2zM37.4 182.8h4.2v4.5h-4.2zM51.8 182.8h4.2v4.5h-4.2zM69.7 182.8h4.2v4.5h-4.2zM30.3 186.7h4.2v4.5h-4.2zM66.1 186.7h7.8v4.5h-7.8zM30.3 190.6h4.2v4.5h-4.2zM33.9 194.4h7.8v4.5h-7.8zM55.4 194.4h4.2v4.5h-4.2zM44.6 198.3h14.9v4.5h-14.9zM44.6 202.1h14.9v4.5h-14.9zM73.3 202.1h4.2v4.5h-4.2zM87.6 202.1h7.8v4.5h-7.8zM48.2 206.0h18.5v4.5h-18.5zM84.0 206.0h4.2v4.5h-4.2zM94.8 206.0h4.2v4.5h-4.2zM48.2 209.9h18.5v4.5h-18.5zM84.0 209.9h4.2v4.5h-4.2zM94.8 209.9h4.2v4.5h-4.2zM51.8 213.7h11.3v4.5h-11.3zM87.6 213.7h7.8v4.5h-7.8zM51.8 217.6h11.3v4.5h-11.3zM55.4 221.4h7.8v4.5h-7.8zM55.4 225.3h11.3v4.5h-11.3zM62.5 229.2h4.2v4.5h-4.2zM62.5 233.0h4.2v4.5h-4.2z"/>
<path fill="#d7cdb6" d="M69.7 169.3h4.2v6.5h-4.2zM41.0 175.1h4.2v4.5h-4.2zM48.2 175.1h7.8v4.5h-7.8zM73.3 175.1h4.2v4.5h-4.2zM41.0 179.0h4.2v4.5h-4.2zM51.8 179.0h4.2v4.5h-4.2zM73.3 179.0h4.2v4.5h-4.2zM33.9 182.8h4.2v4.5h-4.2zM41.0 182.8h4.2v4.5h-4.2zM48.2 182.8h4.2v4.5h-4.2zM73.3 182.8h4.2v4.5h-4.2zM33.9 186.7h4.2v4.5h-4.2zM41.0 186.7h4.2v4.5h-4.2zM48.2 186.7h7.8v4.5h-7.8zM76.8 186.7h4.2v4.5h-4.2zM33.9 190.6h4.2v4.5h-4.2zM41.0 190.6h4.2v4.5h-4.2zM48.2 190.6h7.8v4.5h-7.8zM62.5 190.6h11.3v4.5h-11.3zM76.8 190.6h4.2v4.5h-4.2zM41.0 194.4h14.9v4.5h-14.9zM58.9 194.4h22.1v4.5h-22.1zM58.9 198.3h22.1v4.5h-22.1zM58.9 202.1h14.9v4.5h-14.9zM76.8 202.1h11.3v4.5h-11.3zM94.8 202.1h7.8v4.5h-7.8zM37.4 206.0h4.2v4.5h-4.2zM66.1 206.0h18.5v4.5h-18.5zM98.3 206.0h4.2v4.5h-4.2zM66.1 209.9h18.5v4.5h-18.5zM98.3 209.9h4.2v4.5h-4.2zM41.0 213.7h4.2v4.5h-4.2zM62.5 213.7h25.7v4.5h-25.7zM94.8 213.7h7.8v4.5h-7.8zM62.5 217.6h18.5v4.5h-18.5zM84.0 217.6h14.9v4.5h-14.9zM44.6 221.4h4.2v4.5h-4.2zM62.5 221.4h18.5v4.5h-18.5zM87.6 221.4h7.8v4.5h-7.8zM66.1 225.3h11.3v4.5h-11.3zM66.1 229.2h11.3v4.5h-11.3zM66.1 233.0h7.8v4.5h-7.8z"/>
<path fill="#cad3cf" d="M73.3 169.3h37.4v6.5h-37.4zM44.6 175.1h4.2v4.5h-4.2zM76.8 175.1h33.8v4.5h-33.8zM44.6 179.0h7.8v4.5h-7.8zM76.8 179.0h33.8v4.5h-33.8zM44.6 182.8h4.2v4.5h-4.2zM76.8 182.8h33.8v4.5h-33.8zM44.6 186.7h4.2v4.5h-4.2zM80.4 186.7h30.3v4.5h-30.3zM44.6 190.6h4.2v4.5h-4.2zM80.4 190.6h30.3v4.5h-30.3zM80.4 194.4h30.3v4.5h-30.3zM80.4 198.3h30.3v4.5h-30.3zM101.9 202.1h8.8v4.5h-8.8zM101.9 206.0h8.8v4.5h-8.8zM37.4 209.9h4.2v4.5h-4.2zM101.9 209.9h8.8v4.5h-8.8zM37.4 213.7h4.2v4.5h-4.2zM101.9 213.7h8.8v4.5h-8.8zM41.0 217.6h4.2v4.5h-4.2zM80.4 217.6h4.2v4.5h-4.2zM98.3 217.6h12.3v4.5h-12.3zM80.4 221.4h7.8v4.5h-7.8zM94.8 221.4h15.9v4.5h-15.9zM76.8 225.3h33.8v4.5h-33.8zM76.8 229.2h33.8v4.5h-33.8zM73.3 233.0h37.4v4.5h-37.4zM23.7 236.9h87.0v6.5h-87.0z"/>
<path fill="#ffa50a" d="M58.9 179.0h4.2v4.5h-4.2zM58.9 182.8h4.2v4.5h-4.2z"/>
</g>
</g>
<path d="M35.06 171.56 L55.51 171.56 L55.51 181.52 L55.94 183.14 L48.56 183.14 L47.42 183.41 L46.34 183.45 L44.19 184.22 L42.58 184.14 L40.61 184.61 L39.54 184.22 L38.1 184.49 L36.85 184.88 L34.99 184.61 L34.88 183.72 L34.52 182.75 L33.45 182.48 L32.37 182.18 L30.58 182.14 L30.3 180.82 L30.22 179.67 L29.87 178.51 L29.15 176.96 L28.25 175.42 L27.97 173.95 L30.22 174.65 L33.45 174.96 L35.06 174.84 L35.06 171.56ZM30.58 182.14 L30.58 182.14 L32.37 182.18 L33.45 182.48 L34.52 182.75 L34.88 183.72 L34.99 184.61 L36.85 184.88 L38.1 184.49 L39.54 184.22 L40.61 184.61 L42.58 184.14 L44.19 184.22 L46.34 183.45 L47.42 183.41 L48.56 183.14 L55.94 183.14 L56.52 183.83 L57.55 184.68 L57.27 185.22 L56.77 185.96 L56.19 187 L56.05 187.62 L55.3 188.93 L54.83 189.7 L55.48 189.97 L55.84 190.67 L55.55 191.63 L55.55 198.58 L29.83 198.58 L29.15 197.04 L28.61 195.49 L29.15 193.56 L29.87 192.4 L30.22 190.86 L30.4 188.16 L30.76 185.07 L30.83 183.14 L30.58 182.14ZM29.83 198.58 L44.91 198.58 L44.91 210.16 L64.15 225.6 L64.36 226.37 L65.15 227.72 L65.94 228.42 L64.86 229.15 L64.5 229.85 L64.61 231 L63.82 231.78 L63.89 233.13 L64.72 233.9 L63.82 234.4 L55.23 235.13 L54.76 233.71 L53.86 231.78 L52.07 230.62 L50.64 230.43 L50.28 229.34 L49.21 229.46 L47.78 228.88 L46.34 227.92 L43.3 227.72 L42.58 227.14 L42.76 225.21 L41.69 223.86 L40.25 222.9 L38.1 220.58 L37.93 219.42 L38.46 218.65 L37.75 218.07 L36.31 217.11 L35.95 215.56 L35.95 214.79 L34.16 214.02 L34.16 212.86 L31.66 210.55 L31.3 208.23 L31.12 206.69 L29.33 205.14 L29.15 204.56 L30.22 202.44 L29.87 199.74 L29.83 198.58ZM44.91 198.58 L66.26 198.58 L66.26 221.01 L65.08 221.24 L63.75 221.78 L64.04 223.67 L64.36 225.02 L64.15 225.6 L44.91 210.16ZM55.51 171.56 L59.06 171.56 L59.06 175.5 L60.13 177.16 L60.35 177.66 L61.75 178.31 L63.03 179.55 L64.43 180.63 L65.22 180.59 L64.72 182.56 L64.97 183.64 L64.4 184.03 L64.61 184.84 L66.4 184.38 L67.12 184.68 L68.37 186.77 L69.98 188.93 L70.7 189.12 L72.31 188.74 L75.46 188.74 L76.97 189.01 L76.97 198.58 L55.55 198.58 L55.55 191.63 L55.84 190.67 L55.48 189.97 L54.83 189.7 L55.3 188.93 L56.05 187.62 L56.19 187 L56.77 185.96 L57.27 185.22 L57.55 184.68 L56.52 183.83 L55.94 183.14 L55.51 181.52ZM59.06 171.56 L102.04 171.56 L102.04 187 L76.97 187 L76.97 189.01 L75.46 188.74 L72.31 188.74 L70.7 189.12 L69.98 188.93 L68.37 186.77 L67.12 184.68 L66.4 184.38 L64.61 184.84 L64.4 184.03 L64.97 183.64 L64.72 182.56 L65.22 180.59 L64.43 180.63 L63.03 179.55 L61.75 178.31 L60.35 177.66 L60.13 177.16 L59.06 175.5 L59.06 171.56ZM76.97 187 L102.04 187 L102.04 202.44 L76.97 202.44ZM66.26 198.58 L76.97 198.58 L76.97 202.44 L84.13 202.44 L84.13 217.88 L66.26 217.88ZM84.13 202.44 L109.21 202.44 L109.21 217.88 L84.13 217.88ZM66.26 217.88 L84.13 217.88 L84.13 239.77 L76.9 239.77 L63.5 235.29 L63.82 234.4 L64.72 233.9 L63.89 233.13 L63.82 231.78 L64.61 231 L64.5 229.85 L64.86 229.15 L65.94 228.42 L65.15 227.72 L64.36 226.37 L64.15 225.6 L64.36 225.02 L64.04 223.67 L63.75 221.78 L65.08 221.24 L66.22 221.01ZM84.13 217.88 L105.8 217.88 L105.66 219.81 L105.66 237.18 L92.84 237.18 L93.16 238.03 L87.14 238.03 L87.14 239.77 L84.13 239.77Z" fill="none" stroke="#505050" stroke-width="1" stroke-linejoin="round"/>
<path d="M34.7 171.56 L36.31 171.56 L37.03 173.88 L37.21 176.19 L36.67 178.89 L34.88 179.28 L33.63 177.74 L33.81 175.81 L34.52 174.26Z" fill="#111"/>
<path d="M36.13 213.63 L37.21 213.44 L37.75 214.41 L37.39 216.14 L36.67 216.14 L36.31 214.79Z" fill="#222"/>
<ellipse cx="88.61" cy="188.16" rx="2.61" ry="1.62" fill="#f4f6f6"/>
<ellipse cx="71.6" cy="201.86" rx="1.25" ry="1.74" fill="#f4f6f6"/>
<ellipse cx="105.8" cy="230.23" rx="2.15" ry="2.9" fill="#f4f6f6"/>
<path d="M27 167.87 V244.04 M35.95 167.87 V170.87 M35.95 241.04 V244.04 M44.91 167.87 V170.87 M44.91 241.04 V244.04 M53.86 167.87 V170.87 M53.86 241.04 V244.04 M62.82 167.87 V170.87 M62.82 241.04 V244.04 M71.78 167.87 V170.87 M71.78 241.04 V244.04 M80.73 167.87 V170.87 M80.73 241.04 V244.04 M89.69 167.87 V170.87 M89.69 241.04 V244.04 M98.64 167.87 V170.87 M98.64 241.04 V244.04 M107.59 167.87 V170.87 M107.59 241.04 V244.04 M24 235.25 H27 M108.85 235.25 H112.35 M24 225.6 H27 M108.85 225.6 H112.35 M24 215.95 H27 M108.85 215.95 H112.35 M24 206.3 H27 M108.85 206.3 H112.35 M24 196.65 H27 M108.85 196.65 H112.35 M24 187 H27 M108.85 187 H112.35 M24 177.35 H27 M108.85 177.35 H112.35" stroke="#cfcfcf" stroke-width="0.8" fill="none"/>
<rect x="52.48" y="192.31" width="2.2" height="2.2" fill="#000"/>
<rect x="49.9" y="194.08" width="2.2" height="2.2" fill="#000"/>
<rect x="48.47" y="195.16" width="2.2" height="2.2" fill="#000"/>
<rect x="47.57" y="199.6" width="2.2" height="2.2" fill="#000"/>
<rect x="51.51" y="199.6" width="2.2" height="2.2" fill="#000"/>
<rect x="48" y="217.78" width="2.2" height="2.2" fill="#000"/>
<rect x="48.57" y="220.52" width="2.2" height="2.2" fill="#000"/>
<rect x="50.97" y="222.57" width="2.2" height="2.2" fill="#000"/>
<rect x="48.57" y="222.96" width="2.2" height="2.2" fill="#000"/>
<rect x="42.34" y="225.27" width="2.2" height="2.2" fill="#000"/>
<rect x="52.76" y="226.82" width="2.2" height="2.2" fill="#000"/>
<rect x="53.7" y="227.78" width="2.2" height="2.2" fill="#000"/>
<rect x="53.7" y="231.06" width="2.2" height="2.2" fill="#000"/>
<rect x="59.46" y="221.18" width="2.2" height="2.2" fill="#000"/>
<rect x="65.12" y="215.51" width="2.2" height="2.2" fill="#000"/>
<g clip-path="url(#cp21)">
<rect x="124.7" y="170.4" width="84.5" height="70.64" fill="#ffffff"/>
<g filter="url(#blur)">
<path fill="#ffded2" d="M121.4 169.3h18.4v6.5h-18.4zM121.4 175.1h18.4v4.5h-18.4zM131.8 179.0h8.0v4.5h-8.0zM135.5 182.8h19.1v4.5h-19.1zM139.2 186.7h15.4v4.5h-15.4zM150.3 190.6h8.0v4.5h-8.0zM154.0 194.4h8.0v4.5h-8.0zM157.7 198.3h11.7v4.5h-11.7zM139.2 202.1h4.3v4.5h-4.3zM157.7 202.1h15.4v4.5h-15.4zM135.5 206.0h8.0v4.5h-8.0zM157.7 206.0h15.4v4.5h-15.4zM135.5 209.9h8.0v4.5h-8.0zM157.7 209.9h15.4v4.5h-15.4zM139.2 213.7h8.0v4.5h-8.0zM157.7 213.7h19.1v4.5h-19.1zM139.2 217.6h8.0v4.5h-8.0zM161.4 217.6h19.1v4.5h-19.1zM161.4 221.4h19.1v4.5h-19.1zM161.4 225.3h22.8v4.5h-22.8zM165.1 229.2h19.1v4.5h-19.1zM165.1 233.0h19.1v4.5h-19.1zM121.4 236.9h62.8v6.5h-62.8z"/>
<path fill="#ffe6dd" d="M139.2 169.3h33.9v6.5h-33.9zM139.2 175.1h33.9v4.5h-33.9zM139.2 179.0h33.9v4.5h-33.9zM154.0 182.8h15.4v4.5h-15.4zM154.0 186.7h15.4v4.5h-15.4zM157.7 190.6h15.4v4.5h-15.4zM161.4 194.4h15.4v4.5h-15.4zM168.8 198.3h11.7v4.5h-11.7zM172.5 202.1h8.0v4.5h-8.0zM172.5 206.0h11.7v4.5h-11.7zM172.5 209.9h11.7v4.5h-11.7zM176.2 213.7h11.7v4.5h-11.7zM179.9 217.6h22.8v4.5h-22.8zM179.9 221.4h22.8v4.5h-22.8zM183.6 225.3h19.1v4.5h-19.1zM183.6 229.2h19.1v4.5h-19.1zM183.6 233.0h19.1v4.5h-19.1zM183.6 236.9h19.1v6.5h-19.1z"/>
<path fill="#ffeee8" d="M172.5 169.3h38.6v6.5h-38.6zM172.5 175.1h38.6v4.5h-38.6zM172.5 179.0h38.6v4.5h-38.6zM168.8 182.8h42.3v4.5h-42.3zM168.8 186.7h42.3v4.5h-42.3zM172.5 190.6h38.6v4.5h-38.6zM176.2 194.4h34.9v4.5h-34.9zM179.9 198.3h31.2v4.5h-31.2zM179.9 202.1h31.2v4.5h-31.2zM183.6 206.0h27.5v4.5h-27.5zM183.6 209.9h27.5v4.5h-27.5zM187.3 213.7h23.8v4.5h-23.8zM202.1 217.6h9.0v4.5h-9.0zM202.1 221.4h9.0v4.5h-9.0zM202.1 225.3h9.0v4.5h-9.0zM202.1 229.2h9.0v4.5h-9.0zM202.1 233.0h9.0v4.5h-9.0zM202.1 236.9h9.0v6.5h-9.0z"/>
<path fill="#ffd4c6" d="M121.4 179.0h11.0v4.5h-11.0zM121.4 182.8h14.7v4.5h-14.7zM121.4 186.7h18.4v4.5h-18.4zM121.4 190.6h29.5v4.5h-29.5zM121.4 194.4h33.2v4.5h-33.2zM121.4 198.3h36.9v4.5h-36.9zM121.4 202.1h18.4v4.5h-18.4zM142.9 202.1h15.4v4.5h-15.4zM121.4 206.0h14.7v4.5h-14.7zM142.9 206.0h15.4v4.5h-15.4zM121.4 209.9h14.7v4.5h-14.7zM142.9 209.9h15.4v4.5h-15.4zM121.4 213.7h18.4v4.5h-18.4zM146.6 213.7h11.7v4.5h-11.7zM121.4 217.6h18.4v4.5h-18.4zM146.6 217.6h15.4v4.5h-15.4zM121.4 221.4h40.6v4.5h-40.6zM154.0 225.3h8.0v4.5h-8.0zM157.7 229.2h8.0v4.5h-8.0zM157.7 233.0h8.0v4.5h-8.0z"/>
<path fill="#ffcaba" d="M121.4 225.3h33.2v4.5h-33.2zM121.4 229.2h25.8v4.5h-25.8zM154.0 229.2h4.3v4.5h-4.3zM121.4 233.0h25.8v4.5h-25.8zM154.0 233.0h4.3v4.5h-4.3z"/>
<path fill="#ffc0ae" d="M146.6 229.2h8.0v4.5h-8.0zM146.6 233.0h8.0v4.5h-8.0z"/>
</g>
</g>
<path d="M133.02 171.56 L154.14 171.56 L154.14 181.52 L154.58 183.14 L146.96 183.14 L145.78 183.41 L144.67 183.45 L142.45 184.22 L140.79 184.14 L138.75 184.61 L137.64 184.22 L136.16 184.49 L134.87 184.88 L132.95 184.61 L132.84 183.72 L132.47 182.75 L131.36 182.48 L130.25 182.18 L128.4 182.14 L128.1 180.82 L128.03 179.67 L127.66 178.51 L126.92 176.96 L125.99 175.42 L125.7 173.95 L128.03 174.65 L131.36 174.96 L133.02 174.84 L133.02 171.56ZM128.4 182.14 L128.4 182.14 L130.25 182.18 L131.36 182.48 L132.47 182.75 L132.84 183.72 L132.95 184.61 L134.87 184.88 L136.16 184.49 L137.64 184.22 L138.75 184.61 L140.79 184.14 L142.45 184.22 L144.67 183.45 L145.78 183.41 L146.96 183.14 L154.58 183.14 L155.17 183.83 L156.24 184.68 L155.95 185.22 L155.43 185.96 L154.84 187 L154.69 187.62 L153.91 188.93 L153.43 189.7 L154.1 189.97 L154.47 190.67 L154.17 191.63 L154.17 198.58 L127.62 198.58 L126.92 197.04 L126.36 195.49 L126.92 193.56 L127.66 192.4 L128.03 190.86 L128.21 188.16 L128.58 185.07 L128.66 183.14 L128.4 182.14ZM127.62 198.58 L143.19 198.58 L143.19 210.16 L163.05 225.6 L163.27 226.37 L164.08 227.72 L164.9 228.42 L163.79 229.15 L163.42 229.85 L163.53 231 L162.72 231.78 L162.79 233.13 L163.64 233.9 L162.72 234.4 L153.84 235.13 L153.36 233.71 L152.44 231.78 L150.59 230.62 L149.11 230.43 L148.74 229.34 L147.63 229.46 L146.15 228.88 L144.67 227.92 L141.53 227.72 L140.79 227.14 L140.97 225.21 L139.86 223.86 L138.38 222.9 L136.16 220.58 L135.98 219.42 L136.53 218.65 L135.79 218.07 L134.31 217.11 L133.94 215.56 L133.94 214.79 L132.1 214.02 L132.1 212.86 L129.51 210.55 L129.14 208.23 L128.95 206.69 L127.1 205.14 L126.92 204.56 L128.03 202.44 L127.66 199.74 L127.62 198.58ZM143.19 198.58 L165.23 198.58 L165.23 221.01 L164.01 221.24 L162.64 221.78 L162.94 223.67 L163.27 225.02 L163.05 225.6 L143.19 210.16ZM154.14 171.56 L157.8 171.56 L157.8 175.5 L158.91 177.16 L159.13 177.66 L160.57 178.31 L161.9 179.55 L163.34 180.63 L164.16 180.59 L163.64 182.56 L163.9 183.64 L163.31 184.03 L163.53 184.84 L165.38 184.38 L166.12 184.68 L167.41 186.77 L169.08 188.93 L169.82 189.12 L171.48 188.74 L174.73 188.74 L176.29 189.01 L176.29 198.58 L154.17 198.58 L154.17 191.63 L154.47 190.67 L154.1 189.97 L153.43 189.7 L153.91 188.93 L154.69 187.62 L154.84 187 L155.43 185.96 L155.95 185.22 L156.24 184.68 L155.17 183.83 L154.58 183.14 L154.14 181.52ZM157.8 171.56 L202.17 171.56 L202.17 187 L176.29 187 L176.29 189.01 L174.73 188.74 L171.48 188.74 L169.82 189.12 L169.08 188.93 L167.41 186.77 L166.12 184.68 L165.38 184.38 L163.53 184.84 L163.31 184.03 L163.9 183.64 L163.64 182.56 L164.16 180.59 L163.34 180.63 L161.9 179.55 L160.57 178.31 L159.13 177.66 L158.91 177.16 L157.8 175.5 L157.8 171.56ZM176.29 187 L202.17 187 L202.17 202.44 L176.29 202.44ZM165.23 198.58 L176.29 198.58 L176.29 202.44 L183.68 202.44 L183.68 217.88 L165.23 217.88ZM183.68 202.44 L209.57 202.44 L209.57 217.88 L183.68 217.88ZM165.23 217.88 L183.68 217.88 L183.68 239.77 L176.21 239.77 L162.38 235.29 L162.72 234.4 L163.64 233.9 L162.79 233.13 L162.72 231.78 L163.53 231 L163.42 229.85 L163.79 229.15 L164.9 228.42 L164.08 227.72 L163.27 226.37 L163.05 225.6 L163.27 225.02 L162.94 223.67 L162.64 221.78 L164.01 221.24 L165.19 221.01ZM183.68 217.88 L206.06 217.88 L205.91 219.81 L205.91 237.18 L192.67 237.18 L193 238.03 L186.79 238.03 L186.79 239.77 L183.68 239.77Z" fill="none" stroke="#505050" stroke-width="1" stroke-linejoin="round"/>
<path d="M132.65 171.56 L134.31 171.56 L135.05 173.88 L135.24 176.19 L134.68 178.89 L132.84 179.28 L131.54 177.74 L131.73 175.81 L132.47 174.26Z" fill="#111"/>
<path d="M134.13 213.63 L135.24 213.44 L135.79 214.41 L135.42 216.14 L134.68 216.14 L134.31 214.79Z" fill="#222"/>
<path d="M124.7 167.87 V244.04 M133.94 167.87 V170.87 M133.94 241.04 V244.04 M143.19 167.87 V170.87 M143.19 241.04 V244.04 M152.44 167.87 V170.87 M152.44 241.04 V244.04 M161.68 167.87 V170.87 M161.68 241.04 V244.04 M170.93 167.87 V170.87 M170.93 241.04 V244.04 M180.17 167.87 V170.87 M180.17 241.04 V244.04 M189.42 167.87 V170.87 M189.42 241.04 V244.04 M198.66 167.87 V170.87 M198.66 241.04 V244.04 M207.91 167.87 V170.87 M207.91 241.04 V244.04 M121.7 235.25 H124.7 M209.2 235.25 H212.7 M121.7 225.6 H124.7 M209.2 225.6 H212.7 M121.7 215.95 H124.7 M209.2 215.95 H212.7 M121.7 206.3 H124.7 M209.2 206.3 H212.7 M121.7 196.65 H124.7 M209.2 196.65 H212.7 M121.7 187 H124.7 M209.2 187 H212.7 M121.7 177.35 H124.7 M209.2 177.35 H212.7" stroke="#cfcfcf" stroke-width="0.8" fill="none"/>
<rect x="151.04" y="192.31" width="2.2" height="2.2" fill="#000"/>
<rect x="148.38" y="194.08" width="2.2" height="2.2" fill="#000"/>
<rect x="146.9" y="195.16" width="2.2" height="2.2" fill="#000"/>
<rect x="145.97" y="199.6" width="2.2" height="2.2" fill="#000"/>
<rect x="150.04" y="199.6" width="2.2" height="2.2" fill="#000"/>
<rect x="146.42" y="217.78" width="2.2" height="2.2" fill="#000"/>
<rect x="147.01" y="220.52" width="2.2" height="2.2" fill="#000"/>
<rect x="149.49" y="222.57" width="2.2" height="2.2" fill="#000"/>
<rect x="147.01" y="222.96" width="2.2" height="2.2" fill="#000"/>
<rect x="140.57" y="225.27" width="2.2" height="2.2" fill="#000"/>
<rect x="151.34" y="226.82" width="2.2" height="2.2" fill="#000"/>
<rect x="152.3" y="227.78" width="2.2" height="2.2" fill="#000"/>
<rect x="152.3" y="231.06" width="2.2" height="2.2" fill="#000"/>
<rect x="158.25" y="221.18" width="2.2" height="2.2" fill="#000"/>
<rect x="164.09" y="215.51" width="2.2" height="2.2" fill="#000"/>
<g clip-path="url(#cp22)">
<rect x="224.7" y="170.4" width="80.73" height="70.64" fill="#ffffff"/>
<g filter="url(#blur)">
<path fill="#fff9f6" d="M221.4 169.3h31.9v6.5h-31.9zM221.4 175.1h31.9v4.5h-31.9zM221.4 179.0h31.9v4.5h-31.9zM221.4 182.8h31.9v4.5h-31.9zM221.4 186.7h17.7v4.5h-17.7zM221.4 190.6h17.7v4.5h-17.7zM221.4 194.4h14.2v4.5h-14.2zM221.4 198.3h14.2v4.5h-14.2zM221.4 202.1h14.2v4.5h-14.2zM221.4 206.0h17.7v4.5h-17.7zM221.4 209.9h17.7v4.5h-17.7zM221.4 213.7h21.3v4.5h-21.3zM221.4 217.6h21.3v4.5h-21.3zM221.4 221.4h24.8v4.5h-24.8zM221.4 225.3h28.3v4.5h-28.3zM221.4 229.2h31.9v4.5h-31.9zM221.4 233.0h31.9v4.5h-31.9z"/>
<path fill="#f1efff" d="M252.7 169.3h11.2v6.5h-11.2zM252.7 175.1h4.1v4.5h-4.1zM263.3 175.1h4.1v4.5h-4.1zM252.7 179.0h4.1v4.5h-4.1zM263.3 179.0h4.1v4.5h-4.1zM252.7 182.8h11.2v4.5h-11.2zM252.7 186.7h11.2v4.5h-11.2zM252.7 190.6h11.2v4.5h-11.2zM242.1 198.3h21.8v4.5h-21.8zM242.1 202.1h4.1v4.5h-4.1zM256.2 202.1h7.7v4.5h-7.7zM242.1 206.0h4.1v4.5h-4.1zM259.7 206.0h4.1v4.5h-4.1zM245.6 209.9h4.1v4.5h-4.1zM259.7 209.9h4.1v4.5h-4.1zM249.1 213.7h4.1v4.5h-4.1zM256.2 213.7h7.7v4.5h-7.7zM252.7 217.6h7.7v4.5h-7.7zM270.3 217.6h7.7v4.5h-7.7zM266.8 221.4h11.2v4.5h-11.2zM266.8 225.3h14.7v4.5h-14.7zM270.3 229.2h7.7v4.5h-7.7z"/>
<path fill="#f8f7ff" d="M263.3 169.3h7.7v6.5h-7.7zM266.8 175.1h7.7v4.5h-7.7zM266.8 179.0h7.7v4.5h-7.7zM284.5 179.0h22.8v4.5h-22.8zM263.3 182.8h4.1v4.5h-4.1zM263.3 186.7h4.1v4.5h-4.1zM263.3 190.6h4.1v4.5h-4.1zM252.7 194.4h11.2v4.5h-11.2zM263.3 198.3h4.1v4.5h-4.1zM263.3 202.1h4.1v4.5h-4.1zM263.3 206.0h4.1v4.5h-4.1zM263.3 209.9h4.1v4.5h-4.1zM245.6 213.7h4.1v4.5h-4.1zM263.3 213.7h11.2v4.5h-11.2zM249.1 217.6h4.1v4.5h-4.1zM259.7 217.6h11.2v4.5h-11.2zM277.4 217.6h4.1v4.5h-4.1zM252.7 221.4h14.7v4.5h-14.7zM277.4 221.4h7.7v4.5h-7.7zM256.2 225.3h11.2v4.5h-11.2zM280.9 225.3h4.1v4.5h-4.1zM259.7 229.2h11.2v4.5h-11.2zM277.4 229.2h7.7v4.5h-7.7zM263.3 233.0h21.8v4.5h-21.8z"/>
<path fill="#fbfbff" d="M270.3 169.3h36.9v6.5h-36.9zM273.9 175.1h33.4v4.5h-33.4zM273.9 179.0h11.2v4.5h-11.2zM266.8 182.8h7.7v4.5h-7.7zM284.5 182.8h22.8v4.5h-22.8zM266.8 186.7h4.1v4.5h-4.1zM249.1 190.6h4.1v4.5h-4.1zM266.8 190.6h4.1v4.5h-4.1zM249.1 194.4h4.1v4.5h-4.1zM263.3 194.4h7.7v4.5h-7.7zM266.8 198.3h4.1v4.5h-4.1zM266.8 202.1h7.7v4.5h-7.7zM266.8 206.0h7.7v4.5h-7.7zM266.8 209.9h11.2v4.5h-11.2zM273.9 213.7h4.1v4.5h-4.1z"/>
<path fill="#eae7ff" d="M256.2 175.1h7.7v4.5h-7.7zM256.2 179.0h7.7v4.5h-7.7zM245.6 202.1h11.2v4.5h-11.2zM245.6 206.0h14.7v4.5h-14.7zM249.1 209.9h11.2v4.5h-11.2zM252.7 213.7h4.1v4.5h-4.1z"/>
<path fill="#ffffff" d="M273.9 182.8h11.2v4.5h-11.2zM249.1 186.7h4.1v4.5h-4.1zM270.3 186.7h36.9v4.5h-36.9zM242.1 190.6h7.7v4.5h-7.7zM270.3 190.6h36.9v4.5h-36.9zM238.5 194.4h11.2v4.5h-11.2zM270.3 194.4h36.9v4.5h-36.9zM235.0 198.3h7.7v4.5h-7.7zM270.3 198.3h36.9v4.5h-36.9zM235.0 202.1h7.7v4.5h-7.7zM273.9 202.1h33.4v4.5h-33.4zM238.5 206.0h4.1v4.5h-4.1zM273.9 206.0h33.4v4.5h-33.4zM238.5 209.9h7.7v4.5h-7.7zM277.4 209.9h29.9v4.5h-29.9zM242.1 213.7h4.1v4.5h-4.1zM277.4 213.7h29.9v4.5h-29.9zM242.1 217.6h7.7v4.5h-7.7zM280.9 217.6h26.3v4.5h-26.3zM245.6 221.4h7.7v4.5h-7.7zM284.5 221.4h22.8v4.5h-22.8zM249.1 225.3h7.7v4.5h-7.7zM284.5 225.3h22.8v4.5h-22.8zM252.7 229.2h7.7v4.5h-7.7zM284.5 229.2h22.8v4.5h-22.8zM252.7 233.0h11.2v4.5h-11.2zM284.5 233.0h22.8v4.5h-22.8zM221.4 236.9h85.9v6.5h-85.9z"/>
<path fill="#fffcfb" d="M238.5 186.7h11.2v4.5h-11.2zM238.5 190.6h4.1v4.5h-4.1zM235.0 194.4h4.1v4.5h-4.1z"/>
</g>
</g>
<path d="M232.65 171.56 L252.82 171.56 L252.82 181.52 L253.25 183.14 L245.97 183.14 L244.84 183.41 L243.78 183.45 L241.66 184.22 L240.07 184.14 L238.13 184.61 L237.07 184.22 L235.65 184.49 L234.42 184.88 L232.58 184.61 L232.47 183.72 L232.12 182.75 L231.06 182.48 L230 182.18 L228.23 182.14 L227.95 180.82 L227.88 179.67 L227.53 178.51 L226.82 176.96 L225.94 175.42 L225.65 173.95 L227.88 174.65 L231.06 174.96 L232.65 174.84 L232.65 171.56ZM228.23 182.14 L228.23 182.14 L230 182.18 L231.06 182.48 L232.12 182.75 L232.47 183.72 L232.58 184.61 L234.42 184.88 L235.65 184.49 L237.07 184.22 L238.13 184.61 L240.07 184.14 L241.66 184.22 L243.78 183.45 L244.84 183.41 L245.97 183.14 L253.25 183.14 L253.81 183.83 L254.84 184.68 L254.55 185.22 L254.06 185.96 L253.49 187 L253.35 187.62 L252.61 188.93 L252.15 189.7 L252.79 189.97 L253.14 190.67 L252.86 191.63 L252.86 198.58 L227.49 198.58 L226.82 197.04 L226.29 195.49 L226.82 193.56 L227.53 192.4 L227.88 190.86 L228.06 188.16 L228.41 185.07 L228.48 183.14 L228.23 182.14ZM227.49 198.58 L242.36 198.58 L242.36 210.16 L261.34 225.6 L261.55 226.37 L262.33 227.72 L263.1 228.42 L262.04 229.15 L261.69 229.85 L261.8 231 L261.02 231.78 L261.09 233.13 L261.9 233.9 L261.02 234.4 L252.54 235.13 L252.08 233.71 L251.2 231.78 L249.43 230.62 L248.02 230.43 L247.66 229.34 L246.6 229.46 L245.19 228.88 L243.78 227.92 L240.78 227.72 L240.07 227.14 L240.25 225.21 L239.19 223.86 L237.77 222.9 L235.65 220.58 L235.48 219.42 L236.01 218.65 L235.3 218.07 L233.89 217.11 L233.53 215.56 L233.53 214.79 L231.77 214.02 L231.77 212.86 L229.29 210.55 L228.94 208.23 L228.76 206.69 L227 205.14 L226.82 204.56 L227.88 202.44 L227.53 199.74 L227.49 198.58ZM242.36 198.58 L263.42 198.58 L263.42 221.01 L262.26 221.24 L260.95 221.78 L261.23 223.67 L261.55 225.02 L261.34 225.6 L242.36 210.16ZM252.82 171.56 L256.32 171.56 L256.32 175.5 L257.38 177.16 L257.59 177.66 L258.97 178.31 L260.24 179.55 L261.62 180.63 L262.4 180.59 L261.9 182.56 L262.15 183.64 L261.58 184.03 L261.8 184.84 L263.56 184.38 L264.27 184.68 L265.51 186.77 L267.1 188.93 L267.8 189.12 L269.39 188.74 L272.5 188.74 L273.99 189.01 L273.99 198.58 L252.86 198.58 L252.86 191.63 L253.14 190.67 L252.79 189.97 L252.15 189.7 L252.61 188.93 L253.35 187.62 L253.49 187 L254.06 185.96 L254.55 185.22 L254.84 184.68 L253.81 183.83 L253.25 183.14 L252.82 181.52ZM256.32 171.56 L298.72 171.56 L298.72 187 L273.99 187 L273.99 189.01 L272.5 188.74 L269.39 188.74 L267.8 189.12 L267.1 188.93 L265.51 186.77 L264.27 184.68 L263.56 184.38 L261.8 184.84 L261.58 184.03 L262.15 183.64 L261.9 182.56 L262.4 180.59 L261.62 180.63 L260.24 179.55 L258.97 178.31 L257.59 177.66 L257.38 177.16 L256.32 175.5 L256.32 171.56ZM273.99 187 L298.72 187 L298.72 202.44 L273.99 202.44ZM263.42 198.58 L273.99 198.58 L273.99 202.44 L281.05 202.44 L281.05 217.88 L263.42 217.88ZM281.05 202.44 L305.78 202.44 L305.78 217.88 L281.05 217.88ZM263.42 217.88 L281.05 217.88 L281.05 239.77 L273.91 239.77 L260.7 235.29 L261.02 234.4 L261.9 233.9 L261.09 233.13 L261.02 231.78 L261.8 231 L261.69 229.85 L262.04 229.15 L263.1 228.42 L262.33 227.72 L261.55 226.37 L261.34 225.6 L261.55 225.02 L261.23 223.67 L260.95 221.78 L262.26 221.24 L263.39 221.01ZM281.05 217.88 L302.43 217.88 L302.28 219.81 L302.28 237.18 L289.64 237.18 L289.95 238.03 L284.02 238.03 L284.02 239.77 L281.05 239.77Z" fill="none" stroke="#505050" stroke-width="1" stroke-linejoin="round"/>
<path d="M232.3 171.56 L233.89 171.56 L234.59 173.88 L234.77 176.19 L234.24 178.89 L232.47 179.28 L231.24 177.74 L231.41 175.81 L232.12 174.26Z" fill="#111"/>
<path d="M233.71 213.63 L234.77 213.44 L235.3 214.41 L234.95 216.14 L234.24 216.14 L233.89 214.79Z" fill="#222"/>
<path d="M224.7 167.87 V244.04 M233.53 167.87 V170.87 M233.53 241.04 V244.04 M242.36 167.87 V170.87 M242.36 241.04 V244.04 M251.2 167.87 V170.87 M251.2 241.04 V244.04 M260.03 167.87 V170.87 M260.03 241.04 V244.04 M268.86 167.87 V170.87 M268.86 241.04 V244.04 M277.69 167.87 V170.87 M277.69 241.04 V244.04 M286.53 167.87 V170.87 M286.53 241.04 V244.04 M295.36 167.87 V170.87 M295.36 241.04 V244.04 M304.19 167.87 V170.87 M304.19 241.04 V244.04 M221.7 235.25 H224.7 M305.43 235.25 H308.93 M221.7 225.6 H224.7 M305.43 225.6 H308.93 M221.7 215.95 H224.7 M305.43 215.95 H308.93 M221.7 206.3 H224.7 M305.43 206.3 H308.93 M221.7 196.65 H224.7 M305.43 196.65 H308.93 M221.7 187 H224.7 M305.43 187 H308.93 M221.7 177.35 H224.7 M305.43 177.35 H308.93" stroke="#cfcfcf" stroke-width="0.8" fill="none"/>
<rect x="249.81" y="192.31" width="2.2" height="2.2" fill="#000"/>
<rect x="247.27" y="194.08" width="2.2" height="2.2" fill="#000"/>
<rect x="245.86" y="195.16" width="2.2" height="2.2" fill="#000"/>
<rect x="244.97" y="199.6" width="2.2" height="2.2" fill="#000"/>
<rect x="248.86" y="199.6" width="2.2" height="2.2" fill="#000"/>
<rect x="245.4" y="217.78" width="2.2" height="2.2" fill="#000"/>
<rect x="245.96" y="220.52" width="2.2" height="2.2" fill="#000"/>
<rect x="248.33" y="222.57" width="2.2" height="2.2" fill="#000"/>
<rect x="245.96" y="222.96" width="2.2" height="2.2" fill="#000"/>
<rect x="239.82" y="225.27" width="2.2" height="2.2" fill="#000"/>
<rect x="250.1" y="226.82" width="2.2" height="2.2" fill="#000"/>
<rect x="251.02" y="227.78" width="2.2" height="2.2" fill="#000"/>
<rect x="251.02" y="231.06" width="2.2" height="2.2" fill="#000"/>
<rect x="256.7" y="221.18" width="2.2" height="2.2" fill="#000"/>
<rect x="262.29" y="215.51" width="2.2" height="2.2" fill="#000"/>
<g clip-path="url(#cp30)">
<rect x="27" y="250.23" width="81.85" height="70.09" fill="#c4cbb4"/>
<g filter="url(#blur)">
<path fill="#faab32" d="M23.7 249.1h7.2v6.4h-7.2zM58.9 249.1h7.8v6.4h-7.8zM58.9 254.9h7.8v4.4h-7.8zM58.9 258.7h7.8v4.4h-7.8zM62.5 262.6h4.2v4.4h-4.2zM58.9 266.4h7.8v4.4h-7.8zM23.7 277.9h10.8v4.4h-10.8zM23.7 281.7h10.8v4.4h-10.8zM23.7 285.5h10.8v4.4h-10.8zM23.7 289.4h10.8v4.4h-10.8zM23.7 293.2h14.3v4.4h-14.3zM44.6 293.2h4.2v4.4h-4.2zM23.7 297.0h14.3v4.4h-14.3zM51.8 297.0h4.2v4.4h-4.2zM23.7 300.9h21.5v4.4h-21.5zM48.2 300.9h7.8v4.4h-7.8zM23.7 304.7h28.7v4.4h-28.7zM58.9 308.5h4.2v4.4h-4.2zM58.9 312.4h4.2v4.4h-4.2z"/>
<path fill="#f4b258" d="M30.3 249.1h11.3v6.4h-11.3zM55.4 249.1h4.2v6.4h-4.2zM66.1 249.1h4.2v6.4h-4.2zM23.7 254.9h14.3v4.4h-14.3zM55.4 254.9h4.2v4.4h-4.2zM66.1 254.9h4.2v4.4h-4.2zM23.7 258.7h10.8v4.4h-10.8zM66.1 258.7h4.2v4.4h-4.2zM23.7 262.6h7.2v4.4h-7.2zM66.1 262.6h4.2v4.4h-4.2zM23.7 266.4h7.2v4.4h-7.2zM55.4 266.4h4.2v4.4h-4.2zM73.3 266.4h4.2v4.4h-4.2zM23.7 270.2h7.2v4.4h-7.2zM23.7 274.1h7.2v4.4h-7.2zM33.9 277.9h4.2v4.4h-4.2zM33.9 281.7h11.3v4.4h-11.3zM33.9 285.5h4.2v4.4h-4.2zM41.0 285.5h7.8v4.4h-7.8zM33.9 289.4h4.2v4.4h-4.2zM44.6 289.4h4.2v4.4h-4.2zM87.6 289.4h4.2v4.4h-4.2zM44.6 297.0h4.2v4.4h-4.2zM55.4 300.9h4.2v4.4h-4.2zM51.8 304.7h11.3v4.4h-11.3z"/>
<path fill="#ecba76" d="M41.0 249.1h4.2v6.4h-4.2zM37.4 254.9h4.2v4.4h-4.2zM33.9 258.7h4.2v4.4h-4.2zM55.4 258.7h4.2v4.4h-4.2zM30.3 262.6h4.2v4.4h-4.2zM55.4 262.6h4.2v4.4h-4.2zM69.7 262.6h4.2v4.4h-4.2zM37.4 266.4h4.2v4.4h-4.2zM66.1 266.4h7.8v4.4h-7.8zM37.4 270.2h4.2v4.4h-4.2zM55.4 270.2h7.8v4.4h-7.8zM73.3 270.2h4.2v4.4h-4.2zM30.3 274.1h4.2v4.4h-4.2zM37.4 277.9h7.8v4.4h-7.8zM44.6 281.7h4.2v4.4h-4.2zM48.2 285.5h7.8v4.4h-7.8zM87.6 285.5h7.8v4.4h-7.8zM41.0 289.4h4.2v4.4h-4.2zM48.2 289.4h7.8v4.4h-7.8zM91.2 289.4h4.2v4.4h-4.2zM37.4 293.2h4.2v4.4h-4.2zM51.8 293.2h4.2v4.4h-4.2zM87.6 293.2h4.2v4.4h-4.2zM55.4 297.0h4.2v4.4h-4.2zM58.9 300.9h4.2v4.4h-4.2zM62.5 304.7h4.2v4.4h-4.2zM62.5 308.5h4.2v4.4h-4.2zM62.5 312.4h4.2v4.4h-4.2z"/>
<path fill="#e2c296" d="M44.6 249.1h11.3v6.4h-11.3zM69.7 249.1h4.2v6.4h-4.2zM69.7 254.9h4.2v4.4h-4.2zM37.4 258.7h4.2v4.4h-4.2zM69.7 258.7h4.2v4.4h-4.2zM37.4 262.6h4.2v4.4h-4.2zM51.8 262.6h4.2v4.4h-4.2zM73.3 262.6h4.2v4.4h-4.2zM30.3 266.4h4.2v4.4h-4.2zM30.3 270.2h4.2v4.4h-4.2zM76.8 270.2h4.2v4.4h-4.2zM33.9 274.1h7.8v4.4h-7.8zM55.4 274.1h4.2v4.4h-4.2zM73.3 274.1h4.2v4.4h-4.2zM44.6 277.9h14.9v4.4h-14.9zM48.2 281.7h14.9v4.4h-14.9zM73.3 281.7h4.2v4.4h-4.2zM87.6 281.7h7.8v4.4h-7.8zM37.4 285.5h4.2v4.4h-4.2zM55.4 285.5h11.3v4.4h-11.3zM84.0 285.5h4.2v4.4h-4.2zM94.8 285.5h4.2v4.4h-4.2zM55.4 289.4h11.3v4.4h-11.3zM84.0 289.4h4.2v4.4h-4.2zM94.8 289.4h4.2v4.4h-4.2zM55.4 293.2h11.3v4.4h-11.3zM91.2 293.2h4.2v4.4h-4.2zM58.9 297.0h7.8v4.4h-7.8zM44.6 300.9h4.2v4.4h-4.2zM62.5 300.9h4.2v4.4h-4.2z"/>
<path fill="#cad3cf" d="M73.3 249.1h37.4v6.4h-37.4zM44.6 254.9h4.2v4.4h-4.2zM76.8 254.9h33.8v4.4h-33.8zM44.6 258.7h7.8v4.4h-7.8zM76.8 258.7h33.8v4.4h-33.8zM80.4 262.6h30.3v4.4h-30.3zM80.4 266.4h30.3v4.4h-30.3zM80.4 270.2h30.3v4.4h-30.3zM80.4 274.1h30.3v4.4h-30.3zM80.4 277.9h30.3v4.4h-30.3zM101.9 281.7h8.8v4.4h-8.8zM101.9 285.5h8.8v4.4h-8.8zM101.9 289.4h8.8v4.4h-8.8zM101.9 293.2h8.8v4.4h-8.8zM98.3 297.0h12.3v4.4h-12.3zM80.4 300.9h7.8v4.4h-7.8zM94.8 300.9h15.9v4.4h-15.9zM80.4 304.7h30.3v4.4h-30.3zM80.4 308.5h30.3v4.4h-30.3zM76.8 312.4h33.8v4.4h-33.8zM23.7 316.2h87.0v6.4h-87.0z"/>
<path fill="#d7cdb6" d="M41.0 254.9h4.2v4.4h-4.2zM48.2 254.9h7.8v4.4h-7.8zM73.3 254.9h4.2v4.4h-4.2zM41.0 258.7h4.2v4.4h-4.2zM51.8 258.7h4.2v4.4h-4.2zM73.3 258.7h4.2v4.4h-4.2zM33.9 262.6h4.2v4.4h-4.2zM41.0 262.6h11.3v4.4h-11.3zM76.8 262.6h4.2v4.4h-4.2zM33.9 266.4h4.2v4.4h-4.2zM41.0 266.4h14.9v4.4h-14.9zM76.8 266.4h4.2v4.4h-4.2zM33.9 270.2h4.2v4.4h-4.2zM41.0 270.2h14.9v4.4h-14.9zM62.5 270.2h11.3v4.4h-11.3zM41.0 274.1h14.9v4.4h-14.9zM58.9 274.1h14.9v4.4h-14.9zM76.8 274.1h4.2v4.4h-4.2zM58.9 277.9h22.1v4.4h-22.1zM62.5 281.7h11.3v4.4h-11.3zM76.8 281.7h11.3v4.4h-11.3zM94.8 281.7h7.8v4.4h-7.8zM66.1 285.5h18.5v4.4h-18.5zM98.3 285.5h4.2v4.4h-4.2zM37.4 289.4h4.2v4.4h-4.2zM66.1 289.4h18.5v4.4h-18.5zM98.3 289.4h4.2v4.4h-4.2zM41.0 293.2h4.2v4.4h-4.2zM66.1 293.2h22.1v4.4h-22.1zM94.8 293.2h7.8v4.4h-7.8zM41.0 297.0h4.2v4.4h-4.2zM66.1 297.0h32.8v4.4h-32.8zM66.1 300.9h14.9v4.4h-14.9zM87.6 300.9h7.8v4.4h-7.8zM66.1 304.7h14.9v4.4h-14.9zM66.1 308.5h14.9v4.4h-14.9zM66.1 312.4h11.3v4.4h-11.3z"/>
<path fill="#ffa50a" d="M58.9 262.6h4.2v4.4h-4.2zM48.2 293.2h4.2v4.4h-4.2zM37.4 297.0h4.2v4.4h-4.2zM23.7 308.5h32.3v4.4h-32.3zM23.7 312.4h35.8v4.4h-35.8z"/>
<path fill="#f88c4b" d="M48.2 297.0h4.2v4.4h-4.2zM55.4 308.5h4.2v4.4h-4.2z"/>
</g>
</g>
<path d="M35.06 251.38 L55.51 251.38 L55.51 261.26 L55.94 262.87 L48.56 262.87 L47.42 263.14 L46.34 263.18 L44.19 263.94 L42.58 263.87 L40.61 264.33 L39.54 263.94 L38.1 264.21 L36.85 264.59 L34.99 264.33 L34.88 263.44 L34.52 262.49 L33.45 262.22 L32.37 261.91 L30.58 261.87 L30.3 260.57 L30.22 259.42 L29.87 258.27 L29.15 256.74 L28.25 255.21 L27.97 253.75 L30.22 254.44 L33.45 254.75 L35.06 254.64 L35.06 251.38ZM30.58 261.87 L30.58 261.87 L32.37 261.91 L33.45 262.22 L34.52 262.49 L34.88 263.44 L34.99 264.33 L36.85 264.59 L38.1 264.21 L39.54 263.94 L40.61 264.33 L42.58 263.87 L44.19 263.94 L46.34 263.18 L47.42 263.14 L48.56 262.87 L55.94 262.87 L56.52 263.56 L57.55 264.4 L57.27 264.94 L56.77 265.67 L56.19 266.7 L56.05 267.31 L55.3 268.62 L54.83 269.38 L55.48 269.65 L55.84 270.34 L55.55 271.3 L55.55 278.19 L29.83 278.19 L29.15 276.66 L28.61 275.13 L29.15 273.21 L29.87 272.06 L30.22 270.53 L30.4 267.85 L30.76 264.78 L30.83 262.87 L30.58 261.87ZM29.83 278.19 L44.91 278.19 L44.91 289.68 L64.15 305 L64.36 305.77 L65.15 307.11 L65.94 307.8 L64.86 308.52 L64.5 309.21 L64.61 310.36 L63.82 311.13 L63.89 312.47 L64.72 313.23 L63.82 313.73 L55.23 314.46 L54.76 313.04 L53.86 311.13 L52.07 309.98 L50.64 309.79 L50.28 308.72 L49.21 308.83 L47.78 308.26 L46.34 307.3 L43.3 307.11 L42.58 306.53 L42.76 304.62 L41.69 303.28 L40.25 302.32 L38.1 300.02 L37.93 298.87 L38.46 298.11 L37.75 297.53 L36.31 296.57 L35.95 295.04 L35.95 294.28 L34.16 293.51 L34.16 292.36 L31.66 290.06 L31.3 287.76 L31.12 286.23 L29.33 284.7 L29.15 284.13 L30.22 282.02 L29.87 279.34 L29.83 278.19ZM44.91 278.19 L66.26 278.19 L66.26 300.44 L65.08 300.67 L63.75 301.21 L64.04 303.08 L64.36 304.43 L64.15 305 L44.91 289.68ZM55.51 251.38 L59.06 251.38 L59.06 255.29 L60.13 256.93 L60.35 257.43 L61.75 258.08 L63.03 259.31 L64.43 260.38 L65.22 260.34 L64.72 262.3 L64.97 263.37 L64.4 263.75 L64.61 264.56 L66.4 264.1 L67.12 264.4 L68.37 266.47 L69.98 268.62 L70.7 268.81 L72.31 268.42 L75.46 268.42 L76.97 268.69 L76.97 278.19 L55.55 278.19 L55.55 271.3 L55.84 270.34 L55.48 269.65 L54.83 269.38 L55.3 268.62 L56.05 267.31 L56.19 266.7 L56.77 265.67 L57.27 264.94 L57.55 264.4 L56.52 263.56 L55.94 262.87 L55.51 261.26ZM59.06 251.38 L102.04 251.38 L102.04 266.7 L76.97 266.7 L76.97 268.69 L75.46 268.42 L72.31 268.42 L70.7 268.81 L69.98 268.62 L68.37 266.47 L67.12 264.4 L66.4 264.1 L64.61 264.56 L64.4 263.75 L64.97 263.37 L64.72 262.3 L65.22 260.34 L64.43 260.38 L63.03 259.31 L61.75 258.08 L60.35 257.43 L60.13 256.93 L59.06 255.29 L59.06 251.38ZM76.97 266.7 L102.04 266.7 L102.04 282.02 L76.97 282.02ZM66.26 278.19 L76.97 278.19 L76.97 282.02 L84.13 282.02 L84.13 297.34 L66.26 297.34ZM84.13 282.02 L109.21 282.02 L109.21 297.34 L84.13 297.34ZM66.26 297.34 L84.13 297.34 L84.13 319.06 L76.9 319.06 L63.5 314.61 L63.82 313.73 L64.72 313.23 L63.89 312.47 L63.82 311.13 L64.61 310.36 L64.5 309.21 L64.86 308.52 L65.94 307.8 L65.15 307.11 L64.36 305.77 L64.15 305 L64.36 304.43 L64.04 303.08 L63.75 301.21 L65.08 300.67 L66.22 300.44ZM84.13 297.34 L105.8 297.34 L105.66 299.25 L105.66 316.49 L92.84 316.49 L93.16 317.33 L87.14 317.33 L87.14 319.06 L84.13 319.06Z" fill="none" stroke="#505050" stroke-width="1" stroke-linejoin="round"/>
<path d="M34.7 251.38 L36.31 251.38 L37.03 253.68 L37.21 255.98 L36.67 258.66 L34.88 259.04 L33.63 257.51 L33.81 255.59 L34.52 254.06Z" fill="#111"/>
<path d="M36.13 293.13 L37.21 292.94 L37.75 293.89 L37.39 295.62 L36.67 295.62 L36.31 294.28Z" fill="#222"/>
<ellipse cx="88.61" cy="267.85" rx="2.61" ry="1.61" fill="#f4f6f6"/>
<ellipse cx="71.6" cy="281.45" rx="1.25" ry="1.72" fill="#f4f6f6"/>
<ellipse cx="105.8" cy="309.6" rx="2.15" ry="2.87" fill="#f4f6f6"/>
<path d="M27 247.69 V323.32 M35.95 247.69 V250.69 M35.95 320.32 V323.32 M44.91 247.69 V250.69 M44.91 320.32 V323.32 M53.86 247.69 V250.69 M53.86 320.32 V323.32 M62.82 247.69 V250.69 M62.82 320.32 V323.32 M71.78 247.69 V250.69 M71.78 320.32 V323.32 M80.73 247.69 V250.69 M80.73 320.32 V323.32 M89.69 247.69 V250.69 M89.69 320.32 V323.32 M98.64 247.69 V250.69 M98.64 320.32 V323.32 M107.59 247.69 V250.69 M107.59 320.32 V323.32 M24 314.57 H27 M108.85 314.57 H112.35 M24 305 H27 M108.85 305 H112.35 M24 295.43 H27 M108.85 295.43 H112.35 M24 285.85 H27 M108.85 285.85 H112.35 M24 276.27 H27 M108.85 276.27 H112.35 M24 266.7 H27 M108.85 266.7 H112.35 M24 257.12 H27 M108.85 257.12 H112.35" stroke="#cfcfcf" stroke-width="0.8" fill="none"/>
<rect x="48.11" y="253.11" width="2.2" height="2.2" fill="#000"/>
<rect x="43.34" y="264.41" width="2.2" height="2.2" fill="#000"/>
<rect x="48.61" y="272.49" width="2.2" height="2.2" fill="#000"/>
<rect x="61.51" y="250.66" width="2.2" height="2.2" fill="#000"/>
<rect x="66.73" y="254.11" width="2.2" height="2.2" fill="#000"/>
<rect x="69.6" y="255.64" width="2.2" height="2.2" fill="#000"/>
<rect x="62.9" y="256.91" width="2.2" height="2.2" fill="#000"/>
<rect x="74.36" y="258.32" width="2.2" height="2.2" fill="#000"/>
<rect x="77.23" y="257.94" width="2.2" height="2.2" fill="#000"/>
<rect x="71.93" y="260.24" width="2.2" height="2.2" fill="#000"/>
<rect x="73.9" y="259.85" width="2.2" height="2.2" fill="#000"/>
<rect x="66.73" y="259.47" width="2.2" height="2.2" fill="#000"/>
<rect x="65.66" y="260.62" width="2.2" height="2.2" fill="#000"/>
<rect x="64.59" y="261.77" width="2.2" height="2.2" fill="#000"/>
<rect x="63.51" y="262.92" width="2.2" height="2.2" fill="#000"/>
<rect x="62.44" y="264.07" width="2.2" height="2.2" fill="#000"/>
<rect x="61.36" y="264.83" width="2.2" height="2.2" fill="#000"/>
<rect x="60.29" y="265.6" width="2.2" height="2.2" fill="#000"/>
<rect x="65.3" y="262.54" width="2.2" height="2.2" fill="#000"/>
<rect x="63.51" y="261" width="2.2" height="2.2" fill="#000"/>
<rect x="61.72" y="262.92" width="2.2" height="2.2" fill="#000"/>
<rect x="66.02" y="261.77" width="2.2" height="2.2" fill="#000"/>
<rect x="64.23" y="264.07" width="2.2" height="2.2" fill="#000"/>
<rect x="62.9" y="267.59" width="2.2" height="2.2" fill="#000"/>
<rect x="74.97" y="265.79" width="2.2" height="2.2" fill="#000"/>
<rect x="76.76" y="268.09" width="2.2" height="2.2" fill="#000"/>
<rect x="78.2" y="269.05" width="2.2" height="2.2" fill="#000"/>
<rect x="76.05" y="266.75" width="2.2" height="2.2" fill="#000"/>
<rect x="72.47" y="272.88" width="2.2" height="2.2" fill="#000"/>
<rect x="50.04" y="278.39" width="2.2" height="2.2" fill="#000"/>
<rect x="52.16" y="277.66" width="2.2" height="2.2" fill="#000"/>
<rect x="31.99" y="283.1" width="2.2" height="2.2" fill="#000"/>
<rect x="39.08" y="285.02" width="2.2" height="2.2" fill="#000"/>
<rect x="38.44" y="285.9" width="2.2" height="2.2" fill="#000"/>
<rect x="45.78" y="286.78" width="2.2" height="2.2" fill="#000"/>
<rect x="44.78" y="287.81" width="2.2" height="2.2" fill="#000"/>
<rect x="45.6" y="287.81" width="2.2" height="2.2" fill="#000"/>
<rect x="35.75" y="292.91" width="2.2" height="2.2" fill="#000"/>
<rect x="43.34" y="293.41" width="2.2" height="2.2" fill="#000"/>
<rect x="48" y="298.31" width="2.2" height="2.2" fill="#000"/>
<rect x="50.44" y="300.07" width="2.2" height="2.2" fill="#000"/>
<rect x="49.43" y="301.49" width="2.2" height="2.2" fill="#000"/>
<rect x="54.2" y="299.69" width="2.2" height="2.2" fill="#000"/>
<rect x="58.5" y="298.31" width="2.2" height="2.2" fill="#000"/>
<rect x="54.7" y="311.18" width="2.2" height="2.2" fill="#000"/>
<rect x="61.79" y="301.1" width="2.2" height="2.2" fill="#000"/>
<rect x="66.38" y="276.4" width="2.2" height="2.2" fill="#000"/>
<rect x="67.99" y="276.78" width="2.2" height="2.2" fill="#000"/>
<rect x="77.41" y="275.94" width="2.2" height="2.2" fill="#000"/>
<rect x="64.73" y="293.56" width="2.2" height="2.2" fill="#000"/>
<rect x="83.79" y="294.02" width="2.2" height="2.2" fill="#000"/>
<rect x="58.89" y="299" width="2.2" height="2.2" fill="#000"/>
<rect x="65.55" y="298.69" width="2.2" height="2.2" fill="#000"/>
<rect x="64.73" y="300.3" width="2.2" height="2.2" fill="#000"/>
<rect x="72.65" y="298.69" width="2.2" height="2.2" fill="#000"/>
<rect x="72.65" y="301.41" width="2.2" height="2.2" fill="#000"/>
<rect x="66.38" y="304.51" width="2.2" height="2.2" fill="#000"/>
<rect x="67.09" y="303.9" width="2.2" height="2.2" fill="#000"/>
<rect x="77.41" y="307.58" width="2.2" height="2.2" fill="#000"/>
<rect x="78.2" y="307.16" width="2.2" height="2.2" fill="#000"/>
<rect x="83.79" y="309.26" width="2.2" height="2.2" fill="#000"/>
<rect x="92.53" y="299.8" width="2.2" height="2.2" fill="#000"/>
<rect x="95.75" y="300.61" width="2.2" height="2.2" fill="#000"/>
<rect x="95.39" y="312.33" width="2.2" height="2.2" fill="#000"/>
<rect x="99.62" y="310.03" width="2.2" height="2.2" fill="#000"/>
<rect x="67.09" y="259.09" width="2.2" height="2.2" fill="#000"/>
<rect x="67.99" y="258.9" width="2.2" height="2.2" fill="#000"/>
<rect x="66.38" y="259.55" width="2.2" height="2.2" fill="#000"/>
<rect x="66.38" y="259.74" width="2.2" height="2.2" fill="#000"/>
<rect x="67.27" y="259.55" width="2.2" height="2.2" fill="#000"/>
<rect x="65.66" y="260.2" width="2.2" height="2.2" fill="#000"/>
<rect x="65.66" y="260.43" width="2.2" height="2.2" fill="#000"/>
<rect x="66.56" y="260.24" width="2.2" height="2.2" fill="#000"/>
<rect x="64.94" y="260.89" width="2.2" height="2.2" fill="#000"/>
<rect x="64.94" y="261.08" width="2.2" height="2.2" fill="#000"/>
<rect x="65.84" y="260.89" width="2.2" height="2.2" fill="#000"/>
<rect x="64.23" y="261.54" width="2.2" height="2.2" fill="#000"/>
<rect x="64.23" y="261.77" width="2.2" height="2.2" fill="#000"/>
<rect x="65.12" y="261.58" width="2.2" height="2.2" fill="#000"/>
<rect x="63.51" y="262.23" width="2.2" height="2.2" fill="#000"/>
<rect x="63.51" y="262.42" width="2.2" height="2.2" fill="#000"/>
<rect x="64.41" y="262.23" width="2.2" height="2.2" fill="#000"/>
<rect x="62.79" y="262.88" width="2.2" height="2.2" fill="#000"/>
<rect x="62.79" y="263.11" width="2.2" height="2.2" fill="#000"/>
<rect x="63.69" y="262.92" width="2.2" height="2.2" fill="#000"/>
<rect x="62.08" y="263.57" width="2.2" height="2.2" fill="#000"/>
<rect x="62.08" y="263.76" width="2.2" height="2.2" fill="#000"/>
<rect x="62.97" y="263.61" width="2.2" height="2.2" fill="#000"/>
<rect x="61.36" y="264.22" width="2.2" height="2.2" fill="#000"/>
<rect x="61.36" y="264.45" width="2.2" height="2.2" fill="#000"/>
<rect x="62.26" y="264.26" width="2.2" height="2.2" fill="#000"/>
<rect x="60.65" y="264.91" width="2.2" height="2.2" fill="#000"/>
<rect x="60.65" y="265.14" width="2.2" height="2.2" fill="#000"/>
<rect x="61.54" y="264.95" width="2.2" height="2.2" fill="#000"/>
<rect x="59.93" y="265.56" width="2.2" height="2.2" fill="#000"/>
<rect x="59.93" y="265.79" width="2.2" height="2.2" fill="#000"/>
<rect x="60.82" y="265.6" width="2.2" height="2.2" fill="#000"/>
<rect x="59.21" y="266.25" width="2.2" height="2.2" fill="#000"/>
<rect x="61.29" y="251.31" width="2.2" height="2.2" fill="#000"/>
<rect x="66.66" y="254.3" width="2.2" height="2.2" fill="#000"/>
<rect x="69.71" y="255.8" width="2.2" height="2.2" fill="#000"/>
<rect x="62.79" y="256.48" width="2.2" height="2.2" fill="#000"/>
<rect x="63.22" y="267.78" width="2.2" height="2.2" fill="#000"/>
<rect x="58.64" y="264.07" width="2.2" height="2.2" fill="#000"/>
<rect x="71.93" y="259.85" width="2.2" height="2.2" fill="#000"/>
<rect x="73.9" y="258.71" width="2.2" height="2.2" fill="#000"/>
<rect x="74.97" y="260.24" width="2.2" height="2.2" fill="#000"/>
<rect x="77.66" y="258.02" width="2.2" height="2.2" fill="#000"/>
<g clip-path="url(#cp31)">
<rect x="124.7" y="250.23" width="84.5" height="70.09" fill="#ffffff"/>
<g filter="url(#blur)">
<path fill="#ffe6dd" d="M121.4 249.1h48.0v6.4h-48.0zM121.4 254.9h48.0v4.4h-48.0zM121.4 258.7h48.0v4.4h-48.0zM135.5 262.6h33.9v4.4h-33.9zM139.2 266.4h30.2v4.4h-30.2zM139.2 270.2h33.9v4.4h-33.9zM142.9 274.1h33.9v4.4h-33.9zM121.4 277.9h22.1v4.4h-22.1zM165.1 277.9h11.7v4.4h-11.7zM121.4 281.7h18.4v4.4h-18.4zM165.1 281.7h15.4v4.4h-15.4zM121.4 285.5h14.7v4.4h-14.7zM165.1 285.5h15.4v4.4h-15.4zM121.4 289.4h11.0v4.4h-11.0zM165.1 289.4h15.4v4.4h-15.4zM165.1 293.2h15.4v4.4h-15.4zM165.1 297.0h19.1v4.4h-19.1zM165.1 300.9h19.1v4.4h-19.1zM165.1 304.7h19.1v4.4h-19.1zM165.1 308.5h15.4v4.4h-15.4zM165.1 312.4h15.4v4.4h-15.4zM165.1 316.2h15.4v6.4h-15.4z"/>
<path fill="#ffeee8" d="M168.8 249.1h8.0v6.4h-8.0zM168.8 254.9h8.0v4.4h-8.0zM168.8 258.7h8.0v4.4h-8.0zM168.8 262.6h8.0v4.4h-8.0zM168.8 266.4h8.0v4.4h-8.0zM172.5 270.2h8.0v4.4h-8.0zM176.2 274.1h4.3v4.4h-4.3zM142.9 277.9h22.8v4.4h-22.8zM176.2 277.9h8.0v4.4h-8.0zM139.2 281.7h4.3v4.4h-4.3zM146.6 281.7h19.1v4.4h-19.1zM179.9 281.7h15.4v4.4h-15.4zM135.5 285.5h4.3v4.4h-4.3zM150.3 285.5h15.4v4.4h-15.4zM179.9 285.5h15.4v4.4h-15.4zM131.8 289.4h4.3v4.4h-4.3zM154.0 289.4h11.7v4.4h-11.7zM179.9 289.4h15.4v4.4h-15.4zM121.4 293.2h14.7v4.4h-14.7zM157.7 293.2h8.0v4.4h-8.0zM179.9 293.2h19.1v4.4h-19.1zM161.4 297.0h4.3v4.4h-4.3zM183.6 297.0h15.4v4.4h-15.4zM161.4 300.9h4.3v4.4h-4.3zM183.6 300.9h15.4v4.4h-15.4zM161.4 304.7h4.3v4.4h-4.3zM183.6 304.7h15.4v4.4h-15.4zM161.4 308.5h4.3v4.4h-4.3zM179.9 308.5h19.1v4.4h-19.1zM161.4 312.4h4.3v4.4h-4.3zM179.9 312.4h19.1v4.4h-19.1zM161.4 316.2h4.3v6.4h-4.3zM179.9 316.2h19.1v6.4h-19.1z"/>
<path fill="#fff7f4" d="M176.2 249.1h8.0v6.4h-8.0zM176.2 254.9h8.0v4.4h-8.0zM176.2 258.7h8.0v4.4h-8.0zM176.2 262.6h8.0v4.4h-8.0zM176.2 266.4h11.7v4.4h-11.7zM179.9 270.2h11.7v4.4h-11.7zM179.9 274.1h15.4v4.4h-15.4zM183.6 277.9h19.1v4.4h-19.1zM142.9 281.7h4.3v4.4h-4.3zM194.7 281.7h8.0v4.4h-8.0zM139.2 285.5h4.3v4.4h-4.3zM146.6 285.5h4.3v4.4h-4.3zM194.7 285.5h8.0v4.4h-8.0zM135.5 289.4h4.3v4.4h-4.3zM150.3 289.4h4.3v4.4h-4.3zM194.7 289.4h8.0v4.4h-8.0zM135.5 293.2h4.3v4.4h-4.3zM154.0 293.2h4.3v4.4h-4.3zM198.4 293.2h4.3v4.4h-4.3zM157.7 297.0h4.3v4.4h-4.3zM198.4 297.0h4.3v4.4h-4.3zM157.7 300.9h4.3v4.4h-4.3zM198.4 300.9h4.3v4.4h-4.3zM157.7 304.7h4.3v4.4h-4.3zM198.4 304.7h4.3v4.4h-4.3zM157.7 308.5h4.3v4.4h-4.3zM198.4 308.5h4.3v4.4h-4.3zM157.7 312.4h4.3v4.4h-4.3zM198.4 312.4h4.3v4.4h-4.3zM121.4 316.2h40.6v6.4h-40.6zM198.4 316.2h4.3v6.4h-4.3z"/>
<path fill="#ffffff" d="M183.6 249.1h15.4v6.4h-15.4zM183.6 254.9h15.4v4.4h-15.4zM183.6 258.7h11.7v4.4h-11.7zM183.6 262.6h11.7v4.4h-11.7zM187.3 266.4h11.7v4.4h-11.7zM191.0 270.2h20.1v4.4h-20.1zM194.7 274.1h16.4v4.4h-16.4zM202.1 277.9h9.0v4.4h-9.0zM202.1 281.7h9.0v4.4h-9.0zM202.1 285.5h9.0v4.4h-9.0zM202.1 289.4h9.0v4.4h-9.0zM202.1 293.2h9.0v4.4h-9.0zM202.1 297.0h9.0v4.4h-9.0zM202.1 300.9h9.0v4.4h-9.0zM202.1 304.7h9.0v4.4h-9.0zM202.1 308.5h9.0v4.4h-9.0zM202.1 312.4h9.0v4.4h-9.0zM202.1 316.2h9.0v6.4h-9.0z"/>
<path fill="#f6f4ff" d="M198.4 249.1h12.7v6.4h-12.7zM198.4 254.9h12.7v4.4h-12.7zM194.7 258.7h16.4v4.4h-16.4zM194.7 262.6h16.4v4.4h-16.4zM198.4 266.4h12.7v4.4h-12.7z"/>
<path fill="#ffded2" d="M121.4 262.6h14.7v4.4h-14.7zM121.4 266.4h18.4v4.4h-18.4zM121.4 270.2h18.4v4.4h-18.4zM121.4 274.1h22.1v4.4h-22.1z"/>
<path fill="#edeaff" d="M142.9 285.5h4.3v4.4h-4.3zM139.2 289.4h4.3v4.4h-4.3zM146.6 289.4h4.3v4.4h-4.3zM150.3 293.2h4.3v4.4h-4.3zM121.4 297.0h18.4v4.4h-18.4zM154.0 297.0h4.3v4.4h-4.3zM154.0 304.7h4.3v4.4h-4.3zM154.0 308.5h4.3v4.4h-4.3z"/>
<path fill="#dad5ff" d="M142.9 289.4h4.3v4.4h-4.3zM139.2 293.2h4.3v4.4h-4.3zM139.2 297.0h4.3v4.4h-4.3zM154.0 300.9h4.3v4.4h-4.3zM154.0 312.4h4.3v4.4h-4.3z"/>
<path fill="#c8c0ff" d="M142.9 293.2h8.0v4.4h-8.0zM142.9 297.0h4.3v4.4h-4.3zM150.3 297.0h4.3v4.4h-4.3zM121.4 300.9h25.8v4.4h-25.8zM150.3 300.9h4.3v4.4h-4.3zM150.3 304.7h4.3v4.4h-4.3z"/>
<path fill="#b4aaff" d="M146.6 297.0h4.3v4.4h-4.3zM146.6 300.9h4.3v4.4h-4.3zM146.6 304.7h4.3v4.4h-4.3zM150.3 308.5h4.3v4.4h-4.3z"/>
<path fill="#a093ff" d="M121.4 304.7h25.8v4.4h-25.8zM150.3 312.4h4.3v4.4h-4.3z"/>
<path fill="#8c7dff" d="M121.4 308.5h29.5v4.4h-29.5zM121.4 312.4h29.5v4.4h-29.5z"/>
</g>
</g>
<path d="M133.02 251.38 L154.14 251.38 L154.14 261.26 L154.58 262.87 L146.96 262.87 L145.78 263.14 L144.67 263.18 L142.45 263.94 L140.79 263.87 L138.75 264.33 L137.64 263.94 L136.16 264.21 L134.87 264.59 L132.95 264.33 L132.84 263.44 L132.47 262.49 L131.36 262.22 L130.25 261.91 L128.4 261.87 L128.1 260.57 L128.03 259.42 L127.66 258.27 L126.92 256.74 L125.99 255.21 L125.7 253.75 L128.03 254.44 L131.36 254.75 L133.02 254.64 L133.02 251.38ZM128.4 261.87 L128.4 261.87 L130.25 261.91 L131.36 262.22 L132.47 262.49 L132.84 263.44 L132.95 264.33 L134.87 264.59 L136.16 264.21 L137.64 263.94 L138.75 264.33 L140.79 263.87 L142.45 263.94 L144.67 263.18 L145.78 263.14 L146.96 262.87 L154.58 262.87 L155.17 263.56 L156.24 264.4 L155.95 264.94 L155.43 265.67 L154.84 266.7 L154.69 267.31 L153.91 268.62 L153.43 269.38 L154.1 269.65 L154.47 270.34 L154.17 271.3 L154.17 278.19 L127.62 278.19 L126.92 276.66 L126.36 275.13 L126.92 273.21 L127.66 272.06 L128.03 270.53 L128.21 267.85 L128.58 264.78 L128.66 262.87 L128.4 261.87ZM127.62 278.19 L143.19 278.19 L143.19 289.68 L163.05 305 L163.27 305.77 L164.08 307.11 L164.9 307.8 L163.79 308.52 L163.42 309.21 L163.53 310.36 L162.72 311.13 L162.79 312.47 L163.64 313.23 L162.72 313.73 L153.84 314.46 L153.36 313.04 L152.44 311.13 L150.59 309.98 L149.11 309.79 L148.74 308.72 L147.63 308.83 L146.15 308.26 L144.67 307.3 L141.53 307.11 L140.79 306.53 L140.97 304.62 L139.86 303.28 L138.38 302.32 L136.16 300.02 L135.98 298.87 L136.53 298.11 L135.79 297.53 L134.31 296.57 L133.94 295.04 L133.94 294.28 L132.1 293.51 L132.1 292.36 L129.51 290.06 L129.14 287.76 L128.95 286.23 L127.1 284.7 L126.92 284.13 L128.03 282.02 L127.66 279.34 L127.62 278.19ZM143.19 278.19 L165.23 278.19 L165.23 300.44 L164.01 300.67 L162.64 301.21 L162.94 303.08 L163.27 304.43 L163.05 305 L143.19 289.68ZM154.14 251.38 L157.8 251.38 L157.8 255.29 L158.91 256.93 L159.13 257.43 L160.57 258.08 L161.9 259.31 L163.34 260.38 L164.16 260.34 L163.64 262.3 L163.9 263.37 L163.31 263.75 L163.53 264.56 L165.38 264.1 L166.12 264.4 L167.41 266.47 L169.08 268.62 L169.82 268.81 L171.48 268.42 L174.73 268.42 L176.29 268.69 L176.29 278.19 L154.17 278.19 L154.17 271.3 L154.47 270.34 L154.1 269.65 L153.43 269.38 L153.91 268.62 L154.69 267.31 L154.84 266.7 L155.43 265.67 L155.95 264.94 L156.24 264.4 L155.17 263.56 L154.58 262.87 L154.14 261.26ZM157.8 251.38 L202.17 251.38 L202.17 266.7 L176.29 266.7 L176.29 268.69 L174.73 268.42 L171.48 268.42 L169.82 268.81 L169.08 268.62 L167.41 266.47 L166.12 264.4 L165.38 264.1 L163.53 264.56 L163.31 263.75 L163.9 263.37 L163.64 262.3 L164.16 260.34 L163.34 260.38 L161.9 259.31 L160.57 258.08 L159.13 257.43 L158.91 256.93 L157.8 255.29 L157.8 251.38ZM176.29 266.7 L202.17 266.7 L202.17 282.02 L176.29 282.02ZM165.23 278.19 L176.29 278.19 L176.29 282.02 L183.68 282.02 L183.68 297.34 L165.23 297.34ZM183.68 282.02 L209.57 282.02 L209.57 297.34 L183.68 297.34ZM165.23 297.34 L183.68 297.34 L183.68 319.06 L176.21 319.06 L162.38 314.61 L162.72 313.73 L163.64 313.23 L162.79 312.47 L162.72 311.13 L163.53 310.36 L163.42 309.21 L163.79 308.52 L164.9 307.8 L164.08 307.11 L163.27 305.77 L163.05 305 L163.27 304.43 L162.94 303.08 L162.64 301.21 L164.01 300.67 L165.19 300.44ZM183.68 297.34 L206.06 297.34 L205.91 299.25 L205.91 316.49 L192.67 316.49 L193 317.33 L186.79 317.33 L186.79 319.06 L183.68 319.06Z" fill="none" stroke="#505050" stroke-width="1" stroke-linejoin="round"/>
<path d="M132.65 251.38 L134.31 251.38 L135.05 253.68 L135.24 255.98 L134.68 258.66 L132.84 259.04 L131.54 257.51 L131.73 255.59 L132.47 254.06Z" fill="#111"/>
<path d="M134.13 293.13 L135.24 292.94 L135.79 293.89 L135.42 295.62 L134.68 295.62 L134.31 294.28Z" fill="#222"/>
<path d="M124.7 247.69 V323.32 M133.94 247.69 V250.69 M133.94 320.32 V323.32 M143.19 247.69 V250.69 M143.19 320.32 V323.32 M152.44 247.69 V250.69 M152.44 320.32 V323.32 M161.68 247.69 V250.69 M161.68 320.32 V323.32 M170.93 247.69 V250.69 M170.93 320.32 V323.32 M180.17 247.69 V250.69 M180.17 320.32 V323.32 M189.42 247.69 V250.69 M189.42 320.32 V323.32 M198.66 247.69 V250.69 M198.66 320.32 V323.32 M207.91 247.69 V250.69 M207.91 320.32 V323.32 M121.7 314.57 H124.7 M209.2 314.57 H212.7 M121.7 305 H124.7 M209.2 305 H212.7 M121.7 295.43 H124.7 M209.2 295.43 H212.7 M121.7 285.85 H124.7 M209.2 285.85 H212.7 M121.7 276.27 H124.7 M209.2 276.27 H212.7 M121.7 266.7 H124.7 M209.2 266.7 H212.7 M121.7 257.12 H124.7 M209.2 257.12 H212.7" stroke="#cfcfcf" stroke-width="0.8" fill="none"/>
<rect x="146.53" y="253.11" width="2.2" height="2.2" fill="#000"/>
<rect x="141.61" y="264.41" width="2.2" height="2.2" fill="#000"/>
<rect x="147.05" y="272.49" width="2.2" height="2.2" fill="#000"/>
<rect x="160.36" y="250.66" width="2.2" height="2.2" fill="#000"/>
<rect x="165.76" y="254.11" width="2.2" height="2.2" fill="#000"/>
<rect x="168.72" y="255.64" width="2.2" height="2.2" fill="#000"/>
<rect x="161.8" y="256.91" width="2.2" height="2.2" fill="#000"/>
<rect x="173.63" y="258.32" width="2.2" height="2.2" fill="#000"/>
<rect x="176.59" y="257.94" width="2.2" height="2.2" fill="#000"/>
<rect x="171.12" y="260.24" width="2.2" height="2.2" fill="#000"/>
<rect x="173.15" y="259.85" width="2.2" height="2.2" fill="#000"/>
<rect x="165.76" y="259.47" width="2.2" height="2.2" fill="#000"/>
<rect x="164.65" y="260.62" width="2.2" height="2.2" fill="#000"/>
<rect x="163.54" y="261.77" width="2.2" height="2.2" fill="#000"/>
<rect x="162.43" y="262.92" width="2.2" height="2.2" fill="#000"/>
<rect x="161.32" y="264.07" width="2.2" height="2.2" fill="#000"/>
<rect x="160.21" y="264.83" width="2.2" height="2.2" fill="#000"/>
<rect x="159.1" y="265.6" width="2.2" height="2.2" fill="#000"/>
<rect x="164.28" y="262.54" width="2.2" height="2.2" fill="#000"/>
<rect x="162.43" y="261" width="2.2" height="2.2" fill="#000"/>
<rect x="160.58" y="262.92" width="2.2" height="2.2" fill="#000"/>
<rect x="165.02" y="261.77" width="2.2" height="2.2" fill="#000"/>
<rect x="163.17" y="264.07" width="2.2" height="2.2" fill="#000"/>
<rect x="161.8" y="267.59" width="2.2" height="2.2" fill="#000"/>
<rect x="174.26" y="265.79" width="2.2" height="2.2" fill="#000"/>
<rect x="176.11" y="268.09" width="2.2" height="2.2" fill="#000"/>
<rect x="177.59" y="269.05" width="2.2" height="2.2" fill="#000"/>
<rect x="175.37" y="266.75" width="2.2" height="2.2" fill="#000"/>
<rect x="171.67" y="272.88" width="2.2" height="2.2" fill="#000"/>
<rect x="148.52" y="278.39" width="2.2" height="2.2" fill="#000"/>
<rect x="150.71" y="277.66" width="2.2" height="2.2" fill="#000"/>
<rect x="129.89" y="283.1" width="2.2" height="2.2" fill="#000"/>
<rect x="137.21" y="285.02" width="2.2" height="2.2" fill="#000"/>
<rect x="136.54" y="285.9" width="2.2" height="2.2" fill="#000"/>
<rect x="144.12" y="286.78" width="2.2" height="2.2" fill="#000"/>
<rect x="143.09" y="287.81" width="2.2" height="2.2" fill="#000"/>
<rect x="143.94" y="287.81" width="2.2" height="2.2" fill="#000"/>
<rect x="133.77" y="292.91" width="2.2" height="2.2" fill="#000"/>
<rect x="141.61" y="293.41" width="2.2" height="2.2" fill="#000"/>
<rect x="146.42" y="298.31" width="2.2" height="2.2" fill="#000"/>
<rect x="148.93" y="300.07" width="2.2" height="2.2" fill="#000"/>
<rect x="147.9" y="301.49" width="2.2" height="2.2" fill="#000"/>
<rect x="152.81" y="299.69" width="2.2" height="2.2" fill="#000"/>
<rect x="157.25" y="298.31" width="2.2" height="2.2" fill="#000"/>
<rect x="153.33" y="311.18" width="2.2" height="2.2" fill="#000"/>
<rect x="160.65" y="301.1" width="2.2" height="2.2" fill="#000"/>
<rect x="165.39" y="276.4" width="2.2" height="2.2" fill="#000"/>
<rect x="167.05" y="276.78" width="2.2" height="2.2" fill="#000"/>
<rect x="176.78" y="275.94" width="2.2" height="2.2" fill="#000"/>
<rect x="163.69" y="293.56" width="2.2" height="2.2" fill="#000"/>
<rect x="183.36" y="294.02" width="2.2" height="2.2" fill="#000"/>
<rect x="157.66" y="299" width="2.2" height="2.2" fill="#000"/>
<rect x="164.54" y="298.69" width="2.2" height="2.2" fill="#000"/>
<rect x="163.69" y="300.3" width="2.2" height="2.2" fill="#000"/>
<rect x="171.86" y="298.69" width="2.2" height="2.2" fill="#000"/>
<rect x="171.86" y="301.41" width="2.2" height="2.2" fill="#000"/>
<rect x="165.39" y="304.51" width="2.2" height="2.2" fill="#000"/>
<rect x="166.13" y="303.9" width="2.2" height="2.2" fill="#000"/>
<rect x="176.78" y="307.58" width="2.2" height="2.2" fill="#000"/>
<rect x="177.59" y="307.16" width="2.2" height="2.2" fill="#000"/>
<rect x="183.36" y="309.26" width="2.2" height="2.2" fill="#000"/>
<rect x="192.38" y="299.8" width="2.2" height="2.2" fill="#000"/>
<rect x="195.71" y="300.61" width="2.2" height="2.2" fill="#000"/>
<rect x="195.34" y="312.33" width="2.2" height="2.2" fill="#000"/>
<rect x="199.7" y="310.03" width="2.2" height="2.2" fill="#000"/>
<rect x="166.13" y="259.09" width="2.2" height="2.2" fill="#000"/>
<rect x="167.05" y="258.9" width="2.2" height="2.2" fill="#000"/>
<rect x="165.39" y="259.55" width="2.2" height="2.2" fill="#000"/>
<rect x="165.39" y="259.74" width="2.2" height="2.2" fill="#000"/>
<rect x="166.31" y="259.55" width="2.2" height="2.2" fill="#000"/>
<rect x="164.65" y="260.2" width="2.2" height="2.2" fill="#000"/>
<rect x="164.65" y="260.43" width="2.2" height="2.2" fill="#000"/>
<rect x="165.57" y="260.24" width="2.2" height="2.2" fill="#000"/>
<rect x="163.91" y="260.89" width="2.2" height="2.2" fill="#000"/>
<rect x="163.91" y="261.08" width="2.2" height="2.2" fill="#000"/>
<rect x="164.83" y="260.89" width="2.2" height="2.2" fill="#000"/>
<rect x="163.17" y="261.54" width="2.2" height="2.2" fill="#000"/>
<rect x="163.17" y="261.77" width="2.2" height="2.2" fill="#000"/>
<rect x="164.09" y="261.58" width="2.2" height="2.2" fill="#000"/>
<rect x="162.43" y="262.23" width="2.2" height="2.2" fill="#000"/>
<rect x="162.43" y="262.42" width="2.2" height="2.2" fill="#000"/>
<rect x="163.35" y="262.23" width="2.2" height="2.2" fill="#000"/>
<rect x="161.69" y="262.88" width="2.2" height="2.2" fill="#000"/>
<rect x="161.69" y="263.11" width="2.2" height="2.2" fill="#000"/>
<rect x="162.61" y="262.92" width="2.2" height="2.2" fill="#000"/>
<rect x="160.95" y="263.57" width="2.2" height="2.2" fill="#000"/>
<rect x="160.95" y="263.76" width="2.2" height="2.2" fill="#000"/>
<rect x="161.87" y="263.61" width="2.2" height="2.2" fill="#000"/>
<rect x="160.21" y="264.22" width="2.2" height="2.2" fill="#000"/>
<rect x="160.21" y="264.45" width="2.2" height="2.2" fill="#000"/>
<rect x="161.13" y="264.26" width="2.2" height="2.2" fill="#000"/>
<rect x="159.47" y="264.91" width="2.2" height="2.2" fill="#000"/>
<rect x="159.47" y="265.14" width="2.2" height="2.2" fill="#000"/>
<rect x="160.4" y="264.95" width="2.2" height="2.2" fill="#000"/>
<rect x="158.73" y="265.56" width="2.2" height="2.2" fill="#000"/>
<rect x="158.73" y="265.79" width="2.2" height="2.2" fill="#000"/>
<rect x="159.66" y="265.6" width="2.2" height="2.2" fill="#000"/>
<rect x="157.99" y="266.25" width="2.2" height="2.2" fill="#000"/>
<rect x="160.14" y="251.31" width="2.2" height="2.2" fill="#000"/>
<rect x="165.68" y="254.3" width="2.2" height="2.2" fill="#000"/>
<rect x="168.83" y="255.8" width="2.2" height="2.2" fill="#000"/>
<rect x="161.69" y="256.48" width="2.2" height="2.2" fill="#000"/>
<rect x="162.13" y="267.78" width="2.2" height="2.2" fill="#000"/>
<rect x="157.4" y="264.07" width="2.2" height="2.2" fill="#000"/>
<rect x="171.12" y="259.85" width="2.2" height="2.2" fill="#000"/>
<rect x="173.15" y="258.71" width="2.2" height="2.2" fill="#000"/>
<rect x="174.26" y="260.24" width="2.2" height="2.2" fill="#000"/>
<rect x="177.04" y="258.02" width="2.2" height="2.2" fill="#000"/>
<g clip-path="url(#cp32)">
<rect x="224.7" y="250.23" width="80.73" height="70.09" fill="#ffffff"/>
<g filter="url(#blur)">
<path fill="#fff6f3" d="M221.4 249.1h31.9v6.4h-31.9zM221.4 254.9h31.9v4.4h-31.9zM221.4 258.7h31.9v4.4h-31.9zM221.4 262.6h31.9v4.4h-31.9zM221.4 266.4h17.7v4.4h-17.7zM221.4 270.2h17.7v4.4h-17.7zM221.4 274.1h14.2v4.4h-14.2zM221.4 277.9h14.2v4.4h-14.2zM221.4 281.7h14.2v4.4h-14.2zM221.4 285.5h17.7v4.4h-17.7zM221.4 289.4h17.7v4.4h-17.7zM221.4 293.2h21.3v4.4h-21.3zM221.4 297.0h21.3v4.4h-21.3zM221.4 300.9h24.8v4.4h-24.8zM221.4 304.7h28.3v4.4h-28.3zM221.4 308.5h31.9v4.4h-31.9zM221.4 312.4h31.9v4.4h-31.9z"/>
<path fill="#ebe8ff" d="M252.7 249.1h11.2v6.4h-11.2zM252.7 254.9h4.1v4.4h-4.1zM263.3 254.9h4.1v4.4h-4.1zM252.7 258.7h4.1v4.4h-4.1zM263.3 258.7h4.1v4.4h-4.1zM252.7 262.6h11.2v4.4h-11.2zM252.7 266.4h11.2v4.4h-11.2zM252.7 270.2h11.2v4.4h-11.2zM242.1 277.9h21.8v4.4h-21.8zM242.1 281.7h4.1v4.4h-4.1zM256.2 281.7h7.7v4.4h-7.7zM242.1 285.5h4.1v4.4h-4.1zM259.7 285.5h4.1v4.4h-4.1zM245.6 289.4h4.1v4.4h-4.1zM259.7 289.4h4.1v4.4h-4.1zM249.1 293.2h4.1v4.4h-4.1zM256.2 293.2h7.7v4.4h-7.7zM252.7 297.0h7.7v4.4h-7.7zM270.3 297.0h7.7v4.4h-7.7zM266.8 300.9h11.2v4.4h-11.2zM266.8 304.7h14.7v4.4h-14.7zM270.3 308.5h7.7v4.4h-7.7z"/>
<path fill="#f5f3ff" d="M263.3 249.1h7.7v6.4h-7.7zM266.8 254.9h7.7v4.4h-7.7zM266.8 258.7h7.7v4.4h-7.7zM284.5 258.7h22.8v4.4h-22.8zM263.3 262.6h4.1v4.4h-4.1zM263.3 266.4h4.1v4.4h-4.1zM263.3 270.2h4.1v4.4h-4.1zM252.7 274.1h11.2v4.4h-11.2zM263.3 277.9h4.1v4.4h-4.1zM263.3 281.7h4.1v4.4h-4.1zM263.3 285.5h4.1v4.4h-4.1zM263.3 289.4h4.1v4.4h-4.1zM245.6 293.2h4.1v4.4h-4.1zM263.3 293.2h11.2v4.4h-11.2zM249.1 297.0h4.1v4.4h-4.1zM259.7 297.0h11.2v4.4h-11.2zM277.4 297.0h4.1v4.4h-4.1zM252.7 300.9h14.7v4.4h-14.7zM277.4 300.9h7.7v4.4h-7.7zM256.2 304.7h11.2v4.4h-11.2zM280.9 304.7h4.1v4.4h-4.1zM259.7 308.5h11.2v4.4h-11.2zM277.4 308.5h7.7v4.4h-7.7zM263.3 312.4h21.8v4.4h-21.8z"/>
<path fill="#faf9ff" d="M270.3 249.1h36.9v6.4h-36.9zM273.9 254.9h33.4v4.4h-33.4zM273.9 258.7h11.2v4.4h-11.2zM266.8 262.6h7.7v4.4h-7.7zM284.5 262.6h22.8v4.4h-22.8zM266.8 266.4h4.1v4.4h-4.1zM249.1 270.2h4.1v4.4h-4.1zM266.8 270.2h4.1v4.4h-4.1zM249.1 274.1h4.1v4.4h-4.1zM263.3 274.1h7.7v4.4h-7.7zM266.8 277.9h4.1v4.4h-4.1zM266.8 281.7h7.7v4.4h-7.7zM266.8 285.5h7.7v4.4h-7.7zM266.8 289.4h11.2v4.4h-11.2zM273.9 293.2h4.1v4.4h-4.1z"/>
<path fill="#e1dcff" d="M256.2 254.9h7.7v4.4h-7.7zM256.2 258.7h7.7v4.4h-7.7zM245.6 281.7h11.2v4.4h-11.2zM245.6 285.5h14.7v4.4h-14.7zM249.1 289.4h11.2v4.4h-11.2zM252.7 293.2h4.1v4.4h-4.1z"/>
<path fill="#ffffff" d="M273.9 262.6h11.2v4.4h-11.2zM249.1 266.4h4.1v4.4h-4.1zM270.3 266.4h36.9v4.4h-36.9zM242.1 270.2h7.7v4.4h-7.7zM270.3 270.2h36.9v4.4h-36.9zM238.5 274.1h11.2v4.4h-11.2zM270.3 274.1h36.9v4.4h-36.9zM235.0 277.9h7.7v4.4h-7.7zM270.3 277.9h36.9v4.4h-36.9zM235.0 281.7h7.7v4.4h-7.7zM273.9 281.7h33.4v4.4h-33.4zM238.5 285.5h4.1v4.4h-4.1zM273.9 285.5h33.4v4.4h-33.4zM238.5 289.4h7.7v4.4h-7.7zM277.4 289.4h29.9v4.4h-29.9zM242.1 293.2h4.1v4.4h-4.1zM277.4 293.2h29.9v4.4h-29.9zM242.1 297.0h7.7v4.4h-7.7zM280.9 297.0h26.3v4.4h-26.3zM245.6 300.9h7.7v4.4h-7.7zM284.5 300.9h22.8v4.4h-22.8zM249.1 304.7h7.7v4.4h-7.7zM284.5 304.7h22.8v4.4h-22.8zM252.7 308.5h7.7v4.4h-7.7zM284.5 308.5h22.8v4.4h-22.8zM252.7 312.4h11.2v4.4h-11.2zM284.5 312.4h22.8v4.4h-22.8zM221.4 316.2h85.9v6.4h-85.9z"/>
<path fill="#fffaf9" d="M238.5 266.4h11.2v4.4h-11.2zM238.5 270.2h4.1v4.4h-4.1zM235.0 274.1h4.1v4.4h-4.1z"/>
</g>
</g>
<path d="M232.65 251.38 L252.82 251.38 L252.82 261.26 L253.25 262.87 L245.97 262.87 L244.84 263.14 L243.78 263.18 L241.66 263.94 L240.07 263.87 L238.13 264.33 L237.07 263.94 L235.65 264.21 L234.42 264.59 L232.58 264.33 L232.47 263.44 L232.12 262.49 L231.06 262.22 L230 261.91 L228.23 261.87 L227.95 260.57 L227.88 259.42 L227.53 258.27 L226.82 256.74 L225.94 255.21 L225.65 253.75 L227.88 254.44 L231.06 254.75 L232.65 254.64 L232.65 251.38ZM228.23 261.87 L228.23 261.87 L230 261.91 L231.06 262.22 L232.12 262.49 L232.47 263.44 L232.58 264.33 L234.42 264.59 L235.65 264.21 L237.07 263.94 L238.13 264.33 L240.07 263.87 L241.66 263.94 L243.78 263.18 L244.84 263.14 L245.97 262.87 L253.25 262.87 L253.81 263.56 L254.84 264.4 L254.55 264.94 L254.06 265.67 L253.49 266.7 L253.35 267.31 L252.61 268.62 L252.15 269.38 L252.79 269.65 L253.14 270.34 L252.86 271.3 L252.86 278.19 L227.49 278.19 L226.82 276.66 L226.29 275.13 L226.82 273.21 L227.53 272.06 L227.88 270.53 L228.06 267.85 L228.41 264.78 L228.48 262.87 L228.23 261.87ZM227.49 278.19 L242.36 278.19 L242.36 289.68 L261.34 305 L261.55 305.77 L262.33 307.11 L263.1 307.8 L262.04 308.52 L261.69 309.21 L261.8 310.36 L261.02 311.13 L261.09 312.47 L261.9 313.23 L261.02 313.73 L252.54 314.46 L252.08 313.04 L251.2 311.13 L249.43 309.98 L248.02 309.79 L247.66 308.72 L246.6 308.83 L245.19 308.26 L243.78 307.3 L240.78 307.11 L240.07 306.53 L240.25 304.62 L239.19 303.28 L237.77 302.32 L235.65 300.02 L235.48 298.87 L236.01 298.11 L235.3 297.53 L233.89 296.57 L233.53 295.04 L233.53 294.28 L231.77 293.51 L231.77 292.36 L229.29 290.06 L228.94 287.76 L228.76 286.23 L227 284.7 L226.82 284.13 L227.88 282.02 L227.53 279.34 L227.49 278.19ZM242.36 278.19 L263.42 278.19 L263.42 300.44 L262.26 300.67 L260.95 301.21 L261.23 303.08 L261.55 304.43 L261.34 305 L242.36 289.68ZM252.82 251.38 L256.32 251.38 L256.32 255.29 L257.38 256.93 L257.59 257.43 L258.97 258.08 L260.24 259.31 L261.62 260.38 L262.4 260.34 L261.9 262.3 L262.15 263.37 L261.58 263.75 L261.8 264.56 L263.56 264.1 L264.27 264.4 L265.51 266.47 L267.1 268.62 L267.8 268.81 L269.39 268.42 L272.5 268.42 L273.99 268.69 L273.99 278.19 L252.86 278.19 L252.86 271.3 L253.14 270.34 L252.79 269.65 L252.15 269.38 L252.61 268.62 L253.35 267.31 L253.49 266.7 L254.06 265.67 L254.55 264.94 L254.84 264.4 L253.81 263.56 L253.25 262.87 L252.82 261.26ZM256.32 251.38 L298.72 251.38 L298.72 266.7 L273.99 266.7 L273.99 268.69 L272.5 268.42 L269.39 268.42 L267.8 268.81 L267.1 268.62 L265.51 266.47 L264.27 264.4 L263.56 264.1 L261.8 264.56 L261.58 263.75 L262.15 263.37 L261.9 262.3 L262.4 260.34 L261.62 260.38 L260.24 259.31 L258.97 258.08 L257.59 257.43 L257.38 256.93 L256.32 255.29 L256.32 251.38ZM273.99 266.7 L298.72 266.7 L298.72 282.02 L273.99 282.02ZM263.42 278.19 L273.99 278.19 L273.99 282.02 L281.05 282.02 L281.05 297.34 L263.42 297.34ZM281.05 282.02 L305.78 282.02 L305.78 297.34 L281.05 297.34ZM263.42 297.34 L281.05 297.34 L281.05 319.06 L273.91 319.06 L260.7 314.61 L261.02 313.73 L261.9 313.23 L261.09 312.47 L261.02 311.13 L261.8 310.36 L261.69 309.21 L262.04 308.52 L263.1 307.8 L262.33 307.11 L261.55 305.77 L261.34 305 L261.55 304.43 L261.23 303.08 L260.95 301.21 L262.26 300.67 L263.39 300.44ZM281.05 297.34 L302.43 297.34 L302.28 299.25 L302.28 316.49 L289.64 316.49 L289.95 317.33 L284.02 317.33 L284.02 319.06 L281.05 319.06Z" fill="none" stroke="#505050" stroke-width="1" stroke-linejoin="round"/>
<path d="M232.3 251.38 L233.89 251.38 L234.59 253.68 L234.77 255.98 L234.24 258.66 L232.47 259.04 L231.24 257.51 L231.41 255.59 L232.12 254.06Z" fill="#111"/>
<path d="M233.71 293.13 L234.77 292.94 L235.3 293.89 L234.95 295.62 L234.24 295.62 L233.89 294.28Z" fill="#222"/>
<path d="M224.7 247.69 V323.32 M233.53 247.69 V250.69 M233.53 320.32 V323.32 M242.36 247.69 V250.69 M242.36 320.32 V323.32 M251.2 247.69 V250.69 M251.2 320.32 V323.32 M260.03 247.69 V250.69 M260.03 320.32 V323.32 M268.86 247.69 V250.69 M268.86 320.32 V323.32 M277.69 247.69 V250.69 M277.69 320.32 V323.32 M286.53 247.69 V250.69 M286.53 320.32 V323.32 M295.36 247.69 V250.69 M295.36 320.32 V323.32 M304.19 247.69 V250.69 M304.19 320.32 V323.32 M221.7 314.57 H224.7 M305.43 314.57 H308.93 M221.7 305 H224.7 M305.43 305 H308.93 M221.7 295.43 H224.7 M305.43 295.43 H308.93 M221.7 285.85 H224.7 M305.43 285.85 H308.93 M221.7 276.27 H224.7 M305.43 276.27 H308.93 M221.7 266.7 H224.7 M305.43 266.7 H308.93 M221.7 257.12 H224.7 M305.43 257.12 H308.93" stroke="#cfcfcf" stroke-width="0.8" fill="none"/>
<rect x="245.5" y="253.11" width="2.2" height="2.2" fill="#000"/>
<rect x="240.81" y="264.41" width="2.2" height="2.2" fill="#000"/>
<rect x="246" y="272.49" width="2.2" height="2.2" fill="#000"/>
<rect x="258.72" y="250.66" width="2.2" height="2.2" fill="#000"/>
<rect x="263.88" y="254.11" width="2.2" height="2.2" fill="#000"/>
<rect x="266.7" y="255.64" width="2.2" height="2.2" fill="#000"/>
<rect x="260.1" y="256.91" width="2.2" height="2.2" fill="#000"/>
<rect x="271.4" y="258.32" width="2.2" height="2.2" fill="#000"/>
<rect x="274.23" y="257.94" width="2.2" height="2.2" fill="#000"/>
<rect x="269" y="260.24" width="2.2" height="2.2" fill="#000"/>
<rect x="270.94" y="259.85" width="2.2" height="2.2" fill="#000"/>
<rect x="263.88" y="259.47" width="2.2" height="2.2" fill="#000"/>
<rect x="262.82" y="260.62" width="2.2" height="2.2" fill="#000"/>
<rect x="261.76" y="261.77" width="2.2" height="2.2" fill="#000"/>
<rect x="260.7" y="262.92" width="2.2" height="2.2" fill="#000"/>
<rect x="259.64" y="264.07" width="2.2" height="2.2" fill="#000"/>
<rect x="258.58" y="264.83" width="2.2" height="2.2" fill="#000"/>
<rect x="257.52" y="265.6" width="2.2" height="2.2" fill="#000"/>
<rect x="262.46" y="262.54" width="2.2" height="2.2" fill="#000"/>
<rect x="260.7" y="261" width="2.2" height="2.2" fill="#000"/>
<rect x="258.93" y="262.92" width="2.2" height="2.2" fill="#000"/>
<rect x="263.17" y="261.77" width="2.2" height="2.2" fill="#000"/>
<rect x="261.4" y="264.07" width="2.2" height="2.2" fill="#000"/>
<rect x="260.1" y="267.59" width="2.2" height="2.2" fill="#000"/>
<rect x="272" y="265.79" width="2.2" height="2.2" fill="#000"/>
<rect x="273.77" y="268.09" width="2.2" height="2.2" fill="#000"/>
<rect x="275.18" y="269.05" width="2.2" height="2.2" fill="#000"/>
<rect x="273.06" y="266.75" width="2.2" height="2.2" fill="#000"/>
<rect x="269.53" y="272.88" width="2.2" height="2.2" fill="#000"/>
<rect x="247.41" y="278.39" width="2.2" height="2.2" fill="#000"/>
<rect x="249.5" y="277.66" width="2.2" height="2.2" fill="#000"/>
<rect x="229.61" y="283.1" width="2.2" height="2.2" fill="#000"/>
<rect x="236.6" y="285.02" width="2.2" height="2.2" fill="#000"/>
<rect x="235.97" y="285.9" width="2.2" height="2.2" fill="#000"/>
<rect x="243.21" y="286.78" width="2.2" height="2.2" fill="#000"/>
<rect x="242.22" y="287.81" width="2.2" height="2.2" fill="#000"/>
<rect x="243.03" y="287.81" width="2.2" height="2.2" fill="#000"/>
<rect x="233.32" y="292.91" width="2.2" height="2.2" fill="#000"/>
<rect x="240.81" y="293.41" width="2.2" height="2.2" fill="#000"/>
<rect x="245.4" y="298.31" width="2.2" height="2.2" fill="#000"/>
<rect x="247.8" y="300.07" width="2.2" height="2.2" fill="#000"/>
<rect x="246.81" y="301.49" width="2.2" height="2.2" fill="#000"/>
<rect x="251.51" y="299.69" width="2.2" height="2.2" fill="#000"/>
<rect x="255.75" y="298.31" width="2.2" height="2.2" fill="#000"/>
<rect x="252.01" y="311.18" width="2.2" height="2.2" fill="#000"/>
<rect x="259" y="301.1" width="2.2" height="2.2" fill="#000"/>
<rect x="263.52" y="276.4" width="2.2" height="2.2" fill="#000"/>
<rect x="265.11" y="276.78" width="2.2" height="2.2" fill="#000"/>
<rect x="274.4" y="275.94" width="2.2" height="2.2" fill="#000"/>
<rect x="261.9" y="293.56" width="2.2" height="2.2" fill="#000"/>
<rect x="280.69" y="294.02" width="2.2" height="2.2" fill="#000"/>
<rect x="256.14" y="299" width="2.2" height="2.2" fill="#000"/>
<rect x="262.71" y="298.69" width="2.2" height="2.2" fill="#000"/>
<rect x="261.9" y="300.3" width="2.2" height="2.2" fill="#000"/>
<rect x="269.71" y="298.69" width="2.2" height="2.2" fill="#000"/>
<rect x="269.71" y="301.41" width="2.2" height="2.2" fill="#000"/>
<rect x="263.52" y="304.51" width="2.2" height="2.2" fill="#000"/>
<rect x="264.23" y="303.9" width="2.2" height="2.2" fill="#000"/>
<rect x="274.4" y="307.58" width="2.2" height="2.2" fill="#000"/>
<rect x="275.18" y="307.16" width="2.2" height="2.2" fill="#000"/>
<rect x="280.69" y="309.26" width="2.2" height="2.2" fill="#000"/>
<rect x="289.31" y="299.8" width="2.2" height="2.2" fill="#000"/>
<rect x="292.49" y="300.61" width="2.2" height="2.2" fill="#000"/>
<rect x="292.14" y="312.33" width="2.2" height="2.2" fill="#000"/>
<rect x="296.31" y="310.03" width="2.2" height="2.2" fill="#000"/>
<rect x="264.23" y="259.09" width="2.2" height="2.2" fill="#000"/>
<rect x="265.11" y="258.9" width="2.2" height="2.2" fill="#000"/>
<rect x="263.52" y="259.55" width="2.2" height="2.2" fill="#000"/>
<rect x="263.52" y="259.74" width="2.2" height="2.2" fill="#000"/>
<rect x="264.41" y="259.55" width="2.2" height="2.2" fill="#000"/>
<rect x="262.82" y="260.2" width="2.2" height="2.2" fill="#000"/>
<rect x="262.82" y="260.43" width="2.2" height="2.2" fill="#000"/>
<rect x="263.7" y="260.24" width="2.2" height="2.2" fill="#000"/>
<rect x="262.11" y="260.89" width="2.2" height="2.2" fill="#000"/>
<rect x="262.11" y="261.08" width="2.2" height="2.2" fill="#000"/>
<rect x="262.99" y="260.89" width="2.2" height="2.2" fill="#000"/>
<rect x="261.4" y="261.54" width="2.2" height="2.2" fill="#000"/>
<rect x="261.4" y="261.77" width="2.2" height="2.2" fill="#000"/>
<rect x="262.29" y="261.58" width="2.2" height="2.2" fill="#000"/>
<rect x="260.7" y="262.23" width="2.2" height="2.2" fill="#000"/>
<rect x="260.7" y="262.42" width="2.2" height="2.2" fill="#000"/>
<rect x="261.58" y="262.23" width="2.2" height="2.2" fill="#000"/>
<rect x="259.99" y="262.88" width="2.2" height="2.2" fill="#000"/>
<rect x="259.99" y="263.11" width="2.2" height="2.2" fill="#000"/>
<rect x="260.87" y="262.92" width="2.2" height="2.2" fill="#000"/>
<rect x="259.28" y="263.57" width="2.2" height="2.2" fill="#000"/>
<rect x="259.28" y="263.76" width="2.2" height="2.2" fill="#000"/>
<rect x="260.17" y="263.61" width="2.2" height="2.2" fill="#000"/>
<rect x="258.58" y="264.22" width="2.2" height="2.2" fill="#000"/>
<rect x="258.58" y="264.45" width="2.2" height="2.2" fill="#000"/>
<rect x="259.46" y="264.26" width="2.2" height="2.2" fill="#000"/>
<rect x="257.87" y="264.91" width="2.2" height="2.2" fill="#000"/>
<rect x="257.87" y="265.14" width="2.2" height="2.2" fill="#000"/>
<rect x="258.75" y="264.95" width="2.2" height="2.2" fill="#000"/>
<rect x="257.16" y="265.56" width="2.2" height="2.2" fill="#000"/>
<rect x="257.16" y="265.79" width="2.2" height="2.2" fill="#000"/>
<rect x="258.05" y="265.6" width="2.2" height="2.2" fill="#000"/>
<rect x="256.46" y="266.25" width="2.2" height="2.2" fill="#000"/>
<rect x="258.51" y="251.31" width="2.2" height="2.2" fill="#000"/>
<rect x="263.81" y="254.3" width="2.2" height="2.2" fill="#000"/>
<rect x="266.81" y="255.8" width="2.2" height="2.2" fill="#000"/>
<rect x="259.99" y="256.48" width="2.2" height="2.2" fill="#000"/>
<rect x="260.41" y="267.78" width="2.2" height="2.2" fill="#000"/>
<rect x="255.89" y="264.07" width="2.2" height="2.2" fill="#000"/>
<rect x="269" y="259.85" width="2.2" height="2.2" fill="#000"/>
<rect x="270.94" y="258.71" width="2.2" height="2.2" fill="#000"/>
<rect x="272" y="260.24" width="2.2" height="2.2" fill="#000"/>
<rect x="274.65" y="258.02" width="2.2" height="2.2" fill="#000"/>
<rect x="55" y="335.6" width="49.7" height="9.4" fill="url(#gp)"/>
<rect x="266.5" y="335.6" width="49.8" height="9.4" fill="url(#gc)"/>
<g font-family="Liberation Sans, sans-serif"><text x="50.3" y="6.9" font-size="8.3" textLength="36.9" lengthAdjust="spacingAndGlyphs" fill="#1a1a1a">Full Model</text><text x="129.6" y="6.9" font-size="8.3" textLength="75.3" lengthAdjust="spacingAndGlyphs" fill="#1a1a1a">No Climate Variability</text><text x="241.1" y="6.9" font-size="8.3" textLength="49.6" lengthAdjust="spacingAndGlyphs" fill="#1a1a1a">No Vegetation</text><text transform="translate(312.6 47.64) rotate(90)" font-size="6.6" text-anchor="middle" fill="#1a1a1a">1991</text><text transform="translate(312.6 126.81) rotate(90)" font-size="6.6" text-anchor="middle" fill="#1a1a1a">1996</text><text transform="translate(312.6 205.95) rotate(90)" font-size="6.6" text-anchor="middle" fill="#1a1a1a">1997</text><text transform="translate(312.6 285.51) rotate(90)" font-size="6.6" text-anchor="middle" fill="#1a1a1a">2000</text><text x="20.6" y="31.3" font-size="7" text-anchor="end" fill="#4d4d4d">45</text><text x="20.6" y="50.48" font-size="7" text-anchor="end" fill="#4d4d4d">40</text><text x="20.6" y="69.67" font-size="7" text-anchor="end" fill="#4d4d4d">35</text><text x="20.6" y="110.6" font-size="7" text-anchor="end" fill="#4d4d4d">45</text><text x="20.6" y="129.65" font-size="7" text-anchor="end" fill="#4d4d4d">40</text><text x="20.6" y="148.7" font-size="7" text-anchor="end" fill="#4d4d4d">35</text><text x="20.6" y="189.5" font-size="7" text-anchor="end" fill="#4d4d4d">45</text><text x="20.6" y="208.8" font-size="7" text-anchor="end" fill="#4d4d4d">40</text><text x="20.6" y="228.1" font-size="7" text-anchor="end" fill="#4d4d4d">35</text><text x="20.6" y="269.2" font-size="7" text-anchor="end" fill="#4d4d4d">45</text><text x="20.6" y="288.35" font-size="7" text-anchor="end" fill="#4d4d4d">40</text><text x="20.6" y="307.5" font-size="7" text-anchor="end" fill="#4d4d4d">35</text><text x="26.3" y="332" font-size="7" text-anchor="middle" fill="#4d4d4d">−125</text><text x="44.21" y="332" font-size="7" text-anchor="middle" fill="#4d4d4d">−120</text><text x="62.12" y="332" font-size="7" text-anchor="middle" fill="#4d4d4d">−115</text><text x="80.03" y="332" font-size="7" text-anchor="middle" fill="#4d4d4d">−110</text><text x="97.94" y="332" font-size="7" text-anchor="middle" fill="#4d4d4d">−105</text><text x="124" y="332" font-size="7" text-anchor="middle" fill="#4d4d4d">−125</text><text x="142.49" y="332" font-size="7" text-anchor="middle" fill="#4d4d4d">−120</text><text x="160.98" y="332" font-size="7" text-anchor="middle" fill="#4d4d4d">−115</text><text x="179.47" y="332" font-size="7" text-anchor="middle" fill="#4d4d4d">−110</text><text x="197.96" y="332" font-size="7" text-anchor="middle" fill="#4d4d4d">−105</text><text x="224" y="332" font-size="7" text-anchor="middle" fill="#4d4d4d">−125</text><text x="241.66" y="332" font-size="7" text-anchor="middle" fill="#4d4d4d">−120</text><text x="259.33" y="332" font-size="7" text-anchor="middle" fill="#4d4d4d">−115</text><text x="277" y="332" font-size="7" text-anchor="middle" fill="#4d4d4d">−110</text><text x="294.66" y="332" font-size="7" text-anchor="middle" fill="#4d4d4d">−105</text><text x="148.4" y="362.9" font-size="8.3" textLength="35.1" lengthAdjust="spacingAndGlyphs" fill="#1a1a1a">Longitude</text><text transform="translate(7.4 198.7) rotate(-90)" font-size="8.3" textLength="27.6" lengthAdjust="spacingAndGlyphs" fill="#1a1a1a">Latitude</text><text x="20.8" y="346.2" font-size="7.2" textLength="32.5" lengthAdjust="spacingAndGlyphs" fill="#1a1a1a">Probability</text><text x="225.8" y="345.9" font-size="6.8" textLength="38.2" lengthAdjust="spacingAndGlyphs" fill="#1a1a1a">Prob. Change</text><text x="57.5" y="351.6" font-size="6" text-anchor="middle" fill="#4d4d4d">0.0</text><text x="68.8" y="351.6" font-size="6" text-anchor="middle" fill="#4d4d4d">0.2</text><text x="80.1" y="351.6" font-size="6" text-anchor="middle" fill="#4d4d4d">0.4</text><text x="91.4" y="351.6" font-size="6" text-anchor="middle" fill="#4d4d4d">0.6</text><text x="102.7" y="351.6" font-size="6" text-anchor="middle" fill="#4d4d4d">0.8</text><text x="269.5" y="351" font-size="5.6" text-anchor="middle" fill="#4d4d4d">−0.50</text><text x="283.7" y="351" font-size="5.6" text-anchor="middle" fill="#4d4d4d">−0.25</text><text x="297.9" y="351" font-size="5.6" text-anchor="middle" fill="#4d4d4d">0.00</text><text x="312.1" y="351" font-size="5.6" text-anchor="middle" fill="#4d4d4d">0.25</text></g>
</svg></body></html>
